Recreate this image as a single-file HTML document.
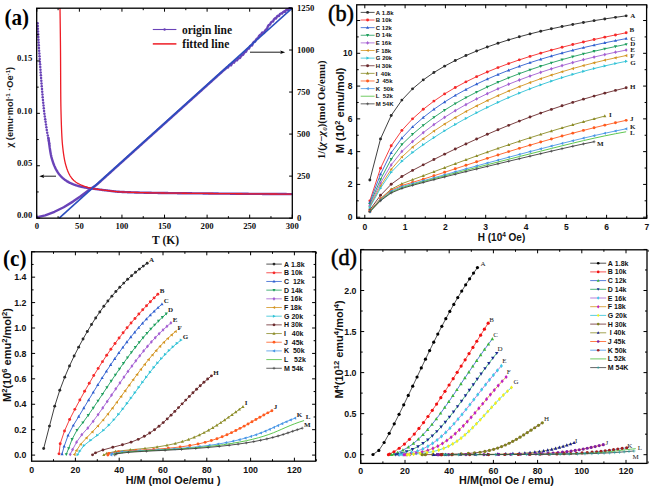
<!DOCTYPE html>
<html><head><meta charset="utf-8"><style>html,body{margin:0;padding:0;background:#fff;overflow:hidden;}svg{display:block;}</style></head>
<body>
<svg width="650" height="486" viewBox="0 0 650 486">
<rect width="650" height="486" fill="#fff"/>
<polyline points="37.6,217.1 45.2,215.3 54.5,211.8 63.7,207.2 72.9,201.6 80.3,196.5 87.7,191 91.5,188.2 96,185.36 97,184.46 98,183.56 99,182.66 100,181.75 101,180.85 102,179.95 103,179.05 104,178.15 105,177.25 106,176.34 107,175.44 108,174.54 109,173.64 110,172.74 111,171.84 112,170.93 113,170.03 114,169.13 115,168.23 116,167.33 117,166.43 118,165.52 119,164.62 120,163.72 121,162.82 122,161.92 123,161.02 124,160.11 125,159.21 126,158.31 127,157.41 128,156.51 129,155.61 130,154.7 131,153.8 132,152.9 133,152 134,151.1 135,150.19 136,149.29 137,148.39 138,147.49 139,146.59 140,145.69 141,144.78 142,143.88 143,142.98 144,142.08 145,141.18 146,140.28 147,139.37 148,138.47 149,137.57 150,136.67 151,135.77 152,134.87 153,133.97 154,133.07 155,132.17 156,131.27 157,130.37 158,129.47 159,128.57 160,127.67 161,126.77 162,125.87 163,124.97 164,124.07 165,123.17 166,122.27 167,121.37 168,120.47 169,119.57 170,118.67 171,117.78 172,116.88 173,115.98 174,115.08 175,114.18 176,113.28 177,112.38 178,111.48 179,110.58 180,109.68 181,108.78 182,107.88 183,106.98 184,106.08 185,105.18 186,104.28 187,103.38 188,102.48 189,101.58 190,100.68 191,99.78 192,98.88 193,97.98 194,97.08 195,96.18 196,95.28 197,94.38 198,93.48 199,92.58 200,91.68 201,90.78 202,89.88 203,88.98 204,88.08 205,87.17 206,86.27 207,85.37 208,84.47 209,83.57 210,82.67 211,81.76 212,80.86 213,79.96 214,79.06 215,78.16 216,77.26 217,76.35 218,75.45 219,74.55 220,73.65 221,72.75 222,71.85 223,70.94 224,70.04 225,69.22 226,68.39 227,67.24 228,67.56 229,65.48 230,64.84 231,65.34 232,63.52 233,62.33 234,62.7 235,60.83 236,60.34 237,60.31 238,58.69 239,57.98 240,57.98 241,56.19 242,55.17 243,54.9 244,53.19 245,51.86 246,51.85 247,49.57 248,48.67 249,48.49 250,46.19 251,45.35 252,45.46 253,42.96 254,41.74 255,41.72 256,39.77 257,38.55 258,38.19 259,36.11 260,34.9 261,34.51 262,32.72 263,32.48 264,32.91 265,30.69 266,29.56 267,28.96 268,26.2 269,24.81 270,24.6 271,22.39 272,21.63 273,21.51 274,19.28 275,18.27 276,18.58 277,16.52 278,15.67 279,16.06 280,13.98 281,13.45 282,13.66 283,12.12 284,11.44 285,11.75 286,10.13 287,9.37 288,10.03 289,8.38 290,8.12 291,8.62" fill="none" stroke="#6a43b8" stroke-width="2.4" stroke-linejoin="round" stroke-linecap="round"/>
<polyline points="48.36,138.11 48.45,138.6 48.54,139.09 48.63,139.58 48.71,140.08 48.79,140.57 48.86,141.06 48.93,141.56 49,142.05 49.06,142.55 49.13,143.05 49.19,143.54 49.25,144.04 49.31,144.53 49.37,145.03 49.43,145.53 49.5,146.02 49.56,146.52 49.63,147.02 49.7,147.51 49.77,148.01 49.85,148.5 49.92,148.99 50,149.49 50.08,149.98 50.16,150.48 50.24,150.97 50.32,151.47 50.4,151.96 50.49,152.45 50.58,152.95 50.67,153.44 50.76,153.93 50.86,154.42 50.95,154.91 51.06,155.4 51.16,155.89 51.27,156.37 51.38,156.86 51.5,157.34 51.63,157.82 51.76,158.31 51.89,158.79 52.03,159.27 52.17,159.75 52.32,160.23 52.47,160.71 52.63,161.19 52.79,161.67 52.95,162.14 53.12,162.61 53.29,163.09 53.46,163.55 53.64,164.02 53.82,164.48 54,164.95 54.18,165.41 54.38,165.87 54.57,166.33 54.78,166.79 54.99,167.25 55.2,167.7 55.42,168.16 55.64,168.61 55.87,169.06 56.11,169.5 56.35,169.94 56.59,170.38 56.84,170.81 57.09,171.24 57.35,171.66 57.61,172.08 57.89,172.49 58.17,172.91 58.46,173.32 58.75,173.73 59.06,174.13 59.37,174.53 59.69,174.92 60.02,175.31 60.35,175.69 60.69,176.06 61.03,176.42 61.37,176.77 61.72,177.12 62.08,177.46 62.44,177.79 62.82,178.13 63.2,178.45 63.58,178.78 63.98,179.1 64.38,179.41 64.78,179.72 65.19,180.02 65.6,180.31 66.02,180.59 66.44,180.87 66.86,181.14 67.28,181.4 67.71,181.65 68.14,181.89 68.57,182.13 69.01,182.36 69.45,182.59 69.89,182.82 70.35,183.04 70.8,183.25 71.26,183.47 71.72,183.67 72.18,183.87 72.65,184.07 73.12,184.26 73.58,184.45 74.06,184.63 74.53,184.8 75,184.97 75.47,185.13 75.94,185.28 76.41,185.43 76.89,185.58 77.36,185.72 77.84,185.86 78.32,186 78.8,186.13 79.29,186.26 79.77,186.39 80.26,186.51 80.74,186.64 81.23,186.76 81.72,186.87 82.21,186.98 82.7,187.09 83.19,187.2 83.68,187.3 84.18,187.4 84.67,187.5 85.16,187.6 85.65,187.69 86.14,187.77 86.63,187.86 87.12,187.94 87.62,188.01 88.11,188.09 88.6,188.16 89.1,188.23 89.59,188.3 90.09,188.36 90.59,188.43 91.08,188.49 91.58,188.55 92.08,188.61 92.57,188.67 93.07,188.73 93.57,188.79 94.06,188.85 94.56,188.91 95.06,188.97 95.56,189.03 96.05,189.09 96.55,189.15 97.04,189.22 97.54,189.28 98.04,189.35 98.53,189.41 99.03,189.48 99.52,189.55 100.02,189.61 100.51,189.68 101.01,189.74 101.51,189.81 102,189.87 102.5,189.94 102.99,190 103.49,190.07 103.99,190.13 104.48,190.19 104.98,190.25 105.47,190.31 105.97,190.37 106.47,190.43 106.96,190.49 107.46,190.55 107.96,190.61 108.45,190.68 108.95,190.74 109.45,190.8 109.94,190.87 110.44,190.93 110.94,190.99 111.43,191.06 111.93,191.12 112.43,191.18 112.92,191.24 113.42,191.29 113.92,191.35 114.41,191.41 114.91,191.46 115.41,191.51 115.91,191.56 116.4,191.6 116.9,191.65 117.4,191.69 117.9,191.72 118.4,191.76 118.89,191.79 119.39,191.82 119.89,191.84 120.39,191.87 120.89,191.89 121.39,191.92 121.88,191.94 122.38,191.97 122.88,191.99 123.38,192.01 123.88,192.04 124.38,192.06 124.88,192.08 125.38,192.1 125.88,192.12 126.38,192.15 126.88,192.17 127.38,192.19 127.87,192.21 128.37,192.23 128.87,192.24 129.37,192.26 129.87,192.28 130.37,192.3 130.87,192.32 131.37,192.33 131.87,192.35 132.37,192.37 132.87,192.38 133.37,192.4 133.87,192.42 134.37,192.43 134.87,192.45 135.37,192.46 135.87,192.48 136.37,192.49 136.87,192.51 137.37,192.52 137.87,192.53 138.37,192.55 138.87,192.56 139.37,192.57 139.87,192.59 140.37,192.6 140.88,192.61 141.38,192.62 141.88,192.63 142.38,192.65 142.88,192.66 143.38,192.67 143.88,192.68 144.38,192.69 144.88,192.7 145.38,192.71 145.88,192.72 146.38,192.73 146.88,192.74 147.38,192.75 147.88,192.76 148.38,192.77 148.88,192.78 149.38,192.79 149.88,192.8 150.38,192.81 150.88,192.82 151.38,192.82 151.88,192.83 152.38,192.84 152.88,192.85 153.38,192.86 153.88,192.87 154.38,192.88 154.88,192.88 155.38,192.89 155.88,192.9 156.38,192.91 156.88,192.92 157.38,192.92 157.88,192.93 158.37,192.94 158.87,192.95 159.37,192.95 159.87,192.96 160.37,192.97 160.87,192.98 161.37,192.98 161.87,192.99 162.37,193 162.87,193 163.37,193.01 163.87,193.02 164.37,193.02 164.87,193.03 165.37,193.04 165.87,193.04 166.37,193.05 166.87,193.06 167.37,193.06 167.87,193.07 168.37,193.08 168.87,193.08 169.37,193.09 169.87,193.09 170.37,193.1 170.87,193.11 171.37,193.11 171.87,193.12 172.37,193.12 172.87,193.13 173.37,193.14 173.87,193.14 174.37,193.15 174.87,193.15 175.37,193.16 175.87,193.16 176.37,193.17 176.87,193.17 177.37,193.18 177.87,193.18 178.37,193.19 178.87,193.2 179.37,193.2 179.87,193.21 180.37,193.21 180.87,193.22 181.37,193.22 181.87,193.23 182.37,193.23 182.87,193.24 183.37,193.24 183.87,193.25 184.37,193.25 184.87,193.26 185.37,193.26 185.87,193.27 186.37,193.27 186.87,193.28 187.37,193.28 187.87,193.29 188.37,193.29 188.87,193.29 189.37,193.3 189.87,193.3 190.37,193.31 190.87,193.31 191.37,193.32 191.87,193.32 192.37,193.33 192.87,193.33 193.37,193.34 193.87,193.34 194.37,193.35 194.87,193.35 195.37,193.36 195.87,193.36 196.37,193.37 196.87,193.37 197.37,193.38 197.87,193.38 198.37,193.38 198.87,193.39 199.37,193.39 199.87,193.4 200.37,193.4 200.87,193.41 201.37,193.41 201.87,193.42 202.37,193.42 202.87,193.43 203.37,193.43 203.87,193.44 204.37,193.44 204.87,193.45 205.37,193.45 205.87,193.46 206.37,193.46 206.87,193.47 207.37,193.47 207.87,193.47 208.37,193.48 208.87,193.48 209.37,193.49 209.87,193.49 210.37,193.5 210.87,193.5 211.37,193.51 211.87,193.51 212.37,193.52 212.87,193.52 213.37,193.53 213.87,193.53 214.37,193.53 214.87,193.54 215.37,193.54 215.87,193.55 216.37,193.55 216.87,193.56 217.37,193.56 217.87,193.57 218.37,193.57 218.87,193.58 219.37,193.58 219.87,193.58 220.37,193.59 220.87,193.59 221.37,193.6 221.87,193.6 222.37,193.61 222.87,193.61 223.37,193.62 223.87,193.62 224.37,193.62 224.87,193.63 225.37,193.63 225.87,193.64 226.37,193.64 226.87,193.65 227.37,193.65 227.87,193.66 228.37,193.66 228.87,193.66 229.37,193.67 229.87,193.67 230.37,193.68 230.87,193.68 231.37,193.69 231.87,193.69 232.37,193.69 232.87,193.7 233.37,193.7 233.87,193.71 234.37,193.71 234.87,193.72 235.37,193.72 235.87,193.72 236.37,193.73 236.87,193.73 237.37,193.74 237.87,193.74 238.37,193.74 238.87,193.75 239.37,193.75 239.87,193.76 240.37,193.76 240.87,193.76 241.37,193.77 241.87,193.77 242.37,193.78 242.87,193.78 243.37,193.79 243.87,193.79 244.37,193.79 244.87,193.8 245.37,193.8 245.87,193.8 246.37,193.81 246.87,193.81 247.37,193.82 247.87,193.82 248.37,193.82 248.87,193.83 249.37,193.83 249.87,193.84 250.37,193.84 250.87,193.84 251.37,193.85 251.87,193.85 252.37,193.85 252.87,193.86 253.37,193.86 253.87,193.87 254.37,193.87 254.87,193.87 255.37,193.88 255.87,193.88 256.37,193.88 256.87,193.89 257.37,193.89 257.87,193.9 258.37,193.9 258.87,193.9 259.37,193.91 259.87,193.91 260.37,193.91 260.87,193.92 261.37,193.92 261.87,193.92 262.37,193.93 262.87,193.93 263.37,193.93 263.87,193.94 264.37,193.94 264.87,193.94 265.37,193.95 265.87,193.95 266.37,193.95 266.87,193.96 267.37,193.96 267.87,193.96 268.37,193.97 268.87,193.97 269.37,193.97 269.87,193.98 270.37,193.98 270.87,193.98 271.37,193.99 271.87,193.99 272.37,193.99 272.87,194 273.37,194 273.87,194 274.37,194.01 274.87,194.01 275.37,194.01 275.87,194.01 276.37,194.02 276.87,194.02 277.37,194.02 277.87,194.03 278.37,194.03 278.87,194.03 279.37,194.04 279.87,194.04 280.37,194.04 280.87,194.04 281.37,194.05 281.87,194.05 282.37,194.05 282.87,194.06 283.37,194.06 283.87,194.06 284.37,194.06 284.87,194.07 285.37,194.07 285.87,194.07 286.37,194.07 286.87,194.08 287.37,194.08 287.87,194.08 288.37,194.08 288.87,194.09 289.37,194.09 289.87,194.09 290.37,194.09 290.87,194.1 291.37,194.1" fill="none" stroke="#6a43b8" stroke-width="2.4" stroke-linejoin="round" stroke-linecap="round"/>
<polyline points="37.6,23.2 37.73,25.95 37.87,28.69 38.01,31.44 38.16,34.19 38.31,36.93 38.46,39.68 38.62,42.42 38.79,45.17 38.96,47.91 39.14,50.66 39.33,53.4 39.51,56.14 39.7,58.89 39.89,61.63 40.08,64.37 40.28,67.12 40.47,69.86 40.67,72.6 40.88,75.35 41.08,78.09 41.3,80.83 41.52,83.57 41.74,86.31 41.97,89.05 42.21,91.79 42.45,94.53 42.7,97.27 42.95,100.01 43.22,102.75 43.5,105.48 43.79,108.22 44.09,110.95 44.42,113.68 44.79,116.4 45.18,119.13 45.58,121.85 45.96,124.57 46.35,127.3 46.76,130.02 47.22,132.72 47.79,135.42 48.36,138.11 48.83,140.82 49.19,143.54" fill="none" stroke="#6a43b8" stroke-width="0.4" stroke-linejoin="round" stroke-opacity="0.6"/>
<circle cx="37.6" cy="23.2" r="1.25" fill="#6a43b8"/>
<circle cx="37.73" cy="25.95" r="1.25" fill="#6a43b8"/>
<circle cx="37.87" cy="28.69" r="1.25" fill="#6a43b8"/>
<circle cx="38.01" cy="31.44" r="1.25" fill="#6a43b8"/>
<circle cx="38.16" cy="34.19" r="1.25" fill="#6a43b8"/>
<circle cx="38.31" cy="36.93" r="1.25" fill="#6a43b8"/>
<circle cx="38.46" cy="39.68" r="1.25" fill="#6a43b8"/>
<circle cx="38.62" cy="42.42" r="1.25" fill="#6a43b8"/>
<circle cx="38.79" cy="45.17" r="1.25" fill="#6a43b8"/>
<circle cx="38.96" cy="47.91" r="1.25" fill="#6a43b8"/>
<circle cx="39.14" cy="50.66" r="1.25" fill="#6a43b8"/>
<circle cx="39.33" cy="53.4" r="1.25" fill="#6a43b8"/>
<circle cx="39.51" cy="56.14" r="1.25" fill="#6a43b8"/>
<circle cx="39.7" cy="58.89" r="1.25" fill="#6a43b8"/>
<circle cx="39.89" cy="61.63" r="1.25" fill="#6a43b8"/>
<circle cx="40.08" cy="64.37" r="1.25" fill="#6a43b8"/>
<circle cx="40.28" cy="67.12" r="1.25" fill="#6a43b8"/>
<circle cx="40.47" cy="69.86" r="1.25" fill="#6a43b8"/>
<circle cx="40.67" cy="72.6" r="1.25" fill="#6a43b8"/>
<circle cx="40.88" cy="75.35" r="1.25" fill="#6a43b8"/>
<circle cx="41.08" cy="78.09" r="1.25" fill="#6a43b8"/>
<circle cx="41.3" cy="80.83" r="1.25" fill="#6a43b8"/>
<circle cx="41.52" cy="83.57" r="1.25" fill="#6a43b8"/>
<circle cx="41.74" cy="86.31" r="1.25" fill="#6a43b8"/>
<circle cx="41.97" cy="89.05" r="1.25" fill="#6a43b8"/>
<circle cx="42.21" cy="91.79" r="1.25" fill="#6a43b8"/>
<circle cx="42.45" cy="94.53" r="1.25" fill="#6a43b8"/>
<circle cx="42.7" cy="97.27" r="1.25" fill="#6a43b8"/>
<circle cx="42.95" cy="100.01" r="1.25" fill="#6a43b8"/>
<circle cx="43.22" cy="102.75" r="1.25" fill="#6a43b8"/>
<circle cx="43.5" cy="105.48" r="1.25" fill="#6a43b8"/>
<circle cx="43.79" cy="108.22" r="1.25" fill="#6a43b8"/>
<circle cx="44.09" cy="110.95" r="1.25" fill="#6a43b8"/>
<circle cx="44.42" cy="113.68" r="1.25" fill="#6a43b8"/>
<circle cx="44.79" cy="116.4" r="1.25" fill="#6a43b8"/>
<circle cx="45.18" cy="119.13" r="1.25" fill="#6a43b8"/>
<circle cx="45.58" cy="121.85" r="1.25" fill="#6a43b8"/>
<circle cx="45.96" cy="124.57" r="1.25" fill="#6a43b8"/>
<circle cx="46.35" cy="127.3" r="1.25" fill="#6a43b8"/>
<circle cx="46.76" cy="130.02" r="1.25" fill="#6a43b8"/>
<circle cx="47.22" cy="132.72" r="1.25" fill="#6a43b8"/>
<circle cx="47.79" cy="135.42" r="1.25" fill="#6a43b8"/>
<circle cx="48.36" cy="138.11" r="1.25" fill="#6a43b8"/>
<circle cx="48.83" cy="140.82" r="1.25" fill="#6a43b8"/>
<circle cx="49.19" cy="143.54" r="1.25" fill="#6a43b8"/>
<polyline points="60,8 60.01,8.66 60.02,9.32 60.03,9.98 60.04,10.64 60.05,11.29 60.06,11.95 60.07,12.61 60.08,13.27 60.09,13.93 60.09,14.59 60.1,15.25 60.11,15.91 60.12,16.56 60.13,17.22 60.14,17.88 60.15,18.54 60.16,19.2 60.17,19.86 60.18,20.52 60.18,21.18 60.19,21.84 60.2,22.49 60.21,23.15 60.22,23.81 60.23,24.47 60.24,25.13 60.24,25.79 60.25,26.45 60.26,27.11 60.27,27.76 60.28,28.42 60.29,29.08 60.29,29.74 60.3,30.4 60.31,31.06 60.32,31.72 60.32,32.38 60.33,33.03 60.34,33.69 60.35,34.35 60.35,35.01 60.36,35.67 60.37,36.33 60.38,36.99 60.38,37.65 60.39,38.31 60.4,38.96 60.4,39.62 60.41,40.28 60.42,40.94 60.42,41.6 60.43,42.26 60.44,42.92 60.44,43.58 60.45,44.24 60.46,44.89 60.46,45.55 60.47,46.21 60.47,46.87 60.48,47.53 60.49,48.19 60.49,48.85 60.5,49.51 60.5,50.16 60.51,50.82 60.51,51.48 60.52,52.14 60.52,52.8 60.53,53.46 60.53,54.12 60.53,54.78 60.54,55.44 60.54,56.09 60.55,56.75 60.55,57.41 60.56,58.07 60.56,58.73 60.56,59.39 60.57,60.05 60.57,60.71 60.57,61.37 60.58,62.02 60.58,62.68 60.58,63.34 60.59,64 60.59,64.66 60.59,65.32 60.6,65.98 60.6,66.64 60.6,67.3 60.61,67.95 60.61,68.61 60.61,69.27 60.61,69.93 60.62,70.59 60.62,71.25 60.62,71.91 60.63,72.57 60.63,73.23 60.63,73.88 60.63,74.54 60.64,75.2 60.64,75.86 60.64,76.52 60.65,77.18 60.65,77.84 60.65,78.5 60.66,79.16 60.66,79.81 60.66,80.47 60.66,81.13 60.67,81.79 60.67,82.45 60.67,83.11 60.68,83.77 60.68,84.43 60.69,85.08 60.69,85.74 60.69,86.4 60.7,87.06 60.7,87.72 60.71,88.38 60.71,89.04 60.71,89.7 60.72,90.36 60.72,91.01 60.73,91.67 60.73,92.33 60.74,92.99 60.74,93.65 60.75,94.31 60.75,94.97 60.76,95.63 60.76,96.29 60.77,96.94 60.78,97.6 60.78,98.26 60.79,98.92 60.8,99.58 60.8,100.24 60.81,100.9 60.82,101.56 60.83,102.21 60.84,102.87 60.85,103.53 60.86,104.19 60.87,104.85 60.88,105.51 60.89,106.17 60.9,106.83 60.92,107.48 60.93,108.14 60.94,108.8 60.96,109.46 60.97,110.12 60.99,110.78 61.01,111.44 61.02,112.1 61.04,112.75 61.05,113.41 61.07,114.07 61.09,114.73 61.11,115.39 61.13,116.05 61.14,116.71 61.16,117.36 61.18,118.02 61.2,118.68 61.22,119.34 61.24,120 61.26,120.66 61.28,121.32 61.3,121.97 61.32,122.63 61.34,123.29 61.36,123.95 61.38,124.61 61.41,125.27 61.43,125.93 61.45,126.58 61.48,127.24 61.5,127.9 61.53,128.56 61.55,129.22 61.58,129.88 61.61,130.54 61.63,131.2 61.66,131.85 61.69,132.51 61.72,133.17 61.76,133.83 61.79,134.49 61.82,135.14 61.86,135.8 61.89,136.46 61.93,137.12 61.97,137.78 62,138.43 62.04,139.09 62.08,139.75 62.13,140.4 62.17,141.06 62.22,141.72 62.27,142.37 62.33,143.03 62.39,143.69 62.45,144.34 62.51,145 62.58,145.66 62.65,146.31 62.72,146.97 62.79,147.62 62.86,148.28 62.94,148.93 63.02,149.59 63.09,150.24 63.17,150.89 63.25,151.55 63.34,152.2 63.42,152.86 63.51,153.51 63.6,154.16 63.7,154.82 63.8,155.47 63.9,156.12 64,156.77 64.11,157.43 64.22,158.07 64.34,158.72 64.46,159.37 64.58,160.01 64.71,160.66 64.85,161.3 64.99,161.94 65.14,162.59 65.29,163.23 65.45,163.87 65.62,164.51 65.8,165.15 65.98,165.79 66.17,166.42 66.36,167.06 66.57,167.68 66.77,168.31 66.99,168.93 67.21,169.54 67.43,170.15 67.67,170.77 67.92,171.38 68.18,172 68.45,172.61 68.74,173.21 69.03,173.82 69.34,174.41 69.66,174.99 69.98,175.56 70.32,176.12 70.67,176.66 71.03,177.19 71.41,177.71 71.82,178.23 72.25,178.74 72.69,179.25 73.16,179.74 73.63,180.22 74.12,180.68 74.62,181.12 75.13,181.54 75.64,181.94 76.16,182.31 76.69,182.66 77.24,183 77.81,183.33 78.39,183.65 78.98,183.95 79.58,184.25 80.19,184.53 80.8,184.81 81.41,185.07 82.03,185.33 82.64,185.58 83.25,185.82 83.87,186.06 84.48,186.29 85.1,186.51 85.73,186.73 86.36,186.94 86.99,187.14 87.62,187.33 88.25,187.51 88.89,187.67 89.53,187.83 90.17,187.98 90.81,188.12 91.45,188.25 92.1,188.38 92.75,188.51 93.4,188.62 94.05,188.74 94.7,188.85 95.35,188.96 96,189.06 96.65,189.16 97.3,189.26 97.96,189.36 98.61,189.45 99.26,189.54 99.91,189.63 100.57,189.72 101.22,189.8 101.87,189.88 102.53,189.96 103.18,190.04 103.84,190.12 104.49,190.2 105.15,190.28 105.8,190.35 106.45,190.43 107.11,190.51 107.76,190.59 108.42,190.67 109.07,190.76 109.73,190.84 110.38,190.92 111.03,191.01 111.69,191.09 112.34,191.17 113,191.25 113.65,191.32 114.31,191.39 114.96,191.46 115.62,191.53 116.28,191.59 116.93,191.65 117.59,191.7 118.24,191.75 118.9,191.79 119.56,191.82 120.21,191.86 120.87,191.89 121.53,191.93 122.18,191.96 122.84,191.99 123.5,192.02 124.16,192.05 124.81,192.08 125.47,192.11 126.13,192.14 126.79,192.16 127.45,192.19 128.1,192.21 128.76,192.24 129.42,192.26 130.08,192.29 130.74,192.31 131.4,192.34 132.06,192.36 132.71,192.38 133.37,192.4 134.03,192.42 134.69,192.44 135.35,192.46 136.01,192.48 136.67,192.5 137.33,192.52 137.99,192.54 138.65,192.55 139.3,192.57 139.96,192.59 140.62,192.6 141.28,192.62 141.94,192.64 142.6,192.65 143.26,192.67 143.92,192.68 144.58,192.69 145.24,192.71 145.9,192.72 146.56,192.73 147.21,192.75 147.87,192.76 148.53,192.77 149.19,192.79 149.85,192.8 150.51,192.81 151.17,192.82 151.83,192.83 152.48,192.84 153.14,192.86 153.8,192.87 154.46,192.88 155.12,192.89 155.78,192.9 156.44,192.91 157.1,192.92 157.75,192.93 158.41,192.94 159.07,192.95 159.73,192.96 160.39,192.97 161.05,192.98 161.71,192.99 162.37,193 163.02,193.01 163.68,193.02 164.34,193.02 165,193.03 165.66,193.04 166.32,193.05 166.98,193.06 167.64,193.07 168.29,193.08 168.95,193.08 169.61,193.09 170.27,193.1 170.93,193.11 171.59,193.12 172.25,193.12 172.91,193.13 173.57,193.14 174.22,193.15 174.88,193.15 175.54,193.16 176.2,193.17 176.86,193.17 177.52,193.18 178.18,193.19 178.84,193.2 179.5,193.2 180.15,193.21 180.81,193.22 181.47,193.22 182.13,193.23 182.79,193.24 183.45,193.24 184.11,193.25 184.77,193.26 185.43,193.26 186.08,193.27 186.74,193.27 187.4,193.28 188.06,193.29 188.72,193.29 189.38,193.3 190.04,193.31 190.7,193.31 191.35,193.32 192.01,193.32 192.67,193.33 193.33,193.34 193.99,193.34 194.65,193.35 195.31,193.36 195.97,193.36 196.63,193.37 197.28,193.37 197.94,193.38 198.6,193.39 199.26,193.39 199.92,193.4 200.58,193.41 201.24,193.41 201.9,193.42 202.56,193.42 203.21,193.43 203.87,193.44 204.53,193.44 205.19,193.45 205.85,193.46 206.51,193.46 207.17,193.47 207.83,193.47 208.48,193.48 209.14,193.49 209.8,193.49 210.46,193.5 211.12,193.5 211.78,193.51 212.44,193.52 213.1,193.52 213.76,193.53 214.41,193.54 215.07,193.54 215.73,193.55 216.39,193.55 217.05,193.56 217.71,193.57 218.37,193.57 219.03,193.58 219.69,193.58 220.34,193.59 221,193.59 221.66,193.6 222.32,193.61 222.98,193.61 223.64,193.62 224.3,193.62 224.96,193.63 225.61,193.64 226.27,193.64 226.93,193.65 227.59,193.65 228.25,193.66 228.91,193.66 229.57,193.67 230.23,193.68 230.89,193.68 231.54,193.69 232.2,193.69 232.86,193.7 233.52,193.7 234.18,193.71 234.84,193.72 235.5,193.72 236.16,193.73 236.81,193.73 237.47,193.74 238.13,193.74 238.79,193.75 239.45,193.75 240.11,193.76 240.77,193.76 241.43,193.77 242.09,193.77 242.74,193.78 243.4,193.79 244.06,193.79 244.72,193.8 245.38,193.8 246.04,193.81 246.7,193.81 247.36,193.82 248.02,193.82 248.67,193.83 249.33,193.83 249.99,193.84 250.65,193.84 251.31,193.85 251.97,193.85 252.63,193.86 253.29,193.86 253.95,193.87 254.6,193.87 255.26,193.88 255.92,193.88 256.58,193.89 257.24,193.89 257.9,193.9 258.56,193.9 259.22,193.91 259.87,193.91 260.53,193.91 261.19,193.92 261.85,193.92 262.51,193.93 263.17,193.93 263.83,193.94 264.49,193.94 265.15,193.95 265.8,193.95 266.46,193.96 267.12,193.96 267.78,193.96 268.44,193.97 269.1,193.97 269.76,193.98 270.42,193.98 271.08,193.99 271.73,193.99 272.39,193.99 273.05,194 273.71,194 274.37,194.01 275.03,194.01 275.69,194.01 276.35,194.02 277,194.02 277.66,194.03 278.32,194.03 278.98,194.03 279.64,194.04 280.3,194.04 280.96,194.04 281.62,194.05 282.28,194.05 282.93,194.06 283.59,194.06 284.25,194.06 284.91,194.07 285.57,194.07 286.23,194.07 286.89,194.08 287.55,194.08 288.21,194.08 288.86,194.09 289.52,194.09 290.18,194.09 290.84,194.1 291.5,194.1" fill="none" stroke="#ee1c25" stroke-width="1.3" stroke-linejoin="round" />
<line x1="59.19" y1="218.15" x2="292.2" y2="8.05" stroke="#2b4fbf" stroke-width="1.6" />
<rect x="36.7" y="8.2" width="255.6" height="209.95" fill="none" stroke="#000" stroke-width="1.3"/>
<line x1="36.8" y1="218.15" x2="36.8" y2="214.65" stroke="#000" stroke-width="1" />
<line x1="36.8" y1="8.2" x2="36.8" y2="11.7" stroke="#000" stroke-width="1" />
<line x1="58.09" y1="218.15" x2="58.09" y2="216.15" stroke="#000" stroke-width="1" />
<line x1="58.09" y1="8.2" x2="58.09" y2="10.2" stroke="#000" stroke-width="1" />
<line x1="79.38" y1="218.15" x2="79.38" y2="214.65" stroke="#000" stroke-width="1" />
<line x1="79.38" y1="8.2" x2="79.38" y2="11.7" stroke="#000" stroke-width="1" />
<line x1="100.66" y1="218.15" x2="100.66" y2="216.15" stroke="#000" stroke-width="1" />
<line x1="100.66" y1="8.2" x2="100.66" y2="10.2" stroke="#000" stroke-width="1" />
<line x1="121.95" y1="218.15" x2="121.95" y2="214.65" stroke="#000" stroke-width="1" />
<line x1="121.95" y1="8.2" x2="121.95" y2="11.7" stroke="#000" stroke-width="1" />
<line x1="143.24" y1="218.15" x2="143.24" y2="216.15" stroke="#000" stroke-width="1" />
<line x1="143.24" y1="8.2" x2="143.24" y2="10.2" stroke="#000" stroke-width="1" />
<line x1="164.53" y1="218.15" x2="164.53" y2="214.65" stroke="#000" stroke-width="1" />
<line x1="164.53" y1="8.2" x2="164.53" y2="11.7" stroke="#000" stroke-width="1" />
<line x1="185.81" y1="218.15" x2="185.81" y2="216.15" stroke="#000" stroke-width="1" />
<line x1="185.81" y1="8.2" x2="185.81" y2="10.2" stroke="#000" stroke-width="1" />
<line x1="207.1" y1="218.15" x2="207.1" y2="214.65" stroke="#000" stroke-width="1" />
<line x1="207.1" y1="8.2" x2="207.1" y2="11.7" stroke="#000" stroke-width="1" />
<line x1="228.39" y1="218.15" x2="228.39" y2="216.15" stroke="#000" stroke-width="1" />
<line x1="228.39" y1="8.2" x2="228.39" y2="10.2" stroke="#000" stroke-width="1" />
<line x1="249.68" y1="218.15" x2="249.68" y2="214.65" stroke="#000" stroke-width="1" />
<line x1="249.68" y1="8.2" x2="249.68" y2="11.7" stroke="#000" stroke-width="1" />
<line x1="270.96" y1="218.15" x2="270.96" y2="216.15" stroke="#000" stroke-width="1" />
<line x1="270.96" y1="8.2" x2="270.96" y2="10.2" stroke="#000" stroke-width="1" />
<line x1="292.25" y1="218.15" x2="292.25" y2="214.65" stroke="#000" stroke-width="1" />
<line x1="292.25" y1="8.2" x2="292.25" y2="11.7" stroke="#000" stroke-width="1" />
<line x1="36.7" y1="218.15" x2="39.9" y2="218.15" stroke="#000" stroke-width="1" />
<line x1="36.7" y1="191.95" x2="38.7" y2="191.95" stroke="#000" stroke-width="1" />
<line x1="36.7" y1="165.75" x2="39.9" y2="165.75" stroke="#000" stroke-width="1" />
<line x1="36.7" y1="139.55" x2="38.7" y2="139.55" stroke="#000" stroke-width="1" />
<line x1="36.7" y1="113.35" x2="39.9" y2="113.35" stroke="#000" stroke-width="1" />
<line x1="36.7" y1="87.15" x2="38.7" y2="87.15" stroke="#000" stroke-width="1" />
<line x1="36.7" y1="60.95" x2="39.9" y2="60.95" stroke="#000" stroke-width="1" />
<line x1="36.7" y1="34.75" x2="38.7" y2="34.75" stroke="#000" stroke-width="1" />
<line x1="36.7" y1="8.55" x2="39.9" y2="8.55" stroke="#000" stroke-width="1" />
<line x1="292.3" y1="218.15" x2="289.1" y2="218.15" stroke="#000" stroke-width="1" />
<line x1="292.3" y1="176.12" x2="289.1" y2="176.12" stroke="#000" stroke-width="1" />
<line x1="292.3" y1="134.09" x2="289.1" y2="134.09" stroke="#000" stroke-width="1" />
<line x1="292.3" y1="92.06" x2="289.1" y2="92.06" stroke="#000" stroke-width="1" />
<line x1="292.3" y1="50.03" x2="289.1" y2="50.03" stroke="#000" stroke-width="1" />
<line x1="292.3" y1="8" x2="289.1" y2="8" stroke="#000" stroke-width="1" />
<text x="36.8" y="229.2" font-family="'Liberation Serif',serif" font-size="8.7" font-weight="bold" text-anchor="middle" fill="#111" >0</text>
<text x="79.38" y="229.2" font-family="'Liberation Serif',serif" font-size="8.7" font-weight="bold" text-anchor="middle" fill="#111" >50</text>
<text x="121.95" y="229.2" font-family="'Liberation Serif',serif" font-size="8.7" font-weight="bold" text-anchor="middle" fill="#111" >100</text>
<text x="164.53" y="229.2" font-family="'Liberation Serif',serif" font-size="8.7" font-weight="bold" text-anchor="middle" fill="#111" >150</text>
<text x="207.1" y="229.2" font-family="'Liberation Serif',serif" font-size="8.7" font-weight="bold" text-anchor="middle" fill="#111" >200</text>
<text x="249.68" y="229.2" font-family="'Liberation Serif',serif" font-size="8.7" font-weight="bold" text-anchor="middle" fill="#111" >250</text>
<text x="292.25" y="229.2" font-family="'Liberation Serif',serif" font-size="8.7" font-weight="bold" text-anchor="middle" fill="#111" >300</text>
<text x="32.3" y="218.35" font-family="'Liberation Serif',serif" font-size="8.7" font-weight="bold" text-anchor="end" fill="#111" >0.00</text>
<text x="32.3" y="165.95" font-family="'Liberation Serif',serif" font-size="8.7" font-weight="bold" text-anchor="end" fill="#111" >0.05</text>
<text x="32.3" y="113.55" font-family="'Liberation Serif',serif" font-size="8.7" font-weight="bold" text-anchor="end" fill="#111" >0.10</text>
<text x="32.3" y="61.15" font-family="'Liberation Serif',serif" font-size="8.7" font-weight="bold" text-anchor="end" fill="#111" >0.15</text>
<text x="297" y="221.15" font-family="'Liberation Serif',serif" font-size="8.7" font-weight="bold" text-anchor="start" fill="#111" >0</text>
<text x="297" y="179.12" font-family="'Liberation Serif',serif" font-size="8.7" font-weight="bold" text-anchor="start" fill="#111" >250</text>
<text x="297" y="137.09" font-family="'Liberation Serif',serif" font-size="8.7" font-weight="bold" text-anchor="start" fill="#111" >500</text>
<text x="297" y="95.06" font-family="'Liberation Serif',serif" font-size="8.7" font-weight="bold" text-anchor="start" fill="#111" >750</text>
<text x="297" y="53.03" font-family="'Liberation Serif',serif" font-size="8.7" font-weight="bold" text-anchor="start" fill="#111" >1000</text>
<text x="297" y="11" font-family="'Liberation Serif',serif" font-size="8.7" font-weight="bold" text-anchor="start" fill="#111" >1250</text>
<text x="165.6" y="243.5" font-family="'Liberation Serif',serif" font-size="11.5" font-weight="bold" text-anchor="middle" fill="#111" >T (K)</text>
<line x1="43" y1="176.2" x2="56" y2="176.2" stroke="#000" stroke-width="0.9" />
<path d="M39.2,176.2 L44.2,174.5 L43.2,176.2 L44.2,177.9 Z" fill="#000"/>
<line x1="250" y1="52.2" x2="281" y2="52.2" stroke="#000" stroke-width="0.9" />
<path d="M285.2,52.2 L280.2,50.5 L281.2,52.2 L280.2,53.9 Z" fill="#000"/>
<line x1="152.8" y1="29.5" x2="176.4" y2="29.5" stroke="#6a43b8" stroke-width="1.1" />
<circle cx="164.6" cy="29.5" r="1.2" fill="#6a43b8"/>
<line x1="152.8" y1="43.9" x2="176.4" y2="43.9" stroke="#ee1c25" stroke-width="1.5" />
<text x="181.9" y="33.6" font-family="'Liberation Serif',serif" font-size="11.5" font-weight="bold" text-anchor="start" fill="#111" >origin line</text>
<text x="182.3" y="47.9" font-family="'Liberation Serif',serif" font-size="11.5" font-weight="bold" text-anchor="start" fill="#111" >fitted line</text>
<text transform="translate(13.2,107.3) rotate(-90)" font-family="'Liberation Sans',sans-serif" font-size="9.2" font-weight="bold" text-anchor="middle" fill="#1a1a1a"><tspan font-family="'Liberation Serif',serif" font-size="11" font-weight="bold">&#967;</tspan> (emu&#183;mol<tspan dy="-3.6" font-size="6.2">-1</tspan><tspan dy="3.6"> &#183;Oe</tspan><tspan dy="-3.6" font-size="6.2">-1</tspan><tspan dy="3.6">)</tspan></text>
<text transform="translate(325.4,109.8) rotate(-90)" font-family="'Liberation Serif',serif" font-size="10.8" font-weight="bold" text-anchor="middle" fill="#111">1/(<tspan font-style="italic">&#967;</tspan>&#8722;<tspan font-style="italic">&#967;</tspan><tspan dy="2" font-size="7" font-style="italic">0</tspan><tspan dy="-2">)(mol Oe/emu)</tspan></text>
<text transform="translate(4.5,24.5) scale(0.92,1)" font-family="'Liberation Serif',serif" font-size="23" font-weight="bold" fill="#000">(a)</text>
<polyline points="369.84,180.02 380.52,138.88 391.2,115.48 401.88,100.08 412.56,88.83 423.24,79.92 433.91,72.51 444.59,66.14 455.27,60.53 465.95,55.53 476.63,51.04 487.31,46.96 497.99,43.26 508.67,39.87 519.35,36.77 530.03,33.9 540.71,31.26 551.39,28.82 562.07,26.55 572.75,24.44 583.43,22.47 594.11,20.64 604.79,18.93 615.47,17.33 626.15,15.83" fill="none" stroke="#2a2a2a" stroke-width="0.9" stroke-linejoin="round" />
<circle cx="369.84" cy="180.02" r="1.45" fill="#2a2a2a"/>
<circle cx="380.52" cy="138.88" r="1.45" fill="#2a2a2a"/>
<circle cx="391.2" cy="115.48" r="1.45" fill="#2a2a2a"/>
<circle cx="401.88" cy="100.08" r="1.45" fill="#2a2a2a"/>
<circle cx="412.56" cy="88.83" r="1.45" fill="#2a2a2a"/>
<circle cx="423.24" cy="79.92" r="1.45" fill="#2a2a2a"/>
<circle cx="433.91" cy="72.51" r="1.45" fill="#2a2a2a"/>
<circle cx="444.59" cy="66.14" r="1.45" fill="#2a2a2a"/>
<circle cx="455.27" cy="60.53" r="1.45" fill="#2a2a2a"/>
<circle cx="465.95" cy="55.53" r="1.45" fill="#2a2a2a"/>
<circle cx="476.63" cy="51.04" r="1.45" fill="#2a2a2a"/>
<circle cx="487.31" cy="46.96" r="1.45" fill="#2a2a2a"/>
<circle cx="497.99" cy="43.26" r="1.45" fill="#2a2a2a"/>
<circle cx="508.67" cy="39.87" r="1.45" fill="#2a2a2a"/>
<circle cx="519.35" cy="36.77" r="1.45" fill="#2a2a2a"/>
<circle cx="530.03" cy="33.9" r="1.45" fill="#2a2a2a"/>
<circle cx="540.71" cy="31.26" r="1.45" fill="#2a2a2a"/>
<circle cx="551.39" cy="28.82" r="1.45" fill="#2a2a2a"/>
<circle cx="562.07" cy="26.55" r="1.45" fill="#2a2a2a"/>
<circle cx="572.75" cy="24.44" r="1.45" fill="#2a2a2a"/>
<circle cx="583.43" cy="22.47" r="1.45" fill="#2a2a2a"/>
<circle cx="594.11" cy="20.64" r="1.45" fill="#2a2a2a"/>
<circle cx="604.79" cy="18.93" r="1.45" fill="#2a2a2a"/>
<circle cx="615.47" cy="17.33" r="1.45" fill="#2a2a2a"/>
<circle cx="626.15" cy="15.83" r="1.45" fill="#2a2a2a"/>
<polyline points="369.84,200.83 380.52,168.25 391.2,145.76 401.88,130.4 412.56,118.85 423.24,109.3 433.91,101.1 444.59,93.92 455.27,87.55 465.95,81.83 476.63,76.65 487.31,71.93 497.99,67.59 508.67,63.59 519.35,59.87 530.03,56.4 540.71,53.16 551.39,50.12 562.07,47.24 572.75,44.53 583.43,41.95 594.11,39.5 604.79,37.17 615.47,34.93 626.15,32.79" fill="none" stroke="#f52a2a" stroke-width="0.9" stroke-linejoin="round" />
<circle cx="369.84" cy="200.83" r="1.45" fill="#f52a2a"/>
<circle cx="380.52" cy="168.25" r="1.45" fill="#f52a2a"/>
<circle cx="391.2" cy="145.76" r="1.45" fill="#f52a2a"/>
<circle cx="401.88" cy="130.4" r="1.45" fill="#f52a2a"/>
<circle cx="412.56" cy="118.85" r="1.45" fill="#f52a2a"/>
<circle cx="423.24" cy="109.3" r="1.45" fill="#f52a2a"/>
<circle cx="433.91" cy="101.1" r="1.45" fill="#f52a2a"/>
<circle cx="444.59" cy="93.92" r="1.45" fill="#f52a2a"/>
<circle cx="455.27" cy="87.55" r="1.45" fill="#f52a2a"/>
<circle cx="465.95" cy="81.83" r="1.45" fill="#f52a2a"/>
<circle cx="476.63" cy="76.65" r="1.45" fill="#f52a2a"/>
<circle cx="487.31" cy="71.93" r="1.45" fill="#f52a2a"/>
<circle cx="497.99" cy="67.59" r="1.45" fill="#f52a2a"/>
<circle cx="508.67" cy="63.59" r="1.45" fill="#f52a2a"/>
<circle cx="519.35" cy="59.87" r="1.45" fill="#f52a2a"/>
<circle cx="530.03" cy="56.4" r="1.45" fill="#f52a2a"/>
<circle cx="540.71" cy="53.16" r="1.45" fill="#f52a2a"/>
<circle cx="551.39" cy="50.12" r="1.45" fill="#f52a2a"/>
<circle cx="562.07" cy="47.24" r="1.45" fill="#f52a2a"/>
<circle cx="572.75" cy="44.53" r="1.45" fill="#f52a2a"/>
<circle cx="583.43" cy="41.95" r="1.45" fill="#f52a2a"/>
<circle cx="594.11" cy="39.5" r="1.45" fill="#f52a2a"/>
<circle cx="604.79" cy="37.17" r="1.45" fill="#f52a2a"/>
<circle cx="615.47" cy="34.93" r="1.45" fill="#f52a2a"/>
<circle cx="626.15" cy="32.79" r="1.45" fill="#f52a2a"/>
<polyline points="369.84,202.46 380.52,174.21 391.2,152.74 401.88,138.04 412.56,126.87 423.24,117.47 433.91,109.26 444.59,101.97 455.27,95.42 465.95,89.49 476.63,84.07 487.31,79.1 497.99,74.52 508.67,70.27 519.35,66.33 530.03,62.67 540.71,59.25 551.39,56.05 562.07,53.06 572.75,50.25 583.43,47.62 594.11,45.15 604.79,42.83 615.47,40.65 626.15,38.61" fill="none" stroke="#2f5fcf" stroke-width="0.9" stroke-linejoin="round" />
<path d="M369.84,200.72L371.43,203.62L368.24,203.62Z" fill="#2f5fcf"/>
<path d="M380.52,172.47L382.11,175.37L378.92,175.37Z" fill="#2f5fcf"/>
<path d="M391.2,151L392.79,153.9L389.6,153.9Z" fill="#2f5fcf"/>
<path d="M401.88,136.3L403.47,139.2L400.28,139.2Z" fill="#2f5fcf"/>
<path d="M412.56,125.13L414.15,128.03L410.96,128.03Z" fill="#2f5fcf"/>
<path d="M423.24,115.73L424.83,118.63L421.64,118.63Z" fill="#2f5fcf"/>
<path d="M433.91,107.52L435.51,110.42L432.32,110.42Z" fill="#2f5fcf"/>
<path d="M444.59,100.23L446.19,103.13L443,103.13Z" fill="#2f5fcf"/>
<path d="M455.27,93.68L456.87,96.58L453.68,96.58Z" fill="#2f5fcf"/>
<path d="M465.95,87.75L467.55,90.65L464.36,90.65Z" fill="#2f5fcf"/>
<path d="M476.63,82.33L478.23,85.23L475.04,85.23Z" fill="#2f5fcf"/>
<path d="M487.31,77.36L488.91,80.26L485.72,80.26Z" fill="#2f5fcf"/>
<path d="M497.99,72.78L499.59,75.68L496.4,75.68Z" fill="#2f5fcf"/>
<path d="M508.67,68.53L510.27,71.43L507.08,71.43Z" fill="#2f5fcf"/>
<path d="M519.35,64.59L520.95,67.49L517.76,67.49Z" fill="#2f5fcf"/>
<path d="M530.03,60.93L531.62,63.83L528.43,63.83Z" fill="#2f5fcf"/>
<path d="M540.71,57.51L542.3,60.41L539.11,60.41Z" fill="#2f5fcf"/>
<path d="M551.39,54.31L552.98,57.21L549.79,57.21Z" fill="#2f5fcf"/>
<path d="M562.07,51.32L563.66,54.22L560.47,54.22Z" fill="#2f5fcf"/>
<path d="M572.75,48.51L574.34,51.41L571.15,51.41Z" fill="#2f5fcf"/>
<path d="M583.43,45.88L585.02,48.78L581.83,48.78Z" fill="#2f5fcf"/>
<path d="M594.11,43.41L595.7,46.31L592.51,46.31Z" fill="#2f5fcf"/>
<path d="M604.79,41.09L606.38,43.99L603.19,43.99Z" fill="#2f5fcf"/>
<path d="M615.47,38.91L617.06,41.81L613.87,41.81Z" fill="#2f5fcf"/>
<path d="M626.15,36.87L627.74,39.77L624.55,39.77Z" fill="#2f5fcf"/>
<polyline points="369.84,204.26 380.52,179.43 391.2,159.17 401.88,144.49 412.56,134.26 423.24,125.35 433.91,117.35 444.59,110.15 455.27,103.6 465.95,97.61 476.63,92.08 487.31,86.97 497.99,82.22 508.67,77.8 519.35,73.67 530.03,69.81 540.71,66.2 551.39,62.82 562.07,59.65 572.75,56.67 583.43,53.88 594.11,51.27 604.79,48.82 615.47,46.52 626.15,44.37" fill="none" stroke="#1d9e5c" stroke-width="0.9" stroke-linejoin="round" />
<path d="M369.84,206L371.43,203.1L368.24,203.1Z" fill="#1d9e5c"/>
<path d="M380.52,181.17L382.11,178.27L378.92,178.27Z" fill="#1d9e5c"/>
<path d="M391.2,160.91L392.79,158.01L389.6,158.01Z" fill="#1d9e5c"/>
<path d="M401.88,146.23L403.47,143.33L400.28,143.33Z" fill="#1d9e5c"/>
<path d="M412.56,136L414.15,133.1L410.96,133.1Z" fill="#1d9e5c"/>
<path d="M423.24,127.09L424.83,124.19L421.64,124.19Z" fill="#1d9e5c"/>
<path d="M433.91,119.09L435.51,116.19L432.32,116.19Z" fill="#1d9e5c"/>
<path d="M444.59,111.89L446.19,108.99L443,108.99Z" fill="#1d9e5c"/>
<path d="M455.27,105.34L456.87,102.44L453.68,102.44Z" fill="#1d9e5c"/>
<path d="M465.95,99.35L467.55,96.45L464.36,96.45Z" fill="#1d9e5c"/>
<path d="M476.63,93.82L478.23,90.92L475.04,90.92Z" fill="#1d9e5c"/>
<path d="M487.31,88.71L488.91,85.81L485.72,85.81Z" fill="#1d9e5c"/>
<path d="M497.99,83.96L499.59,81.06L496.4,81.06Z" fill="#1d9e5c"/>
<path d="M508.67,79.54L510.27,76.64L507.08,76.64Z" fill="#1d9e5c"/>
<path d="M519.35,75.41L520.95,72.51L517.76,72.51Z" fill="#1d9e5c"/>
<path d="M530.03,71.55L531.62,68.65L528.43,68.65Z" fill="#1d9e5c"/>
<path d="M540.71,67.94L542.3,65.04L539.11,65.04Z" fill="#1d9e5c"/>
<path d="M551.39,64.56L552.98,61.66L549.79,61.66Z" fill="#1d9e5c"/>
<path d="M562.07,61.39L563.66,58.49L560.47,58.49Z" fill="#1d9e5c"/>
<path d="M572.75,58.41L574.34,55.51L571.15,55.51Z" fill="#1d9e5c"/>
<path d="M583.43,55.62L585.02,52.72L581.83,52.72Z" fill="#1d9e5c"/>
<path d="M594.11,53.01L595.7,50.11L592.51,50.11Z" fill="#1d9e5c"/>
<path d="M604.79,50.56L606.38,47.66L603.19,47.66Z" fill="#1d9e5c"/>
<path d="M615.47,48.26L617.06,45.36L613.87,45.36Z" fill="#1d9e5c"/>
<path d="M626.15,46.11L627.74,43.21L624.55,43.21Z" fill="#1d9e5c"/>
<polyline points="369.84,205.57 380.52,183.03 391.2,164.9 401.88,151.43 412.56,141.54 423.24,132.65 433.91,124.6 444.59,117.31 455.27,110.66 465.95,104.54 476.63,98.89 487.31,93.65 497.99,88.78 508.67,84.23 519.35,79.99 530.03,76.03 540.71,72.32 551.39,68.84 562.07,65.59 572.75,62.55 583.43,59.7 594.11,57.04 604.79,54.55 615.47,52.24 626.15,50.08" fill="none" stroke="#a45fd2" stroke-width="0.9" stroke-linejoin="round" />
<path d="M369.84,203.69L371.29,205.57L369.84,207.46L368.39,205.57Z" fill="#a45fd2"/>
<path d="M380.52,181.15L381.97,183.03L380.52,184.92L379.07,183.03Z" fill="#a45fd2"/>
<path d="M391.2,163.02L392.65,164.9L391.2,166.79L389.75,164.9Z" fill="#a45fd2"/>
<path d="M401.88,149.55L403.33,151.43L401.88,153.32L400.43,151.43Z" fill="#a45fd2"/>
<path d="M412.56,139.66L414.01,141.54L412.56,143.43L411.11,141.54Z" fill="#a45fd2"/>
<path d="M423.24,130.77L424.69,132.65L423.24,134.54L421.79,132.65Z" fill="#a45fd2"/>
<path d="M433.91,122.71L435.36,124.6L433.91,126.48L432.46,124.6Z" fill="#a45fd2"/>
<path d="M444.59,115.42L446.04,117.31L444.59,119.19L443.14,117.31Z" fill="#a45fd2"/>
<path d="M455.27,108.77L456.72,110.66L455.27,112.54L453.82,110.66Z" fill="#a45fd2"/>
<path d="M465.95,102.65L467.4,104.54L465.95,106.42L464.5,104.54Z" fill="#a45fd2"/>
<path d="M476.63,97L478.08,98.89L476.63,100.77L475.18,98.89Z" fill="#a45fd2"/>
<path d="M487.31,91.77L488.76,93.65L487.31,95.54L485.86,93.65Z" fill="#a45fd2"/>
<path d="M497.99,86.89L499.44,88.78L497.99,90.66L496.54,88.78Z" fill="#a45fd2"/>
<path d="M508.67,82.35L510.12,84.23L508.67,86.12L507.22,84.23Z" fill="#a45fd2"/>
<path d="M519.35,78.11L520.8,79.99L519.35,81.88L517.9,79.99Z" fill="#a45fd2"/>
<path d="M530.03,74.14L531.48,76.03L530.03,77.91L528.58,76.03Z" fill="#a45fd2"/>
<path d="M540.71,70.43L542.16,72.32L540.71,74.2L539.26,72.32Z" fill="#a45fd2"/>
<path d="M551.39,66.96L552.84,68.84L551.39,70.73L549.94,68.84Z" fill="#a45fd2"/>
<path d="M562.07,63.71L563.52,65.59L562.07,67.48L560.62,65.59Z" fill="#a45fd2"/>
<path d="M572.75,60.66L574.2,62.55L572.75,64.43L571.3,62.55Z" fill="#a45fd2"/>
<path d="M583.43,57.82L584.88,59.7L583.43,61.59L581.98,59.7Z" fill="#a45fd2"/>
<path d="M594.11,55.16L595.56,57.04L594.11,58.93L592.66,57.04Z" fill="#a45fd2"/>
<path d="M604.79,52.67L606.24,54.55L604.79,56.44L603.34,54.55Z" fill="#a45fd2"/>
<path d="M615.47,50.35L616.92,52.24L615.47,54.12L614.02,52.24Z" fill="#a45fd2"/>
<path d="M626.15,48.19L627.6,50.08L626.15,51.96L624.7,50.08Z" fill="#a45fd2"/>
<polyline points="369.84,206.72 380.52,185.98 391.2,169.33 401.88,157 412.56,147.18 423.24,138.74 433.91,131.1 444.59,124.07 455.27,117.57 465.95,111.53 476.63,105.88 487.31,100.61 497.99,95.66 508.67,91.02 519.35,86.67 530.03,82.58 540.71,78.73 551.39,75.12 562.07,71.74 572.75,68.56 583.43,65.59 594.11,62.81 604.79,60.21 615.47,57.8 626.15,55.56" fill="none" stroke="#d39420" stroke-width="0.9" stroke-linejoin="round" />
<path d="M368.1,206.72L371,205.13L371,208.32Z" fill="#d39420"/>
<path d="M378.78,185.98L381.68,184.39L381.68,187.58Z" fill="#d39420"/>
<path d="M389.46,169.33L392.36,167.73L392.36,170.92Z" fill="#d39420"/>
<path d="M400.14,157L403.04,155.4L403.04,158.59Z" fill="#d39420"/>
<path d="M410.82,147.18L413.72,145.59L413.72,148.78Z" fill="#d39420"/>
<path d="M421.5,138.74L424.4,137.14L424.4,140.33Z" fill="#d39420"/>
<path d="M432.17,131.1L435.07,129.5L435.07,132.69Z" fill="#d39420"/>
<path d="M442.85,124.07L445.75,122.48L445.75,125.67Z" fill="#d39420"/>
<path d="M453.53,117.57L456.43,115.98L456.43,119.17Z" fill="#d39420"/>
<path d="M464.21,111.53L467.11,109.93L467.11,113.12Z" fill="#d39420"/>
<path d="M474.89,105.88L477.79,104.29L477.79,107.48Z" fill="#d39420"/>
<path d="M485.57,100.61L488.47,99.01L488.47,102.2Z" fill="#d39420"/>
<path d="M496.25,95.66L499.15,94.07L499.15,97.26Z" fill="#d39420"/>
<path d="M506.93,91.02L509.83,89.43L509.83,92.62Z" fill="#d39420"/>
<path d="M517.61,86.67L520.51,85.07L520.51,88.26Z" fill="#d39420"/>
<path d="M528.29,82.58L531.19,80.98L531.19,84.17Z" fill="#d39420"/>
<path d="M538.97,78.73L541.87,77.14L541.87,80.33Z" fill="#d39420"/>
<path d="M549.65,75.12L552.55,73.53L552.55,76.72Z" fill="#d39420"/>
<path d="M560.33,71.74L563.23,70.14L563.23,73.33Z" fill="#d39420"/>
<path d="M571.01,68.56L573.91,66.97L573.91,70.16Z" fill="#d39420"/>
<path d="M581.69,65.59L584.59,63.99L584.59,67.18Z" fill="#d39420"/>
<path d="M592.37,62.81L595.27,61.21L595.27,64.4Z" fill="#d39420"/>
<path d="M603.05,60.21L605.95,58.62L605.95,61.81Z" fill="#d39420"/>
<path d="M613.73,57.8L616.63,56.2L616.63,59.39Z" fill="#d39420"/>
<path d="M624.41,55.56L627.31,53.96L627.31,57.15Z" fill="#d39420"/>
<polyline points="369.84,207.46 380.52,188.13 391.2,172.25 401.88,161.19 412.56,152.43 423.24,144.71 433.91,137.53 444.59,130.77 455.27,124.4 465.95,118.39 476.63,112.72 487.31,107.36 497.99,102.3 508.67,97.53 519.35,93.04 530.03,88.81 540.71,84.84 551.39,81.11 562.07,77.62 572.75,74.36 583.43,71.32 594.11,68.5 604.79,65.9 615.47,63.5 626.15,61.31" fill="none" stroke="#30c2d6" stroke-width="0.9" stroke-linejoin="round" />
<path d="M371.58,207.46L368.68,205.86L368.68,209.05Z" fill="#30c2d6"/>
<path d="M382.26,188.13L379.36,186.53L379.36,189.72Z" fill="#30c2d6"/>
<path d="M392.94,172.25L390.04,170.66L390.04,173.85Z" fill="#30c2d6"/>
<path d="M403.62,161.19L400.72,159.6L400.72,162.79Z" fill="#30c2d6"/>
<path d="M414.3,152.43L411.4,150.83L411.4,154.02Z" fill="#30c2d6"/>
<path d="M424.98,144.71L422.07,143.12L422.07,146.31Z" fill="#30c2d6"/>
<path d="M435.65,137.53L432.75,135.94L432.75,139.13Z" fill="#30c2d6"/>
<path d="M446.33,130.77L443.43,129.18L443.43,132.37Z" fill="#30c2d6"/>
<path d="M457.01,124.4L454.11,122.81L454.11,126Z" fill="#30c2d6"/>
<path d="M467.69,118.39L464.79,116.8L464.79,119.99Z" fill="#30c2d6"/>
<path d="M478.37,112.72L475.47,111.12L475.47,114.31Z" fill="#30c2d6"/>
<path d="M489.05,107.36L486.15,105.76L486.15,108.95Z" fill="#30c2d6"/>
<path d="M499.73,102.3L496.83,100.71L496.83,103.9Z" fill="#30c2d6"/>
<path d="M510.41,97.53L507.51,95.94L507.51,99.13Z" fill="#30c2d6"/>
<path d="M521.09,93.04L518.19,91.45L518.19,94.64Z" fill="#30c2d6"/>
<path d="M531.77,88.81L528.87,87.22L528.87,90.41Z" fill="#30c2d6"/>
<path d="M542.45,84.84L539.55,83.24L539.55,86.43Z" fill="#30c2d6"/>
<path d="M553.13,81.11L550.23,79.51L550.23,82.7Z" fill="#30c2d6"/>
<path d="M563.81,77.62L560.91,76.02L560.91,79.21Z" fill="#30c2d6"/>
<path d="M574.49,74.36L571.59,72.76L571.59,75.95Z" fill="#30c2d6"/>
<path d="M585.17,71.32L582.27,69.73L582.27,72.92Z" fill="#30c2d6"/>
<path d="M595.85,68.5L592.95,66.91L592.95,70.1Z" fill="#30c2d6"/>
<path d="M606.53,65.9L603.63,64.3L603.63,67.49Z" fill="#30c2d6"/>
<path d="M617.21,63.5L614.31,61.91L614.31,65.1Z" fill="#30c2d6"/>
<path d="M627.89,61.31L624.99,59.71L624.99,62.9Z" fill="#30c2d6"/>
<polyline points="369.84,209.84 380.52,195.32 391.2,184.25 401.88,176.51 412.56,170.39 423.24,164.86 433.91,159.46 444.59,154.16 455.27,148.97 465.95,143.93 476.63,139.04 487.31,134.3 497.99,129.73 508.67,125.33 519.35,121.1 530.03,117.03 540.71,113.12 551.39,109.39 562.07,105.82 572.75,102.41 583.43,99.17 594.11,96.09 604.79,93.17 615.47,90.4 626.15,87.8" fill="none" stroke="#6b2b2e" stroke-width="0.9" stroke-linejoin="round" />
<circle cx="369.84" cy="209.84" r="1.45" fill="#6b2b2e"/>
<circle cx="380.52" cy="195.32" r="1.45" fill="#6b2b2e"/>
<circle cx="391.2" cy="184.25" r="1.45" fill="#6b2b2e"/>
<circle cx="401.88" cy="176.51" r="1.45" fill="#6b2b2e"/>
<circle cx="412.56" cy="170.39" r="1.45" fill="#6b2b2e"/>
<circle cx="423.24" cy="164.86" r="1.45" fill="#6b2b2e"/>
<circle cx="433.91" cy="159.46" r="1.45" fill="#6b2b2e"/>
<circle cx="444.59" cy="154.16" r="1.45" fill="#6b2b2e"/>
<circle cx="455.27" cy="148.97" r="1.45" fill="#6b2b2e"/>
<circle cx="465.95" cy="143.93" r="1.45" fill="#6b2b2e"/>
<circle cx="476.63" cy="139.04" r="1.45" fill="#6b2b2e"/>
<circle cx="487.31" cy="134.3" r="1.45" fill="#6b2b2e"/>
<circle cx="497.99" cy="129.73" r="1.45" fill="#6b2b2e"/>
<circle cx="508.67" cy="125.33" r="1.45" fill="#6b2b2e"/>
<circle cx="519.35" cy="121.1" r="1.45" fill="#6b2b2e"/>
<circle cx="530.03" cy="117.03" r="1.45" fill="#6b2b2e"/>
<circle cx="540.71" cy="113.12" r="1.45" fill="#6b2b2e"/>
<circle cx="551.39" cy="109.39" r="1.45" fill="#6b2b2e"/>
<circle cx="562.07" cy="105.82" r="1.45" fill="#6b2b2e"/>
<circle cx="572.75" cy="102.41" r="1.45" fill="#6b2b2e"/>
<circle cx="583.43" cy="99.17" r="1.45" fill="#6b2b2e"/>
<circle cx="594.11" cy="96.09" r="1.45" fill="#6b2b2e"/>
<circle cx="604.79" cy="93.17" r="1.45" fill="#6b2b2e"/>
<circle cx="615.47" cy="90.4" r="1.45" fill="#6b2b2e"/>
<circle cx="626.15" cy="87.8" r="1.45" fill="#6b2b2e"/>
<polyline points="369.84,210.99 380.52,198.58 391.2,189.18 401.88,183.73 412.56,179.69 423.24,175.74 433.91,171.73 444.59,167.72 455.27,163.74 465.95,159.81 476.63,155.94 487.31,152.14 497.99,148.41 508.67,144.78 519.35,141.22 530.03,137.76 540.71,134.39 551.39,131.1 562.07,127.91 572.75,124.82 583.43,121.81 594.11,118.9 604.79,116.08" fill="none" stroke="#8c8c28" stroke-width="0.9" stroke-linejoin="round" />
<path d="M369.84,209.25L371.43,212.15L368.24,212.15Z" fill="#8c8c28"/>
<path d="M380.52,196.84L382.11,199.74L378.92,199.74Z" fill="#8c8c28"/>
<path d="M391.2,187.44L392.79,190.34L389.6,190.34Z" fill="#8c8c28"/>
<path d="M401.88,181.99L403.47,184.89L400.28,184.89Z" fill="#8c8c28"/>
<path d="M412.56,177.95L414.15,180.85L410.96,180.85Z" fill="#8c8c28"/>
<path d="M423.24,174L424.83,176.9L421.64,176.9Z" fill="#8c8c28"/>
<path d="M433.91,169.99L435.51,172.89L432.32,172.89Z" fill="#8c8c28"/>
<path d="M444.59,165.98L446.19,168.88L443,168.88Z" fill="#8c8c28"/>
<path d="M455.27,162L456.87,164.9L453.68,164.9Z" fill="#8c8c28"/>
<path d="M465.95,158.07L467.55,160.97L464.36,160.97Z" fill="#8c8c28"/>
<path d="M476.63,154.2L478.23,157.1L475.04,157.1Z" fill="#8c8c28"/>
<path d="M487.31,150.4L488.91,153.3L485.72,153.3Z" fill="#8c8c28"/>
<path d="M497.99,146.67L499.59,149.57L496.4,149.57Z" fill="#8c8c28"/>
<path d="M508.67,143.04L510.27,145.94L507.08,145.94Z" fill="#8c8c28"/>
<path d="M519.35,139.48L520.95,142.38L517.76,142.38Z" fill="#8c8c28"/>
<path d="M530.03,136.02L531.62,138.92L528.43,138.92Z" fill="#8c8c28"/>
<path d="M540.71,132.65L542.3,135.55L539.11,135.55Z" fill="#8c8c28"/>
<path d="M551.39,129.36L552.98,132.26L549.79,132.26Z" fill="#8c8c28"/>
<path d="M562.07,126.17L563.66,129.07L560.47,129.07Z" fill="#8c8c28"/>
<path d="M572.75,123.08L574.34,125.98L571.15,125.98Z" fill="#8c8c28"/>
<path d="M583.43,120.07L585.02,122.97L581.83,122.97Z" fill="#8c8c28"/>
<path d="M594.11,117.16L595.7,120.06L592.51,120.06Z" fill="#8c8c28"/>
<path d="M604.79,114.34L606.38,117.24L603.19,117.24Z" fill="#8c8c28"/>
<polyline points="369.84,211.32 380.52,199.07 391.2,190.16 401.88,185.51 412.56,182.35 423.24,179.13 433.91,175.75 444.59,172.29 455.27,168.78 465.95,165.28 476.63,161.79 487.31,158.34 497.99,154.95 508.67,151.61 519.35,148.34 530.03,145.15 540.71,142.03 551.39,138.99 562.07,136.03 572.75,133.17 583.43,130.4 594.11,127.72 604.79,125.15 615.47,122.69 626.15,120.33" fill="none" stroke="#ff5b1f" stroke-width="0.9" stroke-linejoin="round" />
<circle cx="369.84" cy="211.32" r="1.45" fill="#ff5b1f"/>
<circle cx="380.52" cy="199.07" r="1.45" fill="#ff5b1f"/>
<circle cx="391.2" cy="190.16" r="1.45" fill="#ff5b1f"/>
<circle cx="401.88" cy="185.51" r="1.45" fill="#ff5b1f"/>
<circle cx="412.56" cy="182.35" r="1.45" fill="#ff5b1f"/>
<circle cx="423.24" cy="179.13" r="1.45" fill="#ff5b1f"/>
<circle cx="433.91" cy="175.75" r="1.45" fill="#ff5b1f"/>
<circle cx="444.59" cy="172.29" r="1.45" fill="#ff5b1f"/>
<circle cx="455.27" cy="168.78" r="1.45" fill="#ff5b1f"/>
<circle cx="465.95" cy="165.28" r="1.45" fill="#ff5b1f"/>
<circle cx="476.63" cy="161.79" r="1.45" fill="#ff5b1f"/>
<circle cx="487.31" cy="158.34" r="1.45" fill="#ff5b1f"/>
<circle cx="497.99" cy="154.95" r="1.45" fill="#ff5b1f"/>
<circle cx="508.67" cy="151.61" r="1.45" fill="#ff5b1f"/>
<circle cx="519.35" cy="148.34" r="1.45" fill="#ff5b1f"/>
<circle cx="530.03" cy="145.15" r="1.45" fill="#ff5b1f"/>
<circle cx="540.71" cy="142.03" r="1.45" fill="#ff5b1f"/>
<circle cx="551.39" cy="138.99" r="1.45" fill="#ff5b1f"/>
<circle cx="562.07" cy="136.03" r="1.45" fill="#ff5b1f"/>
<circle cx="572.75" cy="133.17" r="1.45" fill="#ff5b1f"/>
<circle cx="583.43" cy="130.4" r="1.45" fill="#ff5b1f"/>
<circle cx="594.11" cy="127.72" r="1.45" fill="#ff5b1f"/>
<circle cx="604.79" cy="125.15" r="1.45" fill="#ff5b1f"/>
<circle cx="615.47" cy="122.69" r="1.45" fill="#ff5b1f"/>
<circle cx="626.15" cy="120.33" r="1.45" fill="#ff5b1f"/>
<polyline points="369.84,211.56 380.52,199.73 391.2,191.15 401.88,186.61 412.56,183.6 423.24,180.71 433.91,177.77 444.59,174.81 455.27,171.85 465.95,168.89 476.63,165.95 487.31,163.03 497.99,160.13 508.67,157.26 519.35,154.42 530.03,151.61 540.71,148.83 551.39,146.09 562.07,143.38 572.75,140.73 583.43,138.15 594.11,135.66 604.79,133.27 615.47,130.99 626.15,128.84" fill="none" stroke="#4a97e6" stroke-width="0.9" stroke-linejoin="round" />
<path d="M368.1,211.56L371,209.97L371,213.16Z" fill="#4a97e6"/>
<path d="M378.78,199.73L381.68,198.13L381.68,201.32Z" fill="#4a97e6"/>
<path d="M389.46,191.15L392.36,189.55L392.36,192.74Z" fill="#4a97e6"/>
<path d="M400.14,186.61L403.04,185.01L403.04,188.2Z" fill="#4a97e6"/>
<path d="M410.82,183.6L413.72,182L413.72,185.19Z" fill="#4a97e6"/>
<path d="M421.5,180.71L424.4,179.11L424.4,182.3Z" fill="#4a97e6"/>
<path d="M432.17,177.77L435.07,176.17L435.07,179.36Z" fill="#4a97e6"/>
<path d="M442.85,174.81L445.75,173.22L445.75,176.41Z" fill="#4a97e6"/>
<path d="M453.53,171.85L456.43,170.25L456.43,173.44Z" fill="#4a97e6"/>
<path d="M464.21,168.89L467.11,167.3L467.11,170.49Z" fill="#4a97e6"/>
<path d="M474.89,165.95L477.79,164.36L477.79,167.55Z" fill="#4a97e6"/>
<path d="M485.57,163.03L488.47,161.43L488.47,164.62Z" fill="#4a97e6"/>
<path d="M496.25,160.13L499.15,158.54L499.15,161.73Z" fill="#4a97e6"/>
<path d="M506.93,157.26L509.83,155.67L509.83,158.86Z" fill="#4a97e6"/>
<path d="M517.61,154.42L520.51,152.83L520.51,156.02Z" fill="#4a97e6"/>
<path d="M528.29,151.61L531.19,150.02L531.19,153.21Z" fill="#4a97e6"/>
<path d="M538.97,148.83L541.87,147.24L541.87,150.43Z" fill="#4a97e6"/>
<path d="M549.65,146.09L552.55,144.49L552.55,147.68Z" fill="#4a97e6"/>
<path d="M560.33,143.38L563.23,141.78L563.23,144.97Z" fill="#4a97e6"/>
<path d="M571.01,140.73L573.91,139.13L573.91,142.32Z" fill="#4a97e6"/>
<path d="M581.69,138.15L584.59,136.55L584.59,139.74Z" fill="#4a97e6"/>
<path d="M592.37,135.66L595.27,134.06L595.27,137.25Z" fill="#4a97e6"/>
<path d="M603.05,133.27L605.95,131.67L605.95,134.86Z" fill="#4a97e6"/>
<path d="M613.73,130.99L616.63,129.4L616.63,132.59Z" fill="#4a97e6"/>
<path d="M624.41,128.84L627.31,127.25L627.31,130.44Z" fill="#4a97e6"/>
<polyline points="369.84,211.73 380.52,200.21 391.2,192.13 401.88,187.59 412.56,184.46 423.24,181.55 433.91,178.68 444.59,175.85 455.27,173.04 465.95,170.25 476.63,167.48 487.31,164.73 497.99,161.99 508.67,159.27 519.35,156.55 530.03,153.85 540.71,151.16 551.39,148.47 562.07,145.8 572.75,143.18 583.43,140.63 594.11,138.2 604.79,135.89 615.47,133.74 626.15,131.77" fill="none" stroke="#4cbf3c" stroke-width="0.9" stroke-linejoin="round" />
<polyline points="369.84,211.8 380.52,200.73 391.2,192.91 401.88,188.45 412.56,185.34 423.24,182.48 433.91,179.69 444.59,176.95 455.27,174.26 465.95,171.6 476.63,168.98 487.31,166.38 497.99,163.8 508.67,161.24 519.35,158.69 530.03,156.16 540.71,153.65 551.39,151.15 562.07,148.67 572.75,146.24 583.43,143.92 594.11,141.74" fill="none" stroke="#3c3c3c" stroke-width="0.9" stroke-linejoin="round" />
<path d="M368.39,211.8H371.29M369.84,210.35V213.25" stroke="#3c3c3c" stroke-width="0.6"/>
<path d="M379.07,200.73H381.97M380.52,199.28V202.18" stroke="#3c3c3c" stroke-width="0.6"/>
<path d="M389.75,192.91H392.65M391.2,191.46V194.36" stroke="#3c3c3c" stroke-width="0.6"/>
<path d="M400.43,188.45H403.33M401.88,187V189.9" stroke="#3c3c3c" stroke-width="0.6"/>
<path d="M411.11,185.34H414.01M412.56,183.89V186.79" stroke="#3c3c3c" stroke-width="0.6"/>
<path d="M421.79,182.48H424.69M423.24,181.03V183.93" stroke="#3c3c3c" stroke-width="0.6"/>
<path d="M432.46,179.69H435.36M433.91,178.24V181.14" stroke="#3c3c3c" stroke-width="0.6"/>
<path d="M443.14,176.95H446.04M444.59,175.5V178.4" stroke="#3c3c3c" stroke-width="0.6"/>
<path d="M453.82,174.26H456.72M455.27,172.81V175.71" stroke="#3c3c3c" stroke-width="0.6"/>
<path d="M464.5,171.6H467.4M465.95,170.15V173.05" stroke="#3c3c3c" stroke-width="0.6"/>
<path d="M475.18,168.98H478.08M476.63,167.53V170.43" stroke="#3c3c3c" stroke-width="0.6"/>
<path d="M485.86,166.38H488.76M487.31,164.93V167.83" stroke="#3c3c3c" stroke-width="0.6"/>
<path d="M496.54,163.8H499.44M497.99,162.35V165.25" stroke="#3c3c3c" stroke-width="0.6"/>
<path d="M507.22,161.24H510.12M508.67,159.79V162.69" stroke="#3c3c3c" stroke-width="0.6"/>
<path d="M517.9,158.69H520.8M519.35,157.24V160.14" stroke="#3c3c3c" stroke-width="0.6"/>
<path d="M528.58,156.16H531.48M530.03,154.71V157.61" stroke="#3c3c3c" stroke-width="0.6"/>
<path d="M539.26,153.65H542.16M540.71,152.2V155.1" stroke="#3c3c3c" stroke-width="0.6"/>
<path d="M549.94,151.15H552.84M551.39,149.7V152.6" stroke="#3c3c3c" stroke-width="0.6"/>
<path d="M560.62,148.67H563.52M562.07,147.22V150.12" stroke="#3c3c3c" stroke-width="0.6"/>
<path d="M571.3,146.24H574.2M572.75,144.79V147.69" stroke="#3c3c3c" stroke-width="0.6"/>
<path d="M581.98,143.92H584.88M583.43,142.47V145.37" stroke="#3c3c3c" stroke-width="0.6"/>
<path d="M592.66,141.74H595.56M594.11,140.29V143.19" stroke="#3c3c3c" stroke-width="0.6"/>
<rect x="356.7" y="4.8" width="289.9" height="213.5" fill="none" stroke="#000" stroke-width="1.3"/>
<line x1="364.8" y1="218.3" x2="364.8" y2="214.8" stroke="#000" stroke-width="1" />
<line x1="364.8" y1="4.8" x2="364.8" y2="8.3" stroke="#000" stroke-width="1" />
<line x1="405.1" y1="218.3" x2="405.1" y2="214.8" stroke="#000" stroke-width="1" />
<line x1="405.1" y1="4.8" x2="405.1" y2="8.3" stroke="#000" stroke-width="1" />
<line x1="445.4" y1="218.3" x2="445.4" y2="214.8" stroke="#000" stroke-width="1" />
<line x1="445.4" y1="4.8" x2="445.4" y2="8.3" stroke="#000" stroke-width="1" />
<line x1="485.7" y1="218.3" x2="485.7" y2="214.8" stroke="#000" stroke-width="1" />
<line x1="485.7" y1="4.8" x2="485.7" y2="8.3" stroke="#000" stroke-width="1" />
<line x1="526" y1="218.3" x2="526" y2="214.8" stroke="#000" stroke-width="1" />
<line x1="526" y1="4.8" x2="526" y2="8.3" stroke="#000" stroke-width="1" />
<line x1="566.3" y1="218.3" x2="566.3" y2="214.8" stroke="#000" stroke-width="1" />
<line x1="566.3" y1="4.8" x2="566.3" y2="8.3" stroke="#000" stroke-width="1" />
<line x1="606.6" y1="218.3" x2="606.6" y2="214.8" stroke="#000" stroke-width="1" />
<line x1="606.6" y1="4.8" x2="606.6" y2="8.3" stroke="#000" stroke-width="1" />
<line x1="646.9" y1="218.3" x2="646.9" y2="214.8" stroke="#000" stroke-width="1" />
<line x1="646.9" y1="4.8" x2="646.9" y2="8.3" stroke="#000" stroke-width="1" />
<line x1="384.95" y1="218.3" x2="384.95" y2="216.3" stroke="#000" stroke-width="1" />
<line x1="384.95" y1="4.8" x2="384.95" y2="6.8" stroke="#000" stroke-width="1" />
<line x1="425.25" y1="218.3" x2="425.25" y2="216.3" stroke="#000" stroke-width="1" />
<line x1="425.25" y1="4.8" x2="425.25" y2="6.8" stroke="#000" stroke-width="1" />
<line x1="465.55" y1="218.3" x2="465.55" y2="216.3" stroke="#000" stroke-width="1" />
<line x1="465.55" y1="4.8" x2="465.55" y2="6.8" stroke="#000" stroke-width="1" />
<line x1="505.85" y1="218.3" x2="505.85" y2="216.3" stroke="#000" stroke-width="1" />
<line x1="505.85" y1="4.8" x2="505.85" y2="6.8" stroke="#000" stroke-width="1" />
<line x1="546.15" y1="218.3" x2="546.15" y2="216.3" stroke="#000" stroke-width="1" />
<line x1="546.15" y1="4.8" x2="546.15" y2="6.8" stroke="#000" stroke-width="1" />
<line x1="586.45" y1="218.3" x2="586.45" y2="216.3" stroke="#000" stroke-width="1" />
<line x1="586.45" y1="4.8" x2="586.45" y2="6.8" stroke="#000" stroke-width="1" />
<line x1="626.75" y1="218.3" x2="626.75" y2="216.3" stroke="#000" stroke-width="1" />
<line x1="626.75" y1="4.8" x2="626.75" y2="6.8" stroke="#000" stroke-width="1" />
<line x1="-100" y1="218.3" x2="-100" y2="216.3" stroke="#000" stroke-width="1" />
<line x1="-100" y1="4.8" x2="-100" y2="6.8" stroke="#000" stroke-width="1" />
<line x1="356.7" y1="217.2" x2="360.2" y2="217.2" stroke="#000" stroke-width="1" />
<line x1="356.7" y1="184.42" x2="360.2" y2="184.42" stroke="#000" stroke-width="1" />
<line x1="356.7" y1="151.64" x2="360.2" y2="151.64" stroke="#000" stroke-width="1" />
<line x1="356.7" y1="118.86" x2="360.2" y2="118.86" stroke="#000" stroke-width="1" />
<line x1="356.7" y1="86.08" x2="360.2" y2="86.08" stroke="#000" stroke-width="1" />
<line x1="356.7" y1="53.3" x2="360.2" y2="53.3" stroke="#000" stroke-width="1" />
<line x1="356.7" y1="20.52" x2="360.2" y2="20.52" stroke="#000" stroke-width="1" />
<line x1="646.6" y1="217.2" x2="643.1" y2="217.2" stroke="#000" stroke-width="1" />
<line x1="646.6" y1="184.42" x2="643.1" y2="184.42" stroke="#000" stroke-width="1" />
<line x1="646.6" y1="151.64" x2="643.1" y2="151.64" stroke="#000" stroke-width="1" />
<line x1="646.6" y1="118.86" x2="643.1" y2="118.86" stroke="#000" stroke-width="1" />
<line x1="646.6" y1="86.08" x2="643.1" y2="86.08" stroke="#000" stroke-width="1" />
<line x1="646.6" y1="53.3" x2="643.1" y2="53.3" stroke="#000" stroke-width="1" />
<line x1="646.6" y1="20.52" x2="643.1" y2="20.52" stroke="#000" stroke-width="1" />
<line x1="356.7" y1="200.81" x2="358.7" y2="200.81" stroke="#000" stroke-width="1" />
<line x1="356.7" y1="168.03" x2="358.7" y2="168.03" stroke="#000" stroke-width="1" />
<line x1="356.7" y1="135.25" x2="358.7" y2="135.25" stroke="#000" stroke-width="1" />
<line x1="356.7" y1="102.47" x2="358.7" y2="102.47" stroke="#000" stroke-width="1" />
<line x1="356.7" y1="69.69" x2="358.7" y2="69.69" stroke="#000" stroke-width="1" />
<line x1="356.7" y1="36.91" x2="358.7" y2="36.91" stroke="#000" stroke-width="1" />
<line x1="646.6" y1="200.81" x2="644.6" y2="200.81" stroke="#000" stroke-width="1" />
<line x1="646.6" y1="168.03" x2="644.6" y2="168.03" stroke="#000" stroke-width="1" />
<line x1="646.6" y1="135.25" x2="644.6" y2="135.25" stroke="#000" stroke-width="1" />
<line x1="646.6" y1="102.47" x2="644.6" y2="102.47" stroke="#000" stroke-width="1" />
<line x1="646.6" y1="69.69" x2="644.6" y2="69.69" stroke="#000" stroke-width="1" />
<line x1="646.6" y1="36.91" x2="644.6" y2="36.91" stroke="#000" stroke-width="1" />
<text x="364.8" y="230" font-family="'Liberation Sans',sans-serif" font-size="8.5" font-weight="bold" text-anchor="middle" fill="#111" >0</text>
<text x="405.1" y="230" font-family="'Liberation Sans',sans-serif" font-size="8.5" font-weight="bold" text-anchor="middle" fill="#111" >1</text>
<text x="445.4" y="230" font-family="'Liberation Sans',sans-serif" font-size="8.5" font-weight="bold" text-anchor="middle" fill="#111" >2</text>
<text x="485.7" y="230" font-family="'Liberation Sans',sans-serif" font-size="8.5" font-weight="bold" text-anchor="middle" fill="#111" >3</text>
<text x="526" y="230" font-family="'Liberation Sans',sans-serif" font-size="8.5" font-weight="bold" text-anchor="middle" fill="#111" >4</text>
<text x="566.3" y="230" font-family="'Liberation Sans',sans-serif" font-size="8.5" font-weight="bold" text-anchor="middle" fill="#111" >5</text>
<text x="606.6" y="230" font-family="'Liberation Sans',sans-serif" font-size="8.5" font-weight="bold" text-anchor="middle" fill="#111" >6</text>
<text x="646.9" y="230" font-family="'Liberation Sans',sans-serif" font-size="8.5" font-weight="bold" text-anchor="middle" fill="#111" >7</text>
<text x="352.5" y="220.2" font-family="'Liberation Sans',sans-serif" font-size="8.5" font-weight="bold" text-anchor="end" fill="#111" >0</text>
<text x="352.5" y="187.42" font-family="'Liberation Sans',sans-serif" font-size="8.5" font-weight="bold" text-anchor="end" fill="#111" >2</text>
<text x="352.5" y="154.64" font-family="'Liberation Sans',sans-serif" font-size="8.5" font-weight="bold" text-anchor="end" fill="#111" >4</text>
<text x="352.5" y="121.86" font-family="'Liberation Sans',sans-serif" font-size="8.5" font-weight="bold" text-anchor="end" fill="#111" >6</text>
<text x="352.5" y="89.08" font-family="'Liberation Sans',sans-serif" font-size="8.5" font-weight="bold" text-anchor="end" fill="#111" >8</text>
<text x="352.5" y="56.3" font-family="'Liberation Sans',sans-serif" font-size="8.5" font-weight="bold" text-anchor="end" fill="#111" >10</text>
<text x="501.5" y="240.5" font-family="'Liberation Sans',sans-serif" font-size="10" font-weight="bold" text-anchor="middle" fill="#111" >H (10<tspan dy="-3.5" font-size="6.5">4</tspan><tspan dy="3.5"> Oe)</tspan></text>
<text transform="translate(343.6,110.5) rotate(-90)" font-family="'Liberation Sans',sans-serif" font-size="11.2" font-weight="bold" text-anchor="middle" fill="#111">M (10<tspan dy="-3.8" font-size="7.5">2</tspan><tspan dy="3.8"> emu/mol)</tspan></text>
<line x1="360.7" y1="12.4" x2="374.6" y2="12.4" stroke="#2a2a2a" stroke-width="0.8" />
<circle cx="367.6" cy="12.4" r="1.45" fill="#2a2a2a"/>
<text x="375.8" y="14.6" font-family="'Liberation Sans',sans-serif" font-size="6" font-weight="bold" text-anchor="start" fill="#111" >A&#160;1.8k</text>
<line x1="360.7" y1="20.02" x2="374.6" y2="20.02" stroke="#f52a2a" stroke-width="0.8" />
<circle cx="367.6" cy="20.02" r="1.45" fill="#f52a2a"/>
<text x="375.8" y="22.22" font-family="'Liberation Sans',sans-serif" font-size="6" font-weight="bold" text-anchor="start" fill="#111" >B&#160;10k</text>
<line x1="360.7" y1="27.64" x2="374.6" y2="27.64" stroke="#2f5fcf" stroke-width="0.8" />
<path d="M367.6,25.9L369.2,28.8L366,28.8Z" fill="#2f5fcf"/>
<text x="375.8" y="29.84" font-family="'Liberation Sans',sans-serif" font-size="6" font-weight="bold" text-anchor="start" fill="#111" >C&#160;12k</text>
<line x1="360.7" y1="35.26" x2="374.6" y2="35.26" stroke="#1d9e5c" stroke-width="0.8" />
<path d="M367.6,37L369.2,34.1L366,34.1Z" fill="#1d9e5c"/>
<text x="375.8" y="37.46" font-family="'Liberation Sans',sans-serif" font-size="6" font-weight="bold" text-anchor="start" fill="#111" >D&#160;14k</text>
<line x1="360.7" y1="42.88" x2="374.6" y2="42.88" stroke="#a45fd2" stroke-width="0.8" />
<path d="M367.6,41L369.05,42.88L367.6,44.77L366.15,42.88Z" fill="#a45fd2"/>
<text x="375.8" y="45.08" font-family="'Liberation Sans',sans-serif" font-size="6" font-weight="bold" text-anchor="start" fill="#111" >E&#160;16k</text>
<line x1="360.7" y1="50.5" x2="374.6" y2="50.5" stroke="#d39420" stroke-width="0.8" />
<path d="M365.86,50.5L368.76,48.91L368.76,52.09Z" fill="#d39420"/>
<text x="375.8" y="52.7" font-family="'Liberation Sans',sans-serif" font-size="6" font-weight="bold" text-anchor="start" fill="#111" >F&#160;18k</text>
<line x1="360.7" y1="58.12" x2="374.6" y2="58.12" stroke="#30c2d6" stroke-width="0.8" />
<path d="M369.34,58.12L366.44,56.52L366.44,59.71Z" fill="#30c2d6"/>
<text x="375.8" y="60.32" font-family="'Liberation Sans',sans-serif" font-size="6" font-weight="bold" text-anchor="start" fill="#111" >G&#160;20k</text>
<line x1="360.7" y1="65.74" x2="374.6" y2="65.74" stroke="#6b2b2e" stroke-width="0.8" />
<circle cx="367.6" cy="65.74" r="1.45" fill="#6b2b2e"/>
<text x="375.8" y="67.94" font-family="'Liberation Sans',sans-serif" font-size="6" font-weight="bold" text-anchor="start" fill="#111" >H&#160;30k</text>
<line x1="360.7" y1="73.36" x2="374.6" y2="73.36" stroke="#8c8c28" stroke-width="0.8" />
<path d="M367.6,71.62L369.2,74.52L366,74.52Z" fill="#8c8c28"/>
<text x="375.8" y="75.56" font-family="'Liberation Sans',sans-serif" font-size="6" font-weight="bold" text-anchor="start" fill="#111" >I&#160;&#160;40k</text>
<line x1="360.7" y1="80.98" x2="374.6" y2="80.98" stroke="#ff5b1f" stroke-width="0.8" />
<circle cx="367.6" cy="80.98" r="1.45" fill="#ff5b1f"/>
<text x="375.8" y="83.18" font-family="'Liberation Sans',sans-serif" font-size="6" font-weight="bold" text-anchor="start" fill="#111" >J&#160;&#160;45k</text>
<line x1="360.7" y1="88.6" x2="374.6" y2="88.6" stroke="#4a97e6" stroke-width="0.8" />
<path d="M365.86,88.6L368.76,87.01L368.76,90.2Z" fill="#4a97e6"/>
<text x="375.8" y="90.8" font-family="'Liberation Sans',sans-serif" font-size="6" font-weight="bold" text-anchor="start" fill="#111" >K&#160;&#160;50k</text>
<line x1="360.7" y1="96.22" x2="374.6" y2="96.22" stroke="#4cbf3c" stroke-width="0.8" />
<text x="375.8" y="98.42" font-family="'Liberation Sans',sans-serif" font-size="6" font-weight="bold" text-anchor="start" fill="#111" >L&#160;&#160;52k</text>
<line x1="360.7" y1="103.84" x2="374.6" y2="103.84" stroke="#3c3c3c" stroke-width="0.8" />
<path d="M366.15,103.84H369.05M367.6,102.39V105.29" stroke="#3c3c3c" stroke-width="0.6"/>
<text x="375.8" y="106.04" font-family="'Liberation Sans',sans-serif" font-size="6" font-weight="bold" text-anchor="start" fill="#111" >M&#160;54K</text>
<text x="630.2" y="17.5" font-family="'Liberation Serif',serif" font-size="7" font-weight="bold" text-anchor="start" fill="#222" >A</text>
<text x="629.4" y="31.9" font-family="'Liberation Serif',serif" font-size="7" font-weight="bold" text-anchor="start" fill="#222" >B</text>
<text x="630.2" y="40.6" font-family="'Liberation Serif',serif" font-size="7" font-weight="bold" text-anchor="start" fill="#222" >C</text>
<text x="630.2" y="46" font-family="'Liberation Serif',serif" font-size="7" font-weight="bold" text-anchor="start" fill="#222" >D</text>
<text x="630.2" y="51.8" font-family="'Liberation Serif',serif" font-size="7" font-weight="bold" text-anchor="start" fill="#222" >E</text>
<text x="630.2" y="57.9" font-family="'Liberation Serif',serif" font-size="7" font-weight="bold" text-anchor="start" fill="#222" >F</text>
<text x="630.2" y="64.6" font-family="'Liberation Serif',serif" font-size="7" font-weight="bold" text-anchor="start" fill="#222" >G</text>
<text x="630" y="88.7" font-family="'Liberation Serif',serif" font-size="7" font-weight="bold" text-anchor="start" fill="#222" >H</text>
<text x="609" y="116.9" font-family="'Liberation Serif',serif" font-size="7" font-weight="bold" text-anchor="start" fill="#222" >I</text>
<text x="630" y="121" font-family="'Liberation Serif',serif" font-size="7" font-weight="bold" text-anchor="start" fill="#222" >J</text>
<text x="630" y="128.7" font-family="'Liberation Serif',serif" font-size="7" font-weight="bold" text-anchor="start" fill="#222" >K</text>
<text x="630" y="135.4" font-family="'Liberation Serif',serif" font-size="7" font-weight="bold" text-anchor="start" fill="#222" >L</text>
<text x="597" y="145.7" font-family="'Liberation Serif',serif" font-size="7" font-weight="bold" text-anchor="start" fill="#222" >M</text>
<text transform="translate(328,20.6) scale(0.965,1)" font-family="'Liberation Serif',serif" font-size="23" font-weight="normal" fill="#000" stroke="#000" stroke-width="0.55">(b)</text>
<polyline points="43.67,448.56 49.47,426.08 54.71,406.15 59.79,390.19 64.74,377.14 69.51,365.93 74.14,356.04 78.65,347.14 83.04,338.97 87.33,331.44 91.54,324.46 95.7,317.98 99.8,311.95 103.86,306.32 107.89,301.06 111.89,296.14 115.86,291.52 119.82,287.19 123.76,283.12 127.68,279.29 131.6,275.69 135.51,272.3 139.41,269.1 143.3,266.08 147.19,263.23" fill="none" stroke="#2a2a2a" stroke-width="0.9" stroke-linejoin="round" />
<circle cx="43.67" cy="448.56" r="1.45" fill="#2a2a2a"/>
<circle cx="49.47" cy="426.08" r="1.45" fill="#2a2a2a"/>
<circle cx="54.71" cy="406.15" r="1.45" fill="#2a2a2a"/>
<circle cx="59.79" cy="390.19" r="1.45" fill="#2a2a2a"/>
<circle cx="64.74" cy="377.14" r="1.45" fill="#2a2a2a"/>
<circle cx="69.51" cy="365.93" r="1.45" fill="#2a2a2a"/>
<circle cx="74.14" cy="356.04" r="1.45" fill="#2a2a2a"/>
<circle cx="78.65" cy="347.14" r="1.45" fill="#2a2a2a"/>
<circle cx="83.04" cy="338.97" r="1.45" fill="#2a2a2a"/>
<circle cx="87.33" cy="331.44" r="1.45" fill="#2a2a2a"/>
<circle cx="91.54" cy="324.46" r="1.45" fill="#2a2a2a"/>
<circle cx="95.7" cy="317.98" r="1.45" fill="#2a2a2a"/>
<circle cx="99.8" cy="311.95" r="1.45" fill="#2a2a2a"/>
<circle cx="103.86" cy="306.32" r="1.45" fill="#2a2a2a"/>
<circle cx="107.89" cy="301.06" r="1.45" fill="#2a2a2a"/>
<circle cx="111.89" cy="296.14" r="1.45" fill="#2a2a2a"/>
<circle cx="115.86" cy="291.52" r="1.45" fill="#2a2a2a"/>
<circle cx="119.82" cy="287.19" r="1.45" fill="#2a2a2a"/>
<circle cx="123.76" cy="283.12" r="1.45" fill="#2a2a2a"/>
<circle cx="127.68" cy="279.29" r="1.45" fill="#2a2a2a"/>
<circle cx="131.6" cy="275.69" r="1.45" fill="#2a2a2a"/>
<circle cx="135.51" cy="272.3" r="1.45" fill="#2a2a2a"/>
<circle cx="139.41" cy="269.1" r="1.45" fill="#2a2a2a"/>
<circle cx="143.3" cy="266.08" r="1.45" fill="#2a2a2a"/>
<circle cx="147.19" cy="263.23" r="1.45" fill="#2a2a2a"/>
<polyline points="59,453.83 60.2,443.76 64.51,430.95 69.64,419.45 74.85,409.34 79.84,400.02 84.62,391.32 89.25,383.19 93.75,375.56 98.15,368.4 102.47,361.64 106.71,355.25 110.89,349.2 115.02,343.45 119.09,337.99 123.12,332.77 127.11,327.79 131.06,323.01 134.98,318.43 138.86,314.03 142.71,309.79 146.54,305.7 150.33,301.75 154.09,297.92 157.83,294.21" fill="none" stroke="#f52a2a" stroke-width="0.9" stroke-linejoin="round" />
<circle cx="59" cy="453.83" r="1.45" fill="#f52a2a"/>
<circle cx="60.2" cy="443.76" r="1.45" fill="#f52a2a"/>
<circle cx="64.51" cy="430.95" r="1.45" fill="#f52a2a"/>
<circle cx="69.64" cy="419.45" r="1.45" fill="#f52a2a"/>
<circle cx="74.85" cy="409.34" r="1.45" fill="#f52a2a"/>
<circle cx="79.84" cy="400.02" r="1.45" fill="#f52a2a"/>
<circle cx="84.62" cy="391.32" r="1.45" fill="#f52a2a"/>
<circle cx="89.25" cy="383.19" r="1.45" fill="#f52a2a"/>
<circle cx="93.75" cy="375.56" r="1.45" fill="#f52a2a"/>
<circle cx="98.15" cy="368.4" r="1.45" fill="#f52a2a"/>
<circle cx="102.47" cy="361.64" r="1.45" fill="#f52a2a"/>
<circle cx="106.71" cy="355.25" r="1.45" fill="#f52a2a"/>
<circle cx="110.89" cy="349.2" r="1.45" fill="#f52a2a"/>
<circle cx="115.02" cy="343.45" r="1.45" fill="#f52a2a"/>
<circle cx="119.09" cy="337.99" r="1.45" fill="#f52a2a"/>
<circle cx="123.12" cy="332.77" r="1.45" fill="#f52a2a"/>
<circle cx="127.11" cy="327.79" r="1.45" fill="#f52a2a"/>
<circle cx="131.06" cy="323.01" r="1.45" fill="#f52a2a"/>
<circle cx="134.98" cy="318.43" r="1.45" fill="#f52a2a"/>
<circle cx="138.86" cy="314.03" r="1.45" fill="#f52a2a"/>
<circle cx="142.71" cy="309.79" r="1.45" fill="#f52a2a"/>
<circle cx="146.54" cy="305.7" r="1.45" fill="#f52a2a"/>
<circle cx="150.33" cy="301.75" r="1.45" fill="#f52a2a"/>
<circle cx="154.09" cy="297.92" r="1.45" fill="#f52a2a"/>
<circle cx="157.83" cy="294.21" r="1.45" fill="#f52a2a"/>
<polyline points="62.03,454.07 64.16,446.35 68.07,435.44 73.31,425.45 78.69,416.5 83.79,408.04 88.63,399.97 93.28,392.28 97.77,384.93 102.14,377.93 106.42,371.24 110.61,364.86 114.74,358.77 118.81,352.96 122.84,347.41 126.83,342.11 130.79,337.06 134.73,332.23 138.64,327.62 142.54,323.23 146.43,319.04 150.31,315.05 154.19,311.25 158.06,307.63 161.94,304.19" fill="none" stroke="#2f5fcf" stroke-width="0.9" stroke-linejoin="round" />
<path d="M62.03,452.33L63.63,455.23L60.44,455.23Z" fill="#2f5fcf"/>
<path d="M64.16,444.61L65.75,447.51L62.56,447.51Z" fill="#2f5fcf"/>
<path d="M68.07,433.7L69.67,436.6L66.48,436.6Z" fill="#2f5fcf"/>
<path d="M73.31,423.71L74.91,426.61L71.72,426.61Z" fill="#2f5fcf"/>
<path d="M78.69,414.76L80.29,417.66L77.1,417.66Z" fill="#2f5fcf"/>
<path d="M83.79,406.3L85.38,409.2L82.19,409.2Z" fill="#2f5fcf"/>
<path d="M88.63,398.23L90.22,401.13L87.03,401.13Z" fill="#2f5fcf"/>
<path d="M93.28,390.54L94.87,393.44L91.68,393.44Z" fill="#2f5fcf"/>
<path d="M97.77,383.19L99.37,386.09L96.18,386.09Z" fill="#2f5fcf"/>
<path d="M102.14,376.19L103.74,379.09L100.55,379.09Z" fill="#2f5fcf"/>
<path d="M106.42,369.5L108.01,372.4L104.82,372.4Z" fill="#2f5fcf"/>
<path d="M110.61,363.12L112.21,366.02L109.02,366.02Z" fill="#2f5fcf"/>
<path d="M114.74,357.03L116.34,359.93L113.15,359.93Z" fill="#2f5fcf"/>
<path d="M118.81,351.22L120.41,354.12L117.22,354.12Z" fill="#2f5fcf"/>
<path d="M122.84,345.67L124.44,348.57L121.25,348.57Z" fill="#2f5fcf"/>
<path d="M126.83,340.37L128.43,343.27L125.24,343.27Z" fill="#2f5fcf"/>
<path d="M130.79,335.32L132.39,338.22L129.2,338.22Z" fill="#2f5fcf"/>
<path d="M134.73,330.49L136.32,333.39L133.13,333.39Z" fill="#2f5fcf"/>
<path d="M138.64,325.88L140.24,328.78L137.05,328.78Z" fill="#2f5fcf"/>
<path d="M142.54,321.49L144.14,324.39L140.95,324.39Z" fill="#2f5fcf"/>
<path d="M146.43,317.3L148.03,320.2L144.84,320.2Z" fill="#2f5fcf"/>
<path d="M150.31,313.31L151.91,316.21L148.72,316.21Z" fill="#2f5fcf"/>
<path d="M154.19,309.51L155.78,312.41L152.59,312.41Z" fill="#2f5fcf"/>
<path d="M158.06,305.89L159.66,308.79L156.47,308.79Z" fill="#2f5fcf"/>
<path d="M161.94,302.45L163.53,305.35L160.34,305.35Z" fill="#2f5fcf"/>
<polyline points="66.28,454.31 68.66,448.35 72.11,439.16 77.02,430.09 82.88,422.55 88.26,415.18 93.25,407.93 97.99,400.88 102.54,394.05 106.93,387.43 111.21,381.03 115.39,374.86 119.49,368.9 123.52,363.16 127.51,357.63 131.45,352.32 135.36,347.22 139.25,342.34 143.12,337.66 146.98,333.18 150.83,328.91 154.69,324.83 158.54,320.95 162.41,317.27 166.28,313.77" fill="none" stroke="#1d9e5c" stroke-width="0.9" stroke-linejoin="round" />
<path d="M66.28,456.05L67.88,453.15L64.69,453.15Z" fill="#1d9e5c"/>
<path d="M68.66,450.09L70.25,447.19L67.06,447.19Z" fill="#1d9e5c"/>
<path d="M72.11,440.9L73.71,438L70.52,438Z" fill="#1d9e5c"/>
<path d="M77.02,431.83L78.61,428.93L75.42,428.93Z" fill="#1d9e5c"/>
<path d="M82.88,424.29L84.48,421.39L81.29,421.39Z" fill="#1d9e5c"/>
<path d="M88.26,416.92L89.86,414.02L86.67,414.02Z" fill="#1d9e5c"/>
<path d="M93.25,409.67L94.85,406.77L91.66,406.77Z" fill="#1d9e5c"/>
<path d="M97.99,402.62L99.59,399.72L96.4,399.72Z" fill="#1d9e5c"/>
<path d="M102.54,395.79L104.13,392.89L100.94,392.89Z" fill="#1d9e5c"/>
<path d="M106.93,389.17L108.53,386.27L105.34,386.27Z" fill="#1d9e5c"/>
<path d="M111.21,382.77L112.8,379.87L109.61,379.87Z" fill="#1d9e5c"/>
<path d="M115.39,376.6L116.98,373.7L113.79,373.7Z" fill="#1d9e5c"/>
<path d="M119.49,370.64L121.08,367.74L117.89,367.74Z" fill="#1d9e5c"/>
<path d="M123.52,364.9L125.12,362L121.93,362Z" fill="#1d9e5c"/>
<path d="M127.51,359.37L129.1,356.47L125.91,356.47Z" fill="#1d9e5c"/>
<path d="M131.45,354.06L133.05,351.16L129.86,351.16Z" fill="#1d9e5c"/>
<path d="M135.36,348.96L136.96,346.06L133.77,346.06Z" fill="#1d9e5c"/>
<path d="M139.25,344.08L140.84,341.18L137.65,341.18Z" fill="#1d9e5c"/>
<path d="M143.12,339.4L144.72,336.5L141.53,336.5Z" fill="#1d9e5c"/>
<path d="M146.98,334.92L148.57,332.02L145.38,332.02Z" fill="#1d9e5c"/>
<path d="M150.83,330.65L152.43,327.75L149.24,327.75Z" fill="#1d9e5c"/>
<path d="M154.69,326.57L156.28,323.67L153.09,323.67Z" fill="#1d9e5c"/>
<path d="M158.54,322.69L160.14,319.79L156.95,319.79Z" fill="#1d9e5c"/>
<path d="M162.41,319.01L164,316.11L160.81,316.11Z" fill="#1d9e5c"/>
<path d="M166.28,315.51L167.88,312.61L164.69,312.61Z" fill="#1d9e5c"/>
<polyline points="70.19,454.46 72.57,449.58 76.56,442.16 81.81,434.64 87.82,428.02 93.16,421.28 98.08,414.53 102.75,407.89 107.23,401.39 111.57,395.05 115.79,388.87 119.92,382.88 123.97,377.07 127.97,371.45 131.93,366.03 135.85,360.81 139.74,355.78 143.62,350.97 147.49,346.35 151.36,341.94 155.24,337.74 159.12,333.73 163.02,329.94 166.94,326.34 170.88,322.95" fill="none" stroke="#a45fd2" stroke-width="0.9" stroke-linejoin="round" />
<path d="M70.19,452.58L71.64,454.46L70.19,456.35L68.74,454.46Z" fill="#a45fd2"/>
<path d="M72.57,447.69L74.02,449.58L72.57,451.46L71.12,449.58Z" fill="#a45fd2"/>
<path d="M76.56,440.28L78.01,442.16L76.56,444.05L75.11,442.16Z" fill="#a45fd2"/>
<path d="M81.81,432.75L83.26,434.64L81.81,436.52L80.36,434.64Z" fill="#a45fd2"/>
<path d="M87.82,426.13L89.27,428.02L87.82,429.9L86.37,428.02Z" fill="#a45fd2"/>
<path d="M93.16,419.39L94.61,421.28L93.16,423.16L91.71,421.28Z" fill="#a45fd2"/>
<path d="M98.08,412.64L99.53,414.53L98.08,416.41L96.63,414.53Z" fill="#a45fd2"/>
<path d="M102.75,406L104.2,407.89L102.75,409.77L101.3,407.89Z" fill="#a45fd2"/>
<path d="M107.23,399.51L108.68,401.39L107.23,403.28L105.78,401.39Z" fill="#a45fd2"/>
<path d="M111.57,393.16L113.02,395.05L111.57,396.93L110.12,395.05Z" fill="#a45fd2"/>
<path d="M115.79,386.99L117.24,388.87L115.79,390.76L114.34,388.87Z" fill="#a45fd2"/>
<path d="M119.92,380.99L121.37,382.88L119.92,384.76L118.47,382.88Z" fill="#a45fd2"/>
<path d="M123.97,375.18L125.42,377.07L123.97,378.95L122.52,377.07Z" fill="#a45fd2"/>
<path d="M127.97,369.57L129.42,371.45L127.97,373.34L126.52,371.45Z" fill="#a45fd2"/>
<path d="M131.93,364.14L133.38,366.03L131.93,367.91L130.48,366.03Z" fill="#a45fd2"/>
<path d="M135.85,358.92L137.3,360.81L135.85,362.69L134.4,360.81Z" fill="#a45fd2"/>
<path d="M139.74,353.9L141.19,355.78L139.74,357.67L138.29,355.78Z" fill="#a45fd2"/>
<path d="M143.62,349.08L145.07,350.97L143.62,352.85L142.17,350.97Z" fill="#a45fd2"/>
<path d="M147.49,344.47L148.94,346.35L147.49,348.24L146.04,346.35Z" fill="#a45fd2"/>
<path d="M151.36,340.06L152.81,341.94L151.36,343.83L149.91,341.94Z" fill="#a45fd2"/>
<path d="M155.24,335.85L156.69,337.74L155.24,339.62L153.79,337.74Z" fill="#a45fd2"/>
<path d="M159.12,331.85L160.57,333.73L159.12,335.62L157.67,333.73Z" fill="#a45fd2"/>
<path d="M163.02,328.05L164.47,329.94L163.02,331.82L161.57,329.94Z" fill="#a45fd2"/>
<path d="M166.94,324.46L168.39,326.34L166.94,328.23L165.49,326.34Z" fill="#a45fd2"/>
<path d="M170.88,321.07L172.33,322.95L170.88,324.84L169.43,322.95Z" fill="#a45fd2"/>
<polyline points="74.42,454.58 76.44,450.49 80.71,444.26 86.45,437.95 92.35,431.91 97.93,425.97 103.09,420.02 107.92,414.07 112.48,408.14 116.86,402.26 121.08,396.47 125.19,390.78 129.21,385.21 133.16,379.77 137.06,374.48 140.92,369.35 144.75,364.38 148.57,359.59 152.39,354.99 156.21,350.57 160.04,346.34 163.89,342.32 167.76,338.5 171.66,334.88 175.6,331.47" fill="none" stroke="#d39420" stroke-width="0.9" stroke-linejoin="round" />
<path d="M72.68,454.58L75.58,452.99L75.58,456.18Z" fill="#d39420"/>
<path d="M74.7,450.49L77.6,448.89L77.6,452.08Z" fill="#d39420"/>
<path d="M78.97,444.26L81.87,442.66L81.87,445.85Z" fill="#d39420"/>
<path d="M84.71,437.95L87.61,436.36L87.61,439.55Z" fill="#d39420"/>
<path d="M90.61,431.91L93.51,430.31L93.51,433.5Z" fill="#d39420"/>
<path d="M96.19,425.97L99.09,424.38L99.09,427.57Z" fill="#d39420"/>
<path d="M101.35,420.02L104.25,418.43L104.25,421.62Z" fill="#d39420"/>
<path d="M106.18,414.07L109.08,412.47L109.08,415.66Z" fill="#d39420"/>
<path d="M110.74,408.14L113.64,406.54L113.64,409.73Z" fill="#d39420"/>
<path d="M115.12,402.26L118.02,400.67L118.02,403.86Z" fill="#d39420"/>
<path d="M119.34,396.47L122.24,394.88L122.24,398.07Z" fill="#d39420"/>
<path d="M123.45,390.78L126.35,389.19L126.35,392.38Z" fill="#d39420"/>
<path d="M127.47,385.21L130.37,383.62L130.37,386.81Z" fill="#d39420"/>
<path d="M131.42,379.77L134.32,378.18L134.32,381.37Z" fill="#d39420"/>
<path d="M135.32,374.48L138.22,372.89L138.22,376.08Z" fill="#d39420"/>
<path d="M139.18,369.35L142.08,367.75L142.08,370.94Z" fill="#d39420"/>
<path d="M143.01,364.38L145.91,362.79L145.91,365.98Z" fill="#d39420"/>
<path d="M146.83,359.59L149.73,358L149.73,361.19Z" fill="#d39420"/>
<path d="M150.65,354.99L153.55,353.39L153.55,356.58Z" fill="#d39420"/>
<path d="M154.47,350.57L157.37,348.97L157.37,352.16Z" fill="#d39420"/>
<path d="M158.3,346.34L161.2,344.75L161.2,347.94Z" fill="#d39420"/>
<path d="M162.15,342.32L165.05,340.73L165.05,343.92Z" fill="#d39420"/>
<path d="M166.02,338.5L168.92,336.9L168.92,340.09Z" fill="#d39420"/>
<path d="M169.92,334.88L172.82,333.29L172.82,336.48Z" fill="#d39420"/>
<path d="M173.86,331.47L176.76,329.88L176.76,333.07Z" fill="#d39420"/>
<polyline points="77.65,454.65 79.75,451.1 83.91,445.54 90.56,440.26 97.27,435.25 103.4,430.24 108.87,425.07 113.83,419.76 118.44,414.36 122.78,408.91 126.93,403.45 130.94,398.02 134.85,392.64 138.68,387.35 142.47,382.16 146.23,377.11 149.97,372.21 153.71,367.47 157.47,362.91 161.26,358.56 165.08,354.41 168.95,350.49 172.87,346.79 176.86,343.33 180.92,340.12" fill="none" stroke="#30c2d6" stroke-width="0.9" stroke-linejoin="round" />
<path d="M79.39,454.65L76.49,453.06L76.49,456.25Z" fill="#30c2d6"/>
<path d="M81.49,451.1L78.59,449.51L78.59,452.7Z" fill="#30c2d6"/>
<path d="M85.65,445.54L82.75,443.95L82.75,447.14Z" fill="#30c2d6"/>
<path d="M92.3,440.26L89.4,438.66L89.4,441.85Z" fill="#30c2d6"/>
<path d="M99.01,435.25L96.11,433.66L96.11,436.85Z" fill="#30c2d6"/>
<path d="M105.14,430.24L102.24,428.64L102.24,431.83Z" fill="#30c2d6"/>
<path d="M110.61,425.07L107.71,423.47L107.71,426.66Z" fill="#30c2d6"/>
<path d="M115.57,419.76L112.67,418.16L112.67,421.35Z" fill="#30c2d6"/>
<path d="M120.18,414.36L117.28,412.76L117.28,415.95Z" fill="#30c2d6"/>
<path d="M124.52,408.91L121.62,407.31L121.62,410.5Z" fill="#30c2d6"/>
<path d="M128.67,403.45L125.77,401.85L125.77,405.04Z" fill="#30c2d6"/>
<path d="M132.68,398.02L129.78,396.42L129.78,399.61Z" fill="#30c2d6"/>
<path d="M136.59,392.64L133.69,391.05L133.69,394.24Z" fill="#30c2d6"/>
<path d="M140.42,387.35L137.52,385.75L137.52,388.94Z" fill="#30c2d6"/>
<path d="M144.21,382.16L141.31,380.57L141.31,383.76Z" fill="#30c2d6"/>
<path d="M147.97,377.11L145.07,375.51L145.07,378.7Z" fill="#30c2d6"/>
<path d="M151.71,372.21L148.81,370.61L148.81,373.8Z" fill="#30c2d6"/>
<path d="M155.45,367.47L152.55,365.87L152.55,369.06Z" fill="#30c2d6"/>
<path d="M159.21,362.91L156.31,361.32L156.31,364.51Z" fill="#30c2d6"/>
<path d="M163,358.56L160.1,356.96L160.1,360.15Z" fill="#30c2d6"/>
<path d="M166.82,354.41L163.92,352.82L163.92,356.01Z" fill="#30c2d6"/>
<path d="M170.69,350.49L167.79,348.89L167.79,352.08Z" fill="#30c2d6"/>
<path d="M174.61,346.79L171.71,345.19L171.71,348.38Z" fill="#30c2d6"/>
<path d="M178.6,343.33L175.7,341.74L175.7,344.93Z" fill="#30c2d6"/>
<path d="M182.66,340.12L179.76,338.52L179.76,341.71Z" fill="#30c2d6"/>
<polyline points="92.53,454.84 95.58,452.83 102.95,449.96 112.76,447.27 122.48,444.73 131.05,442.14 138.22,439.33 144.33,436.29 149.71,433.07 154.56,429.7 159.03,426.19 163.23,422.59 167.23,418.9 171.08,415.17 174.83,411.4 178.51,407.62 182.14,403.85 185.75,400.11 189.35,396.4 192.95,392.76 196.58,389.19 200.24,385.7 203.93,382.31 207.68,379.03 211.48,375.87" fill="none" stroke="#6b2b2e" stroke-width="0.9" stroke-linejoin="round" />
<circle cx="92.53" cy="454.84" r="1.45" fill="#6b2b2e"/>
<circle cx="95.58" cy="452.83" r="1.45" fill="#6b2b2e"/>
<circle cx="102.95" cy="449.96" r="1.45" fill="#6b2b2e"/>
<circle cx="112.76" cy="447.27" r="1.45" fill="#6b2b2e"/>
<circle cx="122.48" cy="444.73" r="1.45" fill="#6b2b2e"/>
<circle cx="131.05" cy="442.14" r="1.45" fill="#6b2b2e"/>
<circle cx="138.22" cy="439.33" r="1.45" fill="#6b2b2e"/>
<circle cx="144.33" cy="436.29" r="1.45" fill="#6b2b2e"/>
<circle cx="149.71" cy="433.07" r="1.45" fill="#6b2b2e"/>
<circle cx="154.56" cy="429.7" r="1.45" fill="#6b2b2e"/>
<circle cx="159.03" cy="426.19" r="1.45" fill="#6b2b2e"/>
<circle cx="163.23" cy="422.59" r="1.45" fill="#6b2b2e"/>
<circle cx="167.23" cy="418.9" r="1.45" fill="#6b2b2e"/>
<circle cx="171.08" cy="415.17" r="1.45" fill="#6b2b2e"/>
<circle cx="174.83" cy="411.4" r="1.45" fill="#6b2b2e"/>
<circle cx="178.51" cy="407.62" r="1.45" fill="#6b2b2e"/>
<circle cx="182.14" cy="403.85" r="1.45" fill="#6b2b2e"/>
<circle cx="185.75" cy="400.11" r="1.45" fill="#6b2b2e"/>
<circle cx="189.35" cy="396.4" r="1.45" fill="#6b2b2e"/>
<circle cx="192.95" cy="392.76" r="1.45" fill="#6b2b2e"/>
<circle cx="196.58" cy="389.19" r="1.45" fill="#6b2b2e"/>
<circle cx="200.24" cy="385.7" r="1.45" fill="#6b2b2e"/>
<circle cx="203.93" cy="382.31" r="1.45" fill="#6b2b2e"/>
<circle cx="207.68" cy="379.03" r="1.45" fill="#6b2b2e"/>
<circle cx="211.48" cy="375.87" r="1.45" fill="#6b2b2e"/>
<polyline points="103.82,454.92 106.77,453.46 115.51,451.39 130.25,449.8 145.01,448.44 157.13,446.97 166.99,445.32 175.24,443.52 182.34,441.58 188.58,439.52 194.19,437.34 199.31,435.07 204.06,432.71 208.53,430.28 212.78,427.79 216.85,425.24 220.79,422.65 224.63,420.03 228.38,417.38 232.08,414.72 235.74,412.05 239.36,409.38 242.97,406.72" fill="none" stroke="#8c8c28" stroke-width="0.9" stroke-linejoin="round" />
<path d="M103.82,453.18L105.41,456.08L102.22,456.08Z" fill="#8c8c28"/>
<path d="M106.77,451.72L108.37,454.62L105.18,454.62Z" fill="#8c8c28"/>
<path d="M115.51,449.65L117.1,452.55L113.91,452.55Z" fill="#8c8c28"/>
<path d="M130.25,448.06L131.85,450.96L128.66,450.96Z" fill="#8c8c28"/>
<path d="M145.01,446.7L146.6,449.6L143.41,449.6Z" fill="#8c8c28"/>
<path d="M157.13,445.23L158.73,448.13L155.54,448.13Z" fill="#8c8c28"/>
<path d="M166.99,443.58L168.58,446.48L165.39,446.48Z" fill="#8c8c28"/>
<path d="M175.24,441.78L176.84,444.68L173.65,444.68Z" fill="#8c8c28"/>
<path d="M182.34,439.84L183.93,442.74L180.74,442.74Z" fill="#8c8c28"/>
<path d="M188.58,437.78L190.17,440.68L186.98,440.68Z" fill="#8c8c28"/>
<path d="M194.19,435.6L195.78,438.5L192.59,438.5Z" fill="#8c8c28"/>
<path d="M199.31,433.33L200.9,436.23L197.71,436.23Z" fill="#8c8c28"/>
<path d="M204.06,430.97L205.66,433.87L202.47,433.87Z" fill="#8c8c28"/>
<path d="M208.53,428.54L210.13,431.44L206.94,431.44Z" fill="#8c8c28"/>
<path d="M212.78,426.05L214.37,428.95L211.18,428.95Z" fill="#8c8c28"/>
<path d="M216.85,423.5L218.45,426.4L215.26,426.4Z" fill="#8c8c28"/>
<path d="M220.79,420.91L222.39,423.81L219.2,423.81Z" fill="#8c8c28"/>
<path d="M224.63,418.29L226.22,421.19L223.03,421.19Z" fill="#8c8c28"/>
<path d="M228.38,415.64L229.98,418.54L226.79,418.54Z" fill="#8c8c28"/>
<path d="M232.08,412.98L233.68,415.88L230.49,415.88Z" fill="#8c8c28"/>
<path d="M235.74,410.31L237.33,413.21L234.14,413.21Z" fill="#8c8c28"/>
<path d="M239.36,407.64L240.96,410.54L237.77,410.54Z" fill="#8c8c28"/>
<path d="M242.97,404.98L244.57,407.88L241.38,407.88Z" fill="#8c8c28"/>
<polyline points="107.84,454.94 108.81,453.54 118.56,451.64 135.81,450.35 153.64,449.35 168.32,448.24 180.13,446.97 189.84,445.56 198.03,444.01 205.11,442.34 211.36,440.57 216.99,438.71 222.16,436.76 226.97,434.75 231.51,432.67 235.84,430.54 240.02,428.36 244.09,426.16 248.07,423.93 252.01,421.69 255.93,419.45 259.86,417.22 263.82,415.01 267.83,412.84 271.9,410.7" fill="none" stroke="#ff5b1f" stroke-width="0.9" stroke-linejoin="round" />
<circle cx="107.84" cy="454.94" r="1.45" fill="#ff5b1f"/>
<circle cx="108.81" cy="453.54" r="1.45" fill="#ff5b1f"/>
<circle cx="118.56" cy="451.64" r="1.45" fill="#ff5b1f"/>
<circle cx="135.81" cy="450.35" r="1.45" fill="#ff5b1f"/>
<circle cx="153.64" cy="449.35" r="1.45" fill="#ff5b1f"/>
<circle cx="168.32" cy="448.24" r="1.45" fill="#ff5b1f"/>
<circle cx="180.13" cy="446.97" r="1.45" fill="#ff5b1f"/>
<circle cx="189.84" cy="445.56" r="1.45" fill="#ff5b1f"/>
<circle cx="198.03" cy="444.01" r="1.45" fill="#ff5b1f"/>
<circle cx="205.11" cy="442.34" r="1.45" fill="#ff5b1f"/>
<circle cx="211.36" cy="440.57" r="1.45" fill="#ff5b1f"/>
<circle cx="216.99" cy="438.71" r="1.45" fill="#ff5b1f"/>
<circle cx="222.16" cy="436.76" r="1.45" fill="#ff5b1f"/>
<circle cx="226.97" cy="434.75" r="1.45" fill="#ff5b1f"/>
<circle cx="231.51" cy="432.67" r="1.45" fill="#ff5b1f"/>
<circle cx="235.84" cy="430.54" r="1.45" fill="#ff5b1f"/>
<circle cx="240.02" cy="428.36" r="1.45" fill="#ff5b1f"/>
<circle cx="244.09" cy="426.16" r="1.45" fill="#ff5b1f"/>
<circle cx="248.07" cy="423.93" r="1.45" fill="#ff5b1f"/>
<circle cx="252.01" cy="421.69" r="1.45" fill="#ff5b1f"/>
<circle cx="255.93" cy="419.45" r="1.45" fill="#ff5b1f"/>
<circle cx="259.86" cy="417.22" r="1.45" fill="#ff5b1f"/>
<circle cx="263.82" cy="415.01" r="1.45" fill="#ff5b1f"/>
<circle cx="267.83" cy="412.84" r="1.45" fill="#ff5b1f"/>
<circle cx="271.9" cy="410.7" r="1.45" fill="#ff5b1f"/>
<polyline points="111.17,454.95 111.71,453.66 121.83,451.89 139.54,450.67 158.18,449.76 174.22,448.8 187.71,447.74 199.26,446.6 209.28,445.37 218.1,444.06 225.95,442.67 233.03,441.22 239.47,439.69 245.39,438.1 250.86,436.45 255.97,434.75 260.77,432.98 265.3,431.17 269.61,429.32 273.79,427.43 277.92,425.53 282.07,423.64 286.27,421.77 290.58,419.94 295.04,418.16" fill="none" stroke="#4a97e6" stroke-width="0.9" stroke-linejoin="round" />
<path d="M109.43,454.95L112.33,453.35L112.33,456.54Z" fill="#4a97e6"/>
<path d="M109.97,453.66L112.87,452.06L112.87,455.25Z" fill="#4a97e6"/>
<path d="M120.09,451.89L122.99,450.29L122.99,453.48Z" fill="#4a97e6"/>
<path d="M137.8,450.67L140.7,449.08L140.7,452.27Z" fill="#4a97e6"/>
<path d="M156.44,449.76L159.34,448.16L159.34,451.35Z" fill="#4a97e6"/>
<path d="M172.48,448.8L175.38,447.2L175.38,450.39Z" fill="#4a97e6"/>
<path d="M185.97,447.74L188.87,446.15L188.87,449.34Z" fill="#4a97e6"/>
<path d="M197.52,446.6L200.42,445L200.42,448.19Z" fill="#4a97e6"/>
<path d="M207.54,445.37L210.44,443.77L210.44,446.96Z" fill="#4a97e6"/>
<path d="M216.36,444.06L219.26,442.46L219.26,445.65Z" fill="#4a97e6"/>
<path d="M224.21,442.67L227.11,441.08L227.11,444.27Z" fill="#4a97e6"/>
<path d="M231.29,441.22L234.19,439.62L234.19,442.81Z" fill="#4a97e6"/>
<path d="M237.73,439.69L240.63,438.1L240.63,441.29Z" fill="#4a97e6"/>
<path d="M243.65,438.1L246.55,436.51L246.55,439.7Z" fill="#4a97e6"/>
<path d="M249.12,436.45L252.02,434.86L252.02,438.05Z" fill="#4a97e6"/>
<path d="M254.23,434.75L257.13,433.15L257.13,436.34Z" fill="#4a97e6"/>
<path d="M259.03,432.98L261.93,431.39L261.93,434.58Z" fill="#4a97e6"/>
<path d="M263.56,431.17L266.46,429.58L266.46,432.77Z" fill="#4a97e6"/>
<path d="M267.87,429.32L270.77,427.72L270.77,430.91Z" fill="#4a97e6"/>
<path d="M272.05,427.43L274.95,425.84L274.95,429.03Z" fill="#4a97e6"/>
<path d="M276.18,425.53L279.08,423.94L279.08,427.13Z" fill="#4a97e6"/>
<path d="M280.33,423.64L283.23,422.04L283.23,425.23Z" fill="#4a97e6"/>
<path d="M284.53,421.77L287.43,420.17L287.43,423.36Z" fill="#4a97e6"/>
<path d="M288.84,419.94L291.74,418.34L291.74,421.53Z" fill="#4a97e6"/>
<path d="M293.3,418.16L296.2,416.57L296.2,419.76Z" fill="#4a97e6"/>
<polyline points="113.56,454.96 114.01,453.73 125.38,452.13 143.13,450.95 161.52,450.03 177.59,449.09 191.42,448.08 203.46,447.01 214.06,445.87 223.49,444.67 231.94,443.4 239.56,442.07 246.48,440.68 252.79,439.22 258.58,437.7 263.91,436.11 268.84,434.46 273.41,432.75 277.69,430.98 281.81,429.18 285.92,427.36 290.12,425.57 294.5,423.82 299.12,422.15 304.06,420.57" fill="none" stroke="#4cbf3c" stroke-width="0.9" stroke-linejoin="round" />
<polyline points="114.76,454.96 116.58,453.82 128.41,452.31 146.46,451.19 165.11,450.3 181.5,449.4 195.71,448.44 208.19,447.44 219.27,446.38 229.19,445.26 238.15,444.1 246.3,442.88 253.74,441.61 260.57,440.28 266.88,438.9 272.72,437.47 278.15,435.99 283.21,434.46 287.97,432.88 292.63,431.28 297.34,429.7 302.26,428.16" fill="none" stroke="#3c3c3c" stroke-width="0.9" stroke-linejoin="round" />
<path d="M113.31,454.96H116.21M114.76,453.51V456.41" stroke="#3c3c3c" stroke-width="0.6"/>
<path d="M115.13,453.82H118.03M116.58,452.37V455.27" stroke="#3c3c3c" stroke-width="0.6"/>
<path d="M126.96,452.31H129.86M128.41,450.86V453.76" stroke="#3c3c3c" stroke-width="0.6"/>
<path d="M145.01,451.19H147.91M146.46,449.74V452.64" stroke="#3c3c3c" stroke-width="0.6"/>
<path d="M163.66,450.3H166.56M165.11,448.85V451.75" stroke="#3c3c3c" stroke-width="0.6"/>
<path d="M180.05,449.4H182.95M181.5,447.95V450.85" stroke="#3c3c3c" stroke-width="0.6"/>
<path d="M194.26,448.44H197.16M195.71,446.99V449.89" stroke="#3c3c3c" stroke-width="0.6"/>
<path d="M206.74,447.44H209.64M208.19,445.99V448.89" stroke="#3c3c3c" stroke-width="0.6"/>
<path d="M217.82,446.38H220.72M219.27,444.93V447.83" stroke="#3c3c3c" stroke-width="0.6"/>
<path d="M227.74,445.26H230.64M229.19,443.81V446.71" stroke="#3c3c3c" stroke-width="0.6"/>
<path d="M236.7,444.1H239.6M238.15,442.65V445.55" stroke="#3c3c3c" stroke-width="0.6"/>
<path d="M244.85,442.88H247.75M246.3,441.43V444.33" stroke="#3c3c3c" stroke-width="0.6"/>
<path d="M252.29,441.61H255.19M253.74,440.16V443.06" stroke="#3c3c3c" stroke-width="0.6"/>
<path d="M259.12,440.28H262.02M260.57,438.83V441.73" stroke="#3c3c3c" stroke-width="0.6"/>
<path d="M265.43,438.9H268.33M266.88,437.45V440.35" stroke="#3c3c3c" stroke-width="0.6"/>
<path d="M271.27,437.47H274.17M272.72,436.02V438.92" stroke="#3c3c3c" stroke-width="0.6"/>
<path d="M276.7,435.99H279.6M278.15,434.54V437.44" stroke="#3c3c3c" stroke-width="0.6"/>
<path d="M281.76,434.46H284.66M283.21,433.01V435.91" stroke="#3c3c3c" stroke-width="0.6"/>
<path d="M286.52,432.88H289.42M287.97,431.43V434.33" stroke="#3c3c3c" stroke-width="0.6"/>
<path d="M291.18,431.28H294.08M292.63,429.83V432.73" stroke="#3c3c3c" stroke-width="0.6"/>
<path d="M295.89,429.7H298.79M297.34,428.25V431.15" stroke="#3c3c3c" stroke-width="0.6"/>
<path d="M300.81,428.16H303.71M302.26,426.71V429.61" stroke="#3c3c3c" stroke-width="0.6"/>
<rect x="31.6" y="251.8" width="284" height="209.4" fill="none" stroke="#000" stroke-width="1.3"/>
<line x1="31.6" y1="461.2" x2="31.6" y2="457.7" stroke="#000" stroke-width="1" />
<line x1="31.6" y1="251.8" x2="31.6" y2="255.3" stroke="#000" stroke-width="1" />
<line x1="53.5" y1="461.2" x2="53.5" y2="459.2" stroke="#000" stroke-width="1" />
<line x1="53.5" y1="251.8" x2="53.5" y2="253.8" stroke="#000" stroke-width="1" />
<line x1="75.4" y1="461.2" x2="75.4" y2="457.7" stroke="#000" stroke-width="1" />
<line x1="75.4" y1="251.8" x2="75.4" y2="255.3" stroke="#000" stroke-width="1" />
<line x1="97.3" y1="461.2" x2="97.3" y2="459.2" stroke="#000" stroke-width="1" />
<line x1="97.3" y1="251.8" x2="97.3" y2="253.8" stroke="#000" stroke-width="1" />
<line x1="119.2" y1="461.2" x2="119.2" y2="457.7" stroke="#000" stroke-width="1" />
<line x1="119.2" y1="251.8" x2="119.2" y2="255.3" stroke="#000" stroke-width="1" />
<line x1="141.1" y1="461.2" x2="141.1" y2="459.2" stroke="#000" stroke-width="1" />
<line x1="141.1" y1="251.8" x2="141.1" y2="253.8" stroke="#000" stroke-width="1" />
<line x1="163" y1="461.2" x2="163" y2="457.7" stroke="#000" stroke-width="1" />
<line x1="163" y1="251.8" x2="163" y2="255.3" stroke="#000" stroke-width="1" />
<line x1="184.9" y1="461.2" x2="184.9" y2="459.2" stroke="#000" stroke-width="1" />
<line x1="184.9" y1="251.8" x2="184.9" y2="253.8" stroke="#000" stroke-width="1" />
<line x1="206.8" y1="461.2" x2="206.8" y2="457.7" stroke="#000" stroke-width="1" />
<line x1="206.8" y1="251.8" x2="206.8" y2="255.3" stroke="#000" stroke-width="1" />
<line x1="228.7" y1="461.2" x2="228.7" y2="459.2" stroke="#000" stroke-width="1" />
<line x1="228.7" y1="251.8" x2="228.7" y2="253.8" stroke="#000" stroke-width="1" />
<line x1="250.6" y1="461.2" x2="250.6" y2="457.7" stroke="#000" stroke-width="1" />
<line x1="250.6" y1="251.8" x2="250.6" y2="255.3" stroke="#000" stroke-width="1" />
<line x1="272.5" y1="461.2" x2="272.5" y2="459.2" stroke="#000" stroke-width="1" />
<line x1="272.5" y1="251.8" x2="272.5" y2="253.8" stroke="#000" stroke-width="1" />
<line x1="294.4" y1="461.2" x2="294.4" y2="457.7" stroke="#000" stroke-width="1" />
<line x1="294.4" y1="251.8" x2="294.4" y2="255.3" stroke="#000" stroke-width="1" />
<line x1="316.3" y1="461.2" x2="316.3" y2="459.2" stroke="#000" stroke-width="1" />
<line x1="316.3" y1="251.8" x2="316.3" y2="253.8" stroke="#000" stroke-width="1" />
<line x1="31.6" y1="455.1" x2="35.1" y2="455.1" stroke="#000" stroke-width="1" />
<line x1="315.6" y1="455.1" x2="312.1" y2="455.1" stroke="#000" stroke-width="1" />
<line x1="31.6" y1="442.39" x2="33.6" y2="442.39" stroke="#000" stroke-width="1" />
<line x1="315.6" y1="442.39" x2="313.6" y2="442.39" stroke="#000" stroke-width="1" />
<line x1="31.6" y1="429.68" x2="35.1" y2="429.68" stroke="#000" stroke-width="1" />
<line x1="315.6" y1="429.68" x2="312.1" y2="429.68" stroke="#000" stroke-width="1" />
<line x1="31.6" y1="416.97" x2="33.6" y2="416.97" stroke="#000" stroke-width="1" />
<line x1="315.6" y1="416.97" x2="313.6" y2="416.97" stroke="#000" stroke-width="1" />
<line x1="31.6" y1="404.26" x2="35.1" y2="404.26" stroke="#000" stroke-width="1" />
<line x1="315.6" y1="404.26" x2="312.1" y2="404.26" stroke="#000" stroke-width="1" />
<line x1="31.6" y1="391.55" x2="33.6" y2="391.55" stroke="#000" stroke-width="1" />
<line x1="315.6" y1="391.55" x2="313.6" y2="391.55" stroke="#000" stroke-width="1" />
<line x1="31.6" y1="378.84" x2="35.1" y2="378.84" stroke="#000" stroke-width="1" />
<line x1="315.6" y1="378.84" x2="312.1" y2="378.84" stroke="#000" stroke-width="1" />
<line x1="31.6" y1="366.13" x2="33.6" y2="366.13" stroke="#000" stroke-width="1" />
<line x1="315.6" y1="366.13" x2="313.6" y2="366.13" stroke="#000" stroke-width="1" />
<line x1="31.6" y1="353.42" x2="35.1" y2="353.42" stroke="#000" stroke-width="1" />
<line x1="315.6" y1="353.42" x2="312.1" y2="353.42" stroke="#000" stroke-width="1" />
<line x1="31.6" y1="340.71" x2="33.6" y2="340.71" stroke="#000" stroke-width="1" />
<line x1="315.6" y1="340.71" x2="313.6" y2="340.71" stroke="#000" stroke-width="1" />
<line x1="31.6" y1="328" x2="35.1" y2="328" stroke="#000" stroke-width="1" />
<line x1="315.6" y1="328" x2="312.1" y2="328" stroke="#000" stroke-width="1" />
<line x1="31.6" y1="315.29" x2="33.6" y2="315.29" stroke="#000" stroke-width="1" />
<line x1="315.6" y1="315.29" x2="313.6" y2="315.29" stroke="#000" stroke-width="1" />
<line x1="31.6" y1="302.58" x2="35.1" y2="302.58" stroke="#000" stroke-width="1" />
<line x1="315.6" y1="302.58" x2="312.1" y2="302.58" stroke="#000" stroke-width="1" />
<line x1="31.6" y1="289.87" x2="33.6" y2="289.87" stroke="#000" stroke-width="1" />
<line x1="315.6" y1="289.87" x2="313.6" y2="289.87" stroke="#000" stroke-width="1" />
<line x1="31.6" y1="277.16" x2="35.1" y2="277.16" stroke="#000" stroke-width="1" />
<line x1="315.6" y1="277.16" x2="312.1" y2="277.16" stroke="#000" stroke-width="1" />
<line x1="31.6" y1="264.45" x2="33.6" y2="264.45" stroke="#000" stroke-width="1" />
<line x1="315.6" y1="264.45" x2="313.6" y2="264.45" stroke="#000" stroke-width="1" />
<line x1="31.6" y1="251.74" x2="35.1" y2="251.74" stroke="#000" stroke-width="1" />
<line x1="315.6" y1="251.74" x2="312.1" y2="251.74" stroke="#000" stroke-width="1" />
<text x="31.6" y="472.8" font-family="'Liberation Sans',sans-serif" font-size="8.8" font-weight="bold" text-anchor="middle" fill="#111" >0</text>
<text x="75.4" y="472.8" font-family="'Liberation Sans',sans-serif" font-size="8.8" font-weight="bold" text-anchor="middle" fill="#111" >20</text>
<text x="119.2" y="472.8" font-family="'Liberation Sans',sans-serif" font-size="8.8" font-weight="bold" text-anchor="middle" fill="#111" >40</text>
<text x="163" y="472.8" font-family="'Liberation Sans',sans-serif" font-size="8.8" font-weight="bold" text-anchor="middle" fill="#111" >60</text>
<text x="206.8" y="472.8" font-family="'Liberation Sans',sans-serif" font-size="8.8" font-weight="bold" text-anchor="middle" fill="#111" >80</text>
<text x="250.6" y="472.8" font-family="'Liberation Sans',sans-serif" font-size="8.8" font-weight="bold" text-anchor="middle" fill="#111" >100</text>
<text x="294.4" y="472.8" font-family="'Liberation Sans',sans-serif" font-size="8.8" font-weight="bold" text-anchor="middle" fill="#111" >120</text>
<text x="26.4" y="458.2" font-family="'Liberation Sans',sans-serif" font-size="8.8" font-weight="bold" text-anchor="end" fill="#111" >0.0</text>
<text x="26.4" y="432.78" font-family="'Liberation Sans',sans-serif" font-size="8.8" font-weight="bold" text-anchor="end" fill="#111" >0.2</text>
<text x="26.4" y="407.36" font-family="'Liberation Sans',sans-serif" font-size="8.8" font-weight="bold" text-anchor="end" fill="#111" >0.4</text>
<text x="26.4" y="381.94" font-family="'Liberation Sans',sans-serif" font-size="8.8" font-weight="bold" text-anchor="end" fill="#111" >0.6</text>
<text x="26.4" y="356.52" font-family="'Liberation Sans',sans-serif" font-size="8.8" font-weight="bold" text-anchor="end" fill="#111" >0.8</text>
<text x="26.4" y="331.1" font-family="'Liberation Sans',sans-serif" font-size="8.8" font-weight="bold" text-anchor="end" fill="#111" >1.0</text>
<text x="26.4" y="305.68" font-family="'Liberation Sans',sans-serif" font-size="8.8" font-weight="bold" text-anchor="end" fill="#111" >1.2</text>
<text x="26.4" y="280.26" font-family="'Liberation Sans',sans-serif" font-size="8.8" font-weight="bold" text-anchor="end" fill="#111" >1.4</text>
<text x="173.1" y="483.8" font-family="'Liberation Sans',sans-serif" font-size="10.8" font-weight="bold" text-anchor="middle" fill="#111" >H/M (mol Oe/emu )</text>
<text transform="translate(11.4,355) rotate(-90)" font-family="'Liberation Sans',sans-serif" font-size="11" font-weight="bold" text-anchor="middle" fill="#111">M<tspan dy="-4" font-size="7.6">2</tspan><tspan dy="4">(10</tspan><tspan dy="-4" font-size="7.6">6</tspan><tspan dy="4"> emu</tspan><tspan dy="-4" font-size="7.6">2</tspan><tspan dy="4">/mol</tspan><tspan dy="-4" font-size="7.6">2</tspan><tspan dy="4">)</tspan></text>
<line x1="266.3" y1="264.1" x2="281.8" y2="264.1" stroke="#2a2a2a" stroke-width="0.8" />
<circle cx="274" cy="264.1" r="1.4" fill="#2a2a2a"/>
<text x="284" y="266.6" font-family="'Liberation Sans',sans-serif" font-size="7" font-weight="bold" text-anchor="start" fill="#111" >A&#160;1.8k</text>
<line x1="266.3" y1="272.78" x2="281.8" y2="272.78" stroke="#f52a2a" stroke-width="0.8" />
<circle cx="274" cy="272.78" r="1.4" fill="#f52a2a"/>
<text x="284" y="275.28" font-family="'Liberation Sans',sans-serif" font-size="7" font-weight="bold" text-anchor="start" fill="#111" >B&#160;10k</text>
<line x1="266.3" y1="281.46" x2="281.8" y2="281.46" stroke="#2f5fcf" stroke-width="0.8" />
<path d="M274,279.78L275.54,282.58L272.46,282.58Z" fill="#2f5fcf"/>
<text x="284" y="283.96" font-family="'Liberation Sans',sans-serif" font-size="7" font-weight="bold" text-anchor="start" fill="#111" >C&#160;&#160;12k</text>
<line x1="266.3" y1="290.14" x2="281.8" y2="290.14" stroke="#1d9e5c" stroke-width="0.8" />
<path d="M274,291.82L275.54,289.02L272.46,289.02Z" fill="#1d9e5c"/>
<text x="284" y="292.64" font-family="'Liberation Sans',sans-serif" font-size="7" font-weight="bold" text-anchor="start" fill="#111" >D&#160;14k</text>
<line x1="266.3" y1="298.82" x2="281.8" y2="298.82" stroke="#a45fd2" stroke-width="0.8" />
<path d="M274,297L275.4,298.82L274,300.64L272.6,298.82Z" fill="#a45fd2"/>
<text x="284" y="301.32" font-family="'Liberation Sans',sans-serif" font-size="7" font-weight="bold" text-anchor="start" fill="#111" >E&#160;16k</text>
<line x1="266.3" y1="307.5" x2="281.8" y2="307.5" stroke="#d39420" stroke-width="0.8" />
<path d="M272.32,307.5L275.12,305.96L275.12,309.04Z" fill="#d39420"/>
<text x="284" y="310" font-family="'Liberation Sans',sans-serif" font-size="7" font-weight="bold" text-anchor="start" fill="#111" >F&#160;18k</text>
<line x1="266.3" y1="316.18" x2="281.8" y2="316.18" stroke="#30c2d6" stroke-width="0.8" />
<path d="M275.68,316.18L272.88,314.64L272.88,317.72Z" fill="#30c2d6"/>
<text x="284" y="318.68" font-family="'Liberation Sans',sans-serif" font-size="7" font-weight="bold" text-anchor="start" fill="#111" >G&#160;20k</text>
<line x1="266.3" y1="324.86" x2="281.8" y2="324.86" stroke="#6b2b2e" stroke-width="0.8" />
<circle cx="274" cy="324.86" r="1.4" fill="#6b2b2e"/>
<text x="284" y="327.36" font-family="'Liberation Sans',sans-serif" font-size="7" font-weight="bold" text-anchor="start" fill="#111" >H&#160;30k</text>
<line x1="266.3" y1="333.54" x2="281.8" y2="333.54" stroke="#8c8c28" stroke-width="0.8" />
<path d="M274,331.86L275.54,334.66L272.46,334.66Z" fill="#8c8c28"/>
<text x="284" y="336.04" font-family="'Liberation Sans',sans-serif" font-size="7" font-weight="bold" text-anchor="start" fill="#111" >I&#160;&#160;&#160;40k</text>
<line x1="266.3" y1="342.22" x2="281.8" y2="342.22" stroke="#ff5b1f" stroke-width="0.8" />
<circle cx="274" cy="342.22" r="1.4" fill="#ff5b1f"/>
<text x="284" y="344.72" font-family="'Liberation Sans',sans-serif" font-size="7" font-weight="bold" text-anchor="start" fill="#111" >J&#160;&#160;45k</text>
<line x1="266.3" y1="350.9" x2="281.8" y2="350.9" stroke="#4a97e6" stroke-width="0.8" />
<path d="M272.32,350.9L275.12,349.36L275.12,352.44Z" fill="#4a97e6"/>
<text x="284" y="353.4" font-family="'Liberation Sans',sans-serif" font-size="7" font-weight="bold" text-anchor="start" fill="#111" >K&#160;&#160;50k</text>
<line x1="266.3" y1="359.58" x2="281.8" y2="359.58" stroke="#4cbf3c" stroke-width="0.8" />
<text x="284" y="362.08" font-family="'Liberation Sans',sans-serif" font-size="7" font-weight="bold" text-anchor="start" fill="#111" >L&#160;&#160;&#160;52k</text>
<line x1="266.3" y1="368.26" x2="281.8" y2="368.26" stroke="#3c3c3c" stroke-width="0.8" />
<path d="M272.6,368.26H275.4M274,366.86V369.66" stroke="#3c3c3c" stroke-width="0.6"/>
<text x="284" y="370.76" font-family="'Liberation Sans',sans-serif" font-size="7" font-weight="bold" text-anchor="start" fill="#111" >M&#160;54k</text>
<text x="148.99" y="261.93" font-family="'Liberation Serif',serif" font-size="7" font-weight="bold" text-anchor="start" fill="#222" >A</text>
<text x="159.63" y="292.91" font-family="'Liberation Serif',serif" font-size="7" font-weight="bold" text-anchor="start" fill="#222" >B</text>
<text x="163.74" y="302.89" font-family="'Liberation Serif',serif" font-size="7" font-weight="bold" text-anchor="start" fill="#222" >C</text>
<text x="168.08" y="312.47" font-family="'Liberation Serif',serif" font-size="7" font-weight="bold" text-anchor="start" fill="#222" >D</text>
<text x="172.68" y="321.65" font-family="'Liberation Serif',serif" font-size="7" font-weight="bold" text-anchor="start" fill="#222" >E</text>
<text x="177.4" y="330.17" font-family="'Liberation Serif',serif" font-size="7" font-weight="bold" text-anchor="start" fill="#222" >F</text>
<text x="182.72" y="338.82" font-family="'Liberation Serif',serif" font-size="7" font-weight="bold" text-anchor="start" fill="#222" >G</text>
<text x="213.28" y="374.57" font-family="'Liberation Serif',serif" font-size="7" font-weight="bold" text-anchor="start" fill="#222" >H</text>
<text x="244.77" y="405.42" font-family="'Liberation Serif',serif" font-size="7" font-weight="bold" text-anchor="start" fill="#222" >I</text>
<text x="273.7" y="409.4" font-family="'Liberation Serif',serif" font-size="7" font-weight="bold" text-anchor="start" fill="#222" >J</text>
<text x="296.84" y="416.86" font-family="'Liberation Serif',serif" font-size="7" font-weight="bold" text-anchor="start" fill="#222" >K</text>
<text x="305.86" y="419.27" font-family="'Liberation Serif',serif" font-size="7" font-weight="bold" text-anchor="start" fill="#222" >L</text>
<text x="304.06" y="426.86" font-family="'Liberation Serif',serif" font-size="7" font-weight="bold" text-anchor="start" fill="#222" >M</text>
<text transform="translate(3,266) scale(0.92,1)" font-family="'Liberation Serif',serif" font-size="23" font-weight="bold" fill="#000">(c)</text>
<polyline points="372.98,454.48 378.84,450.42 384.12,442.52 389.25,433.29 394.24,423.81 399.06,414.29 403.73,404.83 408.28,395.46 412.71,386.16 417.04,376.98 421.29,367.97 425.48,359.15 429.62,350.56 433.72,342.21 437.79,334.11 441.82,326.28 445.83,318.71 449.82,311.41 453.8,304.38 457.76,297.62 461.71,291.12 465.65,284.87 469.59,278.87 473.52,273.12 477.45,267.61" fill="none" stroke="#2a2a2a" stroke-width="0.8" stroke-linejoin="round" />
<circle cx="372.98" cy="454.48" r="1.6" fill="#000"/>
<circle cx="378.84" cy="450.42" r="1.6" fill="#000"/>
<circle cx="384.12" cy="442.52" r="1.6" fill="#000"/>
<circle cx="389.25" cy="433.29" r="1.6" fill="#000"/>
<circle cx="394.24" cy="423.81" r="1.6" fill="#000"/>
<circle cx="399.06" cy="414.29" r="1.6" fill="#000"/>
<circle cx="403.73" cy="404.83" r="1.6" fill="#000"/>
<circle cx="408.28" cy="395.46" r="1.6" fill="#000"/>
<circle cx="412.71" cy="386.16" r="1.6" fill="#000"/>
<circle cx="417.04" cy="376.98" r="1.6" fill="#000"/>
<circle cx="421.29" cy="367.97" r="1.6" fill="#000"/>
<circle cx="425.48" cy="359.15" r="1.6" fill="#000"/>
<circle cx="429.62" cy="350.56" r="1.6" fill="#000"/>
<circle cx="433.72" cy="342.21" r="1.6" fill="#000"/>
<circle cx="437.79" cy="334.11" r="1.6" fill="#000"/>
<circle cx="441.82" cy="326.28" r="1.6" fill="#000"/>
<circle cx="445.83" cy="318.71" r="1.6" fill="#000"/>
<circle cx="449.82" cy="311.41" r="1.6" fill="#000"/>
<circle cx="453.8" cy="304.38" r="1.6" fill="#000"/>
<circle cx="457.76" cy="297.62" r="1.6" fill="#000"/>
<circle cx="461.71" cy="291.12" r="1.6" fill="#000"/>
<circle cx="465.65" cy="284.87" r="1.6" fill="#000"/>
<circle cx="469.59" cy="278.87" r="1.6" fill="#000"/>
<circle cx="473.52" cy="273.12" r="1.6" fill="#000"/>
<circle cx="477.45" cy="267.61" r="1.6" fill="#000"/>
<polyline points="388.45,454.69 389.66,454.05 394.01,451.74 399.19,448.24 404.44,444.06 409.48,439.28 414.3,434.03 418.97,428.42 423.52,422.55 427.96,416.49 432.32,410.31 436.6,404.03 440.82,397.7 444.98,391.35 449.09,384.99 453.16,378.65 457.19,372.32 461.17,366.03 465.12,359.78 469.04,353.56 472.93,347.39 476.79,341.27 480.61,335.18 484.41,329.14 488.18,323.14" fill="none" stroke="#f52a2a" stroke-width="0.8" stroke-linejoin="round" />
<circle cx="388.45" cy="454.69" r="1.6" fill="#f01010"/>
<circle cx="389.66" cy="454.05" r="1.6" fill="#f01010"/>
<circle cx="394.01" cy="451.74" r="1.6" fill="#f01010"/>
<circle cx="399.19" cy="448.24" r="1.6" fill="#f01010"/>
<circle cx="404.44" cy="444.06" r="1.6" fill="#f01010"/>
<circle cx="409.48" cy="439.28" r="1.6" fill="#f01010"/>
<circle cx="414.3" cy="434.03" r="1.6" fill="#f01010"/>
<circle cx="418.97" cy="428.42" r="1.6" fill="#f01010"/>
<circle cx="423.52" cy="422.55" r="1.6" fill="#f01010"/>
<circle cx="427.96" cy="416.49" r="1.6" fill="#f01010"/>
<circle cx="432.32" cy="410.31" r="1.6" fill="#f01010"/>
<circle cx="436.6" cy="404.03" r="1.6" fill="#f01010"/>
<circle cx="440.82" cy="397.7" r="1.6" fill="#f01010"/>
<circle cx="444.98" cy="391.35" r="1.6" fill="#f01010"/>
<circle cx="449.09" cy="384.99" r="1.6" fill="#f01010"/>
<circle cx="453.16" cy="378.65" r="1.6" fill="#f01010"/>
<circle cx="457.19" cy="372.32" r="1.6" fill="#f01010"/>
<circle cx="461.17" cy="366.03" r="1.6" fill="#f01010"/>
<circle cx="465.12" cy="359.78" r="1.6" fill="#f01010"/>
<circle cx="469.04" cy="353.56" r="1.6" fill="#f01010"/>
<circle cx="472.93" cy="347.39" r="1.6" fill="#f01010"/>
<circle cx="476.79" cy="341.27" r="1.6" fill="#f01010"/>
<circle cx="480.61" cy="335.18" r="1.6" fill="#f01010"/>
<circle cx="484.41" cy="329.14" r="1.6" fill="#f01010"/>
<circle cx="488.18" cy="323.14" r="1.6" fill="#f01010"/>
<polyline points="391.51,454.69 393.66,454.31 397.61,452.74 402.9,450.23 408.32,447.13 413.46,443.45 418.35,439.25 423.04,434.64 427.58,429.68 431.99,424.43 436.3,418.96 440.54,413.32 444.7,407.54 448.81,401.68 452.88,395.76 456.9,389.82 460.9,383.88 464.87,377.97 468.82,372.11 472.76,366.32 476.68,360.62 480.6,355.02 484.51,349.54 488.42,344.18 492.33,338.95" fill="none" stroke="#2f5fcf" stroke-width="0.8" stroke-linejoin="round" />
<path d="M391.51,452.77L393.27,455.97L389.75,455.97Z" fill="#3cb43c"/>
<path d="M393.66,452.39L395.42,455.59L391.9,455.59Z" fill="#3cb43c"/>
<path d="M397.61,450.82L399.37,454.02L395.85,454.02Z" fill="#3cb43c"/>
<path d="M402.9,448.31L404.66,451.51L401.14,451.51Z" fill="#3cb43c"/>
<path d="M408.32,445.21L410.08,448.41L406.56,448.41Z" fill="#3cb43c"/>
<path d="M413.46,441.53L415.22,444.73L411.7,444.73Z" fill="#3cb43c"/>
<path d="M418.35,437.33L420.11,440.53L416.59,440.53Z" fill="#3cb43c"/>
<path d="M423.04,432.72L424.8,435.92L421.28,435.92Z" fill="#3cb43c"/>
<path d="M427.58,427.76L429.34,430.96L425.82,430.96Z" fill="#3cb43c"/>
<path d="M431.99,422.51L433.75,425.71L430.23,425.71Z" fill="#3cb43c"/>
<path d="M436.3,417.04L438.06,420.24L434.54,420.24Z" fill="#3cb43c"/>
<path d="M440.54,411.4L442.3,414.6L438.78,414.6Z" fill="#3cb43c"/>
<path d="M444.7,405.62L446.46,408.82L442.94,408.82Z" fill="#3cb43c"/>
<path d="M448.81,399.76L450.57,402.96L447.05,402.96Z" fill="#3cb43c"/>
<path d="M452.88,393.84L454.64,397.04L451.12,397.04Z" fill="#3cb43c"/>
<path d="M456.9,387.9L458.66,391.1L455.14,391.1Z" fill="#3cb43c"/>
<path d="M460.9,381.96L462.66,385.16L459.14,385.16Z" fill="#3cb43c"/>
<path d="M464.87,376.05L466.63,379.25L463.11,379.25Z" fill="#3cb43c"/>
<path d="M468.82,370.19L470.58,373.39L467.06,373.39Z" fill="#3cb43c"/>
<path d="M472.76,364.4L474.52,367.6L471,367.6Z" fill="#3cb43c"/>
<path d="M476.68,358.7L478.44,361.9L474.92,361.9Z" fill="#3cb43c"/>
<path d="M480.6,353.1L482.36,356.3L478.84,356.3Z" fill="#3cb43c"/>
<path d="M484.51,347.62L486.27,350.82L482.75,350.82Z" fill="#3cb43c"/>
<path d="M488.42,342.26L490.18,345.46L486.66,345.46Z" fill="#3cb43c"/>
<path d="M492.33,337.03L494.09,340.23L490.57,340.23Z" fill="#3cb43c"/>
<polyline points="395.8,454.7 398.2,454.47 401.68,453.41 406.63,451.52 412.55,449.32 417.98,446.6 423.01,443.39 427.8,439.76 432.39,435.76 436.82,431.43 441.14,426.82 445.35,421.97 449.49,416.93 453.56,411.74 457.58,406.42 461.56,401.02 465.51,395.56 469.43,390.08 473.34,384.6 477.23,379.15 481.12,373.77 485.01,368.45 488.9,363.24 492.8,358.15 496.71,353.19" fill="none" stroke="#1d9e5c" stroke-width="0.8" stroke-linejoin="round" />
<path d="M395.8,456.62L397.56,453.42L394.04,453.42Z" fill="#1a2a90"/>
<path d="M398.2,456.39L399.96,453.19L396.44,453.19Z" fill="#1a2a90"/>
<path d="M401.68,455.33L403.44,452.13L399.92,452.13Z" fill="#1a2a90"/>
<path d="M406.63,453.44L408.39,450.24L404.87,450.24Z" fill="#1a2a90"/>
<path d="M412.55,451.24L414.31,448.04L410.79,448.04Z" fill="#1a2a90"/>
<path d="M417.98,448.52L419.74,445.32L416.22,445.32Z" fill="#1a2a90"/>
<path d="M423.01,445.31L424.77,442.11L421.25,442.11Z" fill="#1a2a90"/>
<path d="M427.8,441.68L429.56,438.48L426.04,438.48Z" fill="#1a2a90"/>
<path d="M432.39,437.68L434.15,434.48L430.63,434.48Z" fill="#1a2a90"/>
<path d="M436.82,433.35L438.58,430.15L435.06,430.15Z" fill="#1a2a90"/>
<path d="M441.14,428.74L442.9,425.54L439.38,425.54Z" fill="#1a2a90"/>
<path d="M445.35,423.89L447.11,420.69L443.59,420.69Z" fill="#1a2a90"/>
<path d="M449.49,418.85L451.25,415.65L447.73,415.65Z" fill="#1a2a90"/>
<path d="M453.56,413.66L455.32,410.46L451.8,410.46Z" fill="#1a2a90"/>
<path d="M457.58,408.34L459.34,405.14L455.82,405.14Z" fill="#1a2a90"/>
<path d="M461.56,402.94L463.32,399.74L459.8,399.74Z" fill="#1a2a90"/>
<path d="M465.51,397.48L467.27,394.28L463.75,394.28Z" fill="#1a2a90"/>
<path d="M469.43,392L471.19,388.8L467.67,388.8Z" fill="#1a2a90"/>
<path d="M473.34,386.52L475.1,383.32L471.58,383.32Z" fill="#1a2a90"/>
<path d="M477.23,381.07L478.99,377.87L475.47,377.87Z" fill="#1a2a90"/>
<path d="M481.12,375.69L482.88,372.49L479.36,372.49Z" fill="#1a2a90"/>
<path d="M485.01,370.37L486.77,367.17L483.25,367.17Z" fill="#1a2a90"/>
<path d="M488.9,365.16L490.66,361.96L487.14,361.96Z" fill="#1a2a90"/>
<path d="M492.8,360.07L494.56,356.87L491.04,356.87Z" fill="#1a2a90"/>
<path d="M496.71,355.11L498.47,351.91L494.95,351.91Z" fill="#1a2a90"/>
<polyline points="399.75,454.7 402.14,454.54 406.17,453.85 411.47,452.57 417.53,450.97 422.92,448.89 427.88,446.33 432.6,443.37 437.12,440.04 441.5,436.37 445.76,432.41 449.93,428.19 454.02,423.75 458.05,419.14 462.04,414.38 466,409.51 469.93,404.57 473.84,399.59 477.75,394.6 481.66,389.62 485.57,384.7 489.49,379.84 493.42,375.08 497.37,370.45 501.35,365.95" fill="none" stroke="#a45fd2" stroke-width="0.8" stroke-linejoin="round" />
<path d="M399.75,452.62L401.35,454.7L399.75,456.78L398.15,454.7Z" fill="#40c8e8"/>
<path d="M402.14,452.46L403.74,454.54L402.14,456.62L400.54,454.54Z" fill="#40c8e8"/>
<path d="M406.17,451.77L407.77,453.85L406.17,455.93L404.57,453.85Z" fill="#40c8e8"/>
<path d="M411.47,450.49L413.07,452.57L411.47,454.65L409.87,452.57Z" fill="#40c8e8"/>
<path d="M417.53,448.89L419.13,450.97L417.53,453.05L415.93,450.97Z" fill="#40c8e8"/>
<path d="M422.92,446.81L424.52,448.89L422.92,450.97L421.32,448.89Z" fill="#40c8e8"/>
<path d="M427.88,444.25L429.48,446.33L427.88,448.41L426.28,446.33Z" fill="#40c8e8"/>
<path d="M432.6,441.29L434.2,443.37L432.6,445.45L431,443.37Z" fill="#40c8e8"/>
<path d="M437.12,437.96L438.72,440.04L437.12,442.12L435.52,440.04Z" fill="#40c8e8"/>
<path d="M441.5,434.29L443.1,436.37L441.5,438.45L439.9,436.37Z" fill="#40c8e8"/>
<path d="M445.76,430.33L447.36,432.41L445.76,434.49L444.16,432.41Z" fill="#40c8e8"/>
<path d="M449.93,426.11L451.53,428.19L449.93,430.27L448.33,428.19Z" fill="#40c8e8"/>
<path d="M454.02,421.67L455.62,423.75L454.02,425.83L452.42,423.75Z" fill="#40c8e8"/>
<path d="M458.05,417.06L459.65,419.14L458.05,421.22L456.45,419.14Z" fill="#40c8e8"/>
<path d="M462.04,412.3L463.64,414.38L462.04,416.46L460.44,414.38Z" fill="#40c8e8"/>
<path d="M466,407.43L467.6,409.51L466,411.59L464.4,409.51Z" fill="#40c8e8"/>
<path d="M469.93,402.49L471.53,404.57L469.93,406.65L468.33,404.57Z" fill="#40c8e8"/>
<path d="M473.84,397.51L475.44,399.59L473.84,401.67L472.24,399.59Z" fill="#40c8e8"/>
<path d="M477.75,392.52L479.35,394.6L477.75,396.68L476.15,394.6Z" fill="#40c8e8"/>
<path d="M481.66,387.54L483.26,389.62L481.66,391.7L480.06,389.62Z" fill="#40c8e8"/>
<path d="M485.57,382.62L487.17,384.7L485.57,386.78L483.97,384.7Z" fill="#40c8e8"/>
<path d="M489.49,377.76L491.09,379.84L489.49,381.92L487.89,379.84Z" fill="#40c8e8"/>
<path d="M493.42,373L495.02,375.08L493.42,377.16L491.82,375.08Z" fill="#40c8e8"/>
<path d="M497.37,368.37L498.97,370.45L497.37,372.53L495.77,370.45Z" fill="#40c8e8"/>
<path d="M501.35,363.87L502.95,365.95L501.35,368.03L499.75,365.95Z" fill="#40c8e8"/>
<polyline points="404.01,454.7 406.05,454.59 410.36,454.1 416.15,453.21 422.1,451.97 427.74,450.39 432.95,448.45 437.81,446.14 442.42,443.49 446.84,440.51 451.1,437.23 455.24,433.68 459.3,429.88 463.29,425.86 467.22,421.67 471.11,417.33 474.98,412.88 478.84,408.34 482.69,403.76 486.55,399.17 490.41,394.59 494.29,390.06 498.2,385.6 502.14,381.25 506.12,377.03" fill="none" stroke="#d39420" stroke-width="0.8" stroke-linejoin="round" />
<path d="M404.01,452.62L405.61,454.7L404.01,456.78L402.41,454.7Z" fill="#c020c0"/>
<path d="M406.05,452.51L407.65,454.59L406.05,456.67L404.45,454.59Z" fill="#c020c0"/>
<path d="M410.36,452.02L411.96,454.1L410.36,456.18L408.76,454.1Z" fill="#c020c0"/>
<path d="M416.15,451.13L417.75,453.21L416.15,455.29L414.55,453.21Z" fill="#c020c0"/>
<path d="M422.1,449.89L423.7,451.97L422.1,454.05L420.5,451.97Z" fill="#c020c0"/>
<path d="M427.74,448.31L429.34,450.39L427.74,452.47L426.14,450.39Z" fill="#c020c0"/>
<path d="M432.95,446.37L434.55,448.45L432.95,450.53L431.35,448.45Z" fill="#c020c0"/>
<path d="M437.81,444.06L439.41,446.14L437.81,448.22L436.21,446.14Z" fill="#c020c0"/>
<path d="M442.42,441.41L444.02,443.49L442.42,445.57L440.82,443.49Z" fill="#c020c0"/>
<path d="M446.84,438.43L448.44,440.51L446.84,442.59L445.24,440.51Z" fill="#c020c0"/>
<path d="M451.1,435.15L452.7,437.23L451.1,439.31L449.5,437.23Z" fill="#c020c0"/>
<path d="M455.24,431.6L456.84,433.68L455.24,435.76L453.64,433.68Z" fill="#c020c0"/>
<path d="M459.3,427.8L460.9,429.88L459.3,431.96L457.7,429.88Z" fill="#c020c0"/>
<path d="M463.29,423.78L464.89,425.86L463.29,427.94L461.69,425.86Z" fill="#c020c0"/>
<path d="M467.22,419.59L468.82,421.67L467.22,423.75L465.62,421.67Z" fill="#c020c0"/>
<path d="M471.11,415.25L472.71,417.33L471.11,419.41L469.51,417.33Z" fill="#c020c0"/>
<path d="M474.98,410.8L476.58,412.88L474.98,414.96L473.38,412.88Z" fill="#c020c0"/>
<path d="M478.84,406.26L480.44,408.34L478.84,410.42L477.24,408.34Z" fill="#c020c0"/>
<path d="M482.69,401.68L484.29,403.76L482.69,405.84L481.09,403.76Z" fill="#c020c0"/>
<path d="M486.55,397.09L488.15,399.17L486.55,401.25L484.95,399.17Z" fill="#c020c0"/>
<path d="M490.41,392.51L492.01,394.59L490.41,396.67L488.81,394.59Z" fill="#c020c0"/>
<path d="M494.29,387.98L495.89,390.06L494.29,392.14L492.69,390.06Z" fill="#c020c0"/>
<path d="M498.2,383.52L499.8,385.6L498.2,387.68L496.6,385.6Z" fill="#c020c0"/>
<path d="M502.14,379.17L503.74,381.25L502.14,383.33L500.54,381.25Z" fill="#c020c0"/>
<path d="M506.12,374.95L507.72,377.03L506.12,379.11L504.52,377.03Z" fill="#c020c0"/>
<polyline points="407.27,454.7 409.39,454.62 413.59,454.24 420.3,453.58 427.07,452.7 433.25,451.56 438.77,450.12 443.78,448.35 448.43,446.26 452.81,443.86 457,441.14 461.05,438.14 464.99,434.87 468.86,431.37 472.68,427.66 476.47,423.79 480.25,419.78 484.03,415.67 487.82,411.51 491.65,407.33 495.5,403.18 499.41,399.08 503.36,395.08 507.39,391.21 511.48,387.51" fill="none" stroke="#30c2d6" stroke-width="0.8" stroke-linejoin="round" />
<path d="M407.27,452.62L408.87,454.7L407.27,456.78L405.67,454.7Z" fill="#f0f020"/>
<path d="M409.39,452.54L410.99,454.62L409.39,456.7L407.79,454.62Z" fill="#f0f020"/>
<path d="M413.59,452.16L415.19,454.24L413.59,456.32L411.99,454.24Z" fill="#f0f020"/>
<path d="M420.3,451.5L421.9,453.58L420.3,455.66L418.7,453.58Z" fill="#f0f020"/>
<path d="M427.07,450.62L428.67,452.7L427.07,454.78L425.47,452.7Z" fill="#f0f020"/>
<path d="M433.25,449.48L434.85,451.56L433.25,453.64L431.65,451.56Z" fill="#f0f020"/>
<path d="M438.77,448.04L440.37,450.12L438.77,452.2L437.17,450.12Z" fill="#f0f020"/>
<path d="M443.78,446.27L445.38,448.35L443.78,450.43L442.18,448.35Z" fill="#f0f020"/>
<path d="M448.43,444.18L450.03,446.26L448.43,448.34L446.83,446.26Z" fill="#f0f020"/>
<path d="M452.81,441.78L454.41,443.86L452.81,445.94L451.21,443.86Z" fill="#f0f020"/>
<path d="M457,439.06L458.6,441.14L457,443.22L455.4,441.14Z" fill="#f0f020"/>
<path d="M461.05,436.06L462.65,438.14L461.05,440.22L459.45,438.14Z" fill="#f0f020"/>
<path d="M464.99,432.79L466.59,434.87L464.99,436.95L463.39,434.87Z" fill="#f0f020"/>
<path d="M468.86,429.29L470.46,431.37L468.86,433.45L467.26,431.37Z" fill="#f0f020"/>
<path d="M472.68,425.58L474.28,427.66L472.68,429.74L471.08,427.66Z" fill="#f0f020"/>
<path d="M476.47,421.71L478.07,423.79L476.47,425.87L474.87,423.79Z" fill="#f0f020"/>
<path d="M480.25,417.7L481.85,419.78L480.25,421.86L478.65,419.78Z" fill="#f0f020"/>
<path d="M484.03,413.59L485.63,415.67L484.03,417.75L482.43,415.67Z" fill="#f0f020"/>
<path d="M487.82,409.43L489.42,411.51L487.82,413.59L486.22,411.51Z" fill="#f0f020"/>
<path d="M491.65,405.25L493.25,407.33L491.65,409.41L490.05,407.33Z" fill="#f0f020"/>
<path d="M495.5,401.1L497.1,403.18L495.5,405.26L493.9,403.18Z" fill="#f0f020"/>
<path d="M499.41,397L501.01,399.08L499.41,401.16L497.81,399.08Z" fill="#f0f020"/>
<path d="M503.36,393L504.96,395.08L503.36,397.16L501.76,395.08Z" fill="#f0f020"/>
<path d="M507.39,389.13L508.99,391.21L507.39,393.29L505.79,391.21Z" fill="#f0f020"/>
<path d="M511.48,385.43L513.08,387.51L511.48,389.59L509.88,387.51Z" fill="#f0f020"/>
<polyline points="422.28,454.7 425.36,454.67 432.8,454.57 442.7,454.39 452.51,454.15 461.16,453.85 468.39,453.44 474.56,452.9 479.98,452.23 484.88,451.42 489.4,450.45 493.63,449.33 497.67,448.04 501.56,446.6 505.34,444.99 509.05,443.24 512.72,441.35 516.36,439.33 519.99,437.19 523.63,434.95 527.29,432.62 530.98,430.22 534.71,427.77 538.49,425.29 542.32,422.8" fill="none" stroke="#6b2b2e" stroke-width="0.8" stroke-linejoin="round" />
<circle cx="422.28" cy="454.7" r="1.6" fill="#808020"/>
<circle cx="425.36" cy="454.67" r="1.6" fill="#808020"/>
<circle cx="432.8" cy="454.57" r="1.6" fill="#808020"/>
<circle cx="442.7" cy="454.39" r="1.6" fill="#808020"/>
<circle cx="452.51" cy="454.15" r="1.6" fill="#808020"/>
<circle cx="461.16" cy="453.85" r="1.6" fill="#808020"/>
<circle cx="468.39" cy="453.44" r="1.6" fill="#808020"/>
<circle cx="474.56" cy="452.9" r="1.6" fill="#808020"/>
<circle cx="479.98" cy="452.23" r="1.6" fill="#808020"/>
<circle cx="484.88" cy="451.42" r="1.6" fill="#808020"/>
<circle cx="489.4" cy="450.45" r="1.6" fill="#808020"/>
<circle cx="493.63" cy="449.33" r="1.6" fill="#808020"/>
<circle cx="497.67" cy="448.04" r="1.6" fill="#808020"/>
<circle cx="501.56" cy="446.6" r="1.6" fill="#808020"/>
<circle cx="505.34" cy="444.99" r="1.6" fill="#808020"/>
<circle cx="509.05" cy="443.24" r="1.6" fill="#808020"/>
<circle cx="512.72" cy="441.35" r="1.6" fill="#808020"/>
<circle cx="516.36" cy="439.33" r="1.6" fill="#808020"/>
<circle cx="519.99" cy="437.19" r="1.6" fill="#808020"/>
<circle cx="523.63" cy="434.95" r="1.6" fill="#808020"/>
<circle cx="527.29" cy="432.62" r="1.6" fill="#808020"/>
<circle cx="530.98" cy="430.22" r="1.6" fill="#808020"/>
<circle cx="534.71" cy="427.77" r="1.6" fill="#808020"/>
<circle cx="538.49" cy="425.29" r="1.6" fill="#808020"/>
<circle cx="542.32" cy="422.8" r="1.6" fill="#808020"/>
<polyline points="433.68,454.7 436.66,454.69 445.48,454.63 460.35,454.56 475.24,454.47 487.48,454.36 497.43,454.21 505.75,454.02 512.91,453.77 519.21,453.47 524.87,453.1 530.04,452.66 534.84,452.15 539.35,451.57 543.63,450.91 547.74,450.17 551.72,449.35 555.59,448.45 559.38,447.47 563.11,446.41 566.8,445.28 570.46,444.08 574.1,442.8" fill="none" stroke="#8c8c28" stroke-width="0.8" stroke-linejoin="round" />
<path d="M433.68,452.78L435.44,455.98L431.92,455.98Z" fill="#1a2090"/>
<path d="M436.66,452.77L438.42,455.97L434.9,455.97Z" fill="#1a2090"/>
<path d="M445.48,452.71L447.24,455.91L443.72,455.91Z" fill="#1a2090"/>
<path d="M460.35,452.64L462.11,455.84L458.59,455.84Z" fill="#1a2090"/>
<path d="M475.24,452.55L477,455.75L473.48,455.75Z" fill="#1a2090"/>
<path d="M487.48,452.44L489.24,455.64L485.72,455.64Z" fill="#1a2090"/>
<path d="M497.43,452.29L499.19,455.49L495.67,455.49Z" fill="#1a2090"/>
<path d="M505.75,452.1L507.51,455.3L503.99,455.3Z" fill="#1a2090"/>
<path d="M512.91,451.85L514.67,455.05L511.15,455.05Z" fill="#1a2090"/>
<path d="M519.21,451.55L520.97,454.75L517.45,454.75Z" fill="#1a2090"/>
<path d="M524.87,451.18L526.63,454.38L523.11,454.38Z" fill="#1a2090"/>
<path d="M530.04,450.74L531.8,453.94L528.28,453.94Z" fill="#1a2090"/>
<path d="M534.84,450.23L536.6,453.43L533.08,453.43Z" fill="#1a2090"/>
<path d="M539.35,449.65L541.11,452.85L537.59,452.85Z" fill="#1a2090"/>
<path d="M543.63,448.99L545.39,452.19L541.87,452.19Z" fill="#1a2090"/>
<path d="M547.74,448.25L549.5,451.45L545.98,451.45Z" fill="#1a2090"/>
<path d="M551.72,447.43L553.48,450.63L549.96,450.63Z" fill="#1a2090"/>
<path d="M555.59,446.53L557.35,449.73L553.83,449.73Z" fill="#1a2090"/>
<path d="M559.38,445.55L561.14,448.75L557.62,448.75Z" fill="#1a2090"/>
<path d="M563.11,444.49L564.87,447.69L561.35,447.69Z" fill="#1a2090"/>
<path d="M566.8,443.36L568.56,446.56L565.04,446.56Z" fill="#1a2090"/>
<path d="M570.46,442.16L572.22,445.36L568.7,445.36Z" fill="#1a2090"/>
<path d="M574.1,440.88L575.86,444.08L572.34,444.08Z" fill="#1a2090"/>
<polyline points="437.74,454.7 438.71,454.69 448.56,454.64 465.96,454.59 483.95,454.53 498.77,454.46 510.68,454.36 520.48,454.24 528.75,454.07 535.89,453.87 542.2,453.63 547.89,453.33 553.1,452.99 557.95,452.59 562.53,452.14 566.91,451.63 571.12,451.07 575.23,450.44 579.25,449.76 583.22,449.03 587.18,448.24 591.15,447.41 595.14,446.53 599.19,445.62 603.29,444.68" fill="none" stroke="#ff5b1f" stroke-width="0.8" stroke-linejoin="round" />
<circle cx="437.74" cy="454.7" r="1.6" fill="#8020a0"/>
<circle cx="438.71" cy="454.69" r="1.6" fill="#8020a0"/>
<circle cx="448.56" cy="454.64" r="1.6" fill="#8020a0"/>
<circle cx="465.96" cy="454.59" r="1.6" fill="#8020a0"/>
<circle cx="483.95" cy="454.53" r="1.6" fill="#8020a0"/>
<circle cx="498.77" cy="454.46" r="1.6" fill="#8020a0"/>
<circle cx="510.68" cy="454.36" r="1.6" fill="#8020a0"/>
<circle cx="520.48" cy="454.24" r="1.6" fill="#8020a0"/>
<circle cx="528.75" cy="454.07" r="1.6" fill="#8020a0"/>
<circle cx="535.89" cy="453.87" r="1.6" fill="#8020a0"/>
<circle cx="542.2" cy="453.63" r="1.6" fill="#8020a0"/>
<circle cx="547.89" cy="453.33" r="1.6" fill="#8020a0"/>
<circle cx="553.1" cy="452.99" r="1.6" fill="#8020a0"/>
<circle cx="557.95" cy="452.59" r="1.6" fill="#8020a0"/>
<circle cx="562.53" cy="452.14" r="1.6" fill="#8020a0"/>
<circle cx="566.91" cy="451.63" r="1.6" fill="#8020a0"/>
<circle cx="571.12" cy="451.07" r="1.6" fill="#8020a0"/>
<circle cx="575.23" cy="450.44" r="1.6" fill="#8020a0"/>
<circle cx="579.25" cy="449.76" r="1.6" fill="#8020a0"/>
<circle cx="583.22" cy="449.03" r="1.6" fill="#8020a0"/>
<circle cx="587.18" cy="448.24" r="1.6" fill="#8020a0"/>
<circle cx="591.15" cy="447.41" r="1.6" fill="#8020a0"/>
<circle cx="595.14" cy="446.53" r="1.6" fill="#8020a0"/>
<circle cx="599.19" cy="445.62" r="1.6" fill="#8020a0"/>
<circle cx="603.29" cy="444.68" r="1.6" fill="#8020a0"/>
<polyline points="441.09,454.7 441.64,454.69 451.86,454.65 469.72,454.6 488.53,454.55 504.72,454.5 518.34,454.42 529.99,454.33 540.1,454.22 549,454.08 556.93,453.92 564.07,453.72 570.57,453.49 576.54,453.23 582.07,452.93 587.22,452.59 592.06,452.21 596.63,451.79 600.99,451.32 605.21,450.81 609.37,450.26 613.55,449.67 617.8,449.05 622.15,448.42 626.65,447.77" fill="none" stroke="#4a97e6" stroke-width="0.8" stroke-linejoin="round" />
<circle cx="441.09" cy="454.7" r="1.6" fill="#a02020"/>
<circle cx="441.64" cy="454.69" r="1.6" fill="#a02020"/>
<circle cx="451.86" cy="454.65" r="1.6" fill="#a02020"/>
<circle cx="469.72" cy="454.6" r="1.6" fill="#a02020"/>
<circle cx="488.53" cy="454.55" r="1.6" fill="#a02020"/>
<circle cx="504.72" cy="454.5" r="1.6" fill="#a02020"/>
<circle cx="518.34" cy="454.42" r="1.6" fill="#a02020"/>
<circle cx="529.99" cy="454.33" r="1.6" fill="#a02020"/>
<circle cx="540.1" cy="454.22" r="1.6" fill="#a02020"/>
<circle cx="549" cy="454.08" r="1.6" fill="#a02020"/>
<circle cx="556.93" cy="453.92" r="1.6" fill="#a02020"/>
<circle cx="564.07" cy="453.72" r="1.6" fill="#a02020"/>
<circle cx="570.57" cy="453.49" r="1.6" fill="#a02020"/>
<circle cx="576.54" cy="453.23" r="1.6" fill="#a02020"/>
<circle cx="582.07" cy="452.93" r="1.6" fill="#a02020"/>
<circle cx="587.22" cy="452.59" r="1.6" fill="#a02020"/>
<circle cx="592.06" cy="452.21" r="1.6" fill="#a02020"/>
<circle cx="596.63" cy="451.79" r="1.6" fill="#a02020"/>
<circle cx="600.99" cy="451.32" r="1.6" fill="#a02020"/>
<circle cx="605.21" cy="450.81" r="1.6" fill="#a02020"/>
<circle cx="609.37" cy="450.26" r="1.6" fill="#a02020"/>
<circle cx="613.55" cy="449.67" r="1.6" fill="#a02020"/>
<circle cx="617.8" cy="449.05" r="1.6" fill="#a02020"/>
<circle cx="622.15" cy="448.42" r="1.6" fill="#a02020"/>
<circle cx="626.65" cy="447.77" r="1.6" fill="#a02020"/>
<polyline points="443.51,454.7 443.96,454.69 455.44,454.66 473.35,454.61 491.9,454.57 508.13,454.52 522.07,454.45 534.23,454.37 544.93,454.27 554.45,454.15 562.97,454 570.66,453.84 577.64,453.64 584.01,453.42 589.85,453.16 595.23,452.87 600.2,452.54 604.82,452.16 609.13,451.74 613.3,451.28 617.45,450.79 621.68,450.27 626.1,449.73 630.76,449.18 635.75,448.64" fill="none" stroke="#4cbf3c" stroke-width="0.8" stroke-linejoin="round" />
<polyline points="444.72,454.7 446.55,454.69 458.49,454.66 476.71,454.62 495.53,454.58 512.07,454.53 526.41,454.47 539,454.4 550.18,454.31 560.2,454.21 569.24,454.08 577.46,453.94 584.97,453.77 591.86,453.58 598.23,453.37 604.12,453.12 609.6,452.84 614.7,452.53 619.52,452.19 624.21,451.82 628.97,451.42 633.93,451.01" fill="none" stroke="#3c3c3c" stroke-width="0.8" stroke-linejoin="round" />
<path d="M443.12,454.7H446.32M444.72,453.1V456.3" stroke="#20a0a0" stroke-width="0.6"/>
<path d="M444.95,454.69H448.15M446.55,453.09V456.29" stroke="#20a0a0" stroke-width="0.6"/>
<path d="M456.89,454.66H460.09M458.49,453.06V456.26" stroke="#20a0a0" stroke-width="0.6"/>
<path d="M475.11,454.62H478.31M476.71,453.02V456.22" stroke="#20a0a0" stroke-width="0.6"/>
<path d="M493.93,454.58H497.13M495.53,452.98V456.18" stroke="#20a0a0" stroke-width="0.6"/>
<path d="M510.47,454.53H513.67M512.07,452.93V456.13" stroke="#20a0a0" stroke-width="0.6"/>
<path d="M524.81,454.47H528.01M526.41,452.87V456.07" stroke="#20a0a0" stroke-width="0.6"/>
<path d="M537.4,454.4H540.6M539,452.8V456" stroke="#20a0a0" stroke-width="0.6"/>
<path d="M548.58,454.31H551.78M550.18,452.71V455.91" stroke="#20a0a0" stroke-width="0.6"/>
<path d="M558.6,454.21H561.8M560.2,452.61V455.81" stroke="#20a0a0" stroke-width="0.6"/>
<path d="M567.64,454.08H570.84M569.24,452.48V455.68" stroke="#20a0a0" stroke-width="0.6"/>
<path d="M575.86,453.94H579.06M577.46,452.34V455.54" stroke="#20a0a0" stroke-width="0.6"/>
<path d="M583.37,453.77H586.57M584.97,452.17V455.37" stroke="#20a0a0" stroke-width="0.6"/>
<path d="M590.26,453.58H593.46M591.86,451.98V455.18" stroke="#20a0a0" stroke-width="0.6"/>
<path d="M596.63,453.37H599.83M598.23,451.77V454.97" stroke="#20a0a0" stroke-width="0.6"/>
<path d="M602.52,453.12H605.72M604.12,451.52V454.72" stroke="#20a0a0" stroke-width="0.6"/>
<path d="M608,452.84H611.2M609.6,451.24V454.44" stroke="#20a0a0" stroke-width="0.6"/>
<path d="M613.1,452.53H616.3M614.7,450.93V454.13" stroke="#20a0a0" stroke-width="0.6"/>
<path d="M617.92,452.19H621.12M619.52,450.59V453.79" stroke="#20a0a0" stroke-width="0.6"/>
<path d="M622.61,451.82H625.81M624.21,450.22V453.42" stroke="#20a0a0" stroke-width="0.6"/>
<path d="M627.37,451.42H630.57M628.97,449.82V453.02" stroke="#20a0a0" stroke-width="0.6"/>
<path d="M632.33,451.01H635.53M633.93,449.41V452.61" stroke="#20a0a0" stroke-width="0.6"/>
<rect x="360.7" y="249.8" width="286.3" height="213.6" fill="none" stroke="#000" stroke-width="1.3"/>
<line x1="360.8" y1="463.4" x2="360.8" y2="459.9" stroke="#000" stroke-width="1" />
<line x1="360.8" y1="249.8" x2="360.8" y2="253.3" stroke="#000" stroke-width="1" />
<line x1="382.9" y1="463.4" x2="382.9" y2="461.4" stroke="#000" stroke-width="1" />
<line x1="382.9" y1="249.8" x2="382.9" y2="251.8" stroke="#000" stroke-width="1" />
<line x1="405" y1="463.4" x2="405" y2="459.9" stroke="#000" stroke-width="1" />
<line x1="405" y1="249.8" x2="405" y2="253.3" stroke="#000" stroke-width="1" />
<line x1="427.1" y1="463.4" x2="427.1" y2="461.4" stroke="#000" stroke-width="1" />
<line x1="427.1" y1="249.8" x2="427.1" y2="251.8" stroke="#000" stroke-width="1" />
<line x1="449.2" y1="463.4" x2="449.2" y2="459.9" stroke="#000" stroke-width="1" />
<line x1="449.2" y1="249.8" x2="449.2" y2="253.3" stroke="#000" stroke-width="1" />
<line x1="471.3" y1="463.4" x2="471.3" y2="461.4" stroke="#000" stroke-width="1" />
<line x1="471.3" y1="249.8" x2="471.3" y2="251.8" stroke="#000" stroke-width="1" />
<line x1="493.4" y1="463.4" x2="493.4" y2="459.9" stroke="#000" stroke-width="1" />
<line x1="493.4" y1="249.8" x2="493.4" y2="253.3" stroke="#000" stroke-width="1" />
<line x1="515.5" y1="463.4" x2="515.5" y2="461.4" stroke="#000" stroke-width="1" />
<line x1="515.5" y1="249.8" x2="515.5" y2="251.8" stroke="#000" stroke-width="1" />
<line x1="537.6" y1="463.4" x2="537.6" y2="459.9" stroke="#000" stroke-width="1" />
<line x1="537.6" y1="249.8" x2="537.6" y2="253.3" stroke="#000" stroke-width="1" />
<line x1="559.7" y1="463.4" x2="559.7" y2="461.4" stroke="#000" stroke-width="1" />
<line x1="559.7" y1="249.8" x2="559.7" y2="251.8" stroke="#000" stroke-width="1" />
<line x1="581.8" y1="463.4" x2="581.8" y2="459.9" stroke="#000" stroke-width="1" />
<line x1="581.8" y1="249.8" x2="581.8" y2="253.3" stroke="#000" stroke-width="1" />
<line x1="603.9" y1="463.4" x2="603.9" y2="461.4" stroke="#000" stroke-width="1" />
<line x1="603.9" y1="249.8" x2="603.9" y2="251.8" stroke="#000" stroke-width="1" />
<line x1="626" y1="463.4" x2="626" y2="459.9" stroke="#000" stroke-width="1" />
<line x1="626" y1="249.8" x2="626" y2="253.3" stroke="#000" stroke-width="1" />
<line x1="648.1" y1="463.4" x2="648.1" y2="461.4" stroke="#000" stroke-width="1" />
<line x1="648.1" y1="249.8" x2="648.1" y2="251.8" stroke="#000" stroke-width="1" />
<line x1="360.7" y1="454.7" x2="364.2" y2="454.7" stroke="#000" stroke-width="1" />
<line x1="647" y1="454.7" x2="643.5" y2="454.7" stroke="#000" stroke-width="1" />
<line x1="360.7" y1="434.18" x2="362.7" y2="434.18" stroke="#000" stroke-width="1" />
<line x1="647" y1="434.18" x2="645" y2="434.18" stroke="#000" stroke-width="1" />
<line x1="360.7" y1="413.65" x2="364.2" y2="413.65" stroke="#000" stroke-width="1" />
<line x1="647" y1="413.65" x2="643.5" y2="413.65" stroke="#000" stroke-width="1" />
<line x1="360.7" y1="393.12" x2="362.7" y2="393.12" stroke="#000" stroke-width="1" />
<line x1="647" y1="393.12" x2="645" y2="393.12" stroke="#000" stroke-width="1" />
<line x1="360.7" y1="372.6" x2="364.2" y2="372.6" stroke="#000" stroke-width="1" />
<line x1="647" y1="372.6" x2="643.5" y2="372.6" stroke="#000" stroke-width="1" />
<line x1="360.7" y1="352.07" x2="362.7" y2="352.07" stroke="#000" stroke-width="1" />
<line x1="647" y1="352.07" x2="645" y2="352.07" stroke="#000" stroke-width="1" />
<line x1="360.7" y1="331.55" x2="364.2" y2="331.55" stroke="#000" stroke-width="1" />
<line x1="647" y1="331.55" x2="643.5" y2="331.55" stroke="#000" stroke-width="1" />
<line x1="360.7" y1="311.02" x2="362.7" y2="311.02" stroke="#000" stroke-width="1" />
<line x1="647" y1="311.02" x2="645" y2="311.02" stroke="#000" stroke-width="1" />
<line x1="360.7" y1="290.5" x2="364.2" y2="290.5" stroke="#000" stroke-width="1" />
<line x1="647" y1="290.5" x2="643.5" y2="290.5" stroke="#000" stroke-width="1" />
<line x1="360.7" y1="269.98" x2="362.7" y2="269.98" stroke="#000" stroke-width="1" />
<line x1="647" y1="269.98" x2="645" y2="269.98" stroke="#000" stroke-width="1" />
<line x1="360.7" y1="249.45" x2="364.2" y2="249.45" stroke="#000" stroke-width="1" />
<line x1="647" y1="249.45" x2="643.5" y2="249.45" stroke="#000" stroke-width="1" />
<text x="360.8" y="474" font-family="'Liberation Sans',sans-serif" font-size="8.8" font-weight="bold" text-anchor="middle" fill="#111" >0</text>
<text x="405" y="474" font-family="'Liberation Sans',sans-serif" font-size="8.8" font-weight="bold" text-anchor="middle" fill="#111" >20</text>
<text x="449.2" y="474" font-family="'Liberation Sans',sans-serif" font-size="8.8" font-weight="bold" text-anchor="middle" fill="#111" >40</text>
<text x="493.4" y="474" font-family="'Liberation Sans',sans-serif" font-size="8.8" font-weight="bold" text-anchor="middle" fill="#111" >60</text>
<text x="537.6" y="474" font-family="'Liberation Sans',sans-serif" font-size="8.8" font-weight="bold" text-anchor="middle" fill="#111" >80</text>
<text x="581.8" y="474" font-family="'Liberation Sans',sans-serif" font-size="8.8" font-weight="bold" text-anchor="middle" fill="#111" >100</text>
<text x="626" y="474" font-family="'Liberation Sans',sans-serif" font-size="8.8" font-weight="bold" text-anchor="middle" fill="#111" >120</text>
<text x="356.5" y="457.8" font-family="'Liberation Sans',sans-serif" font-size="8.8" font-weight="bold" text-anchor="end" fill="#111" >0.0</text>
<text x="356.5" y="416.75" font-family="'Liberation Sans',sans-serif" font-size="8.8" font-weight="bold" text-anchor="end" fill="#111" >0.5</text>
<text x="356.5" y="375.7" font-family="'Liberation Sans',sans-serif" font-size="8.8" font-weight="bold" text-anchor="end" fill="#111" >1.0</text>
<text x="356.5" y="334.65" font-family="'Liberation Sans',sans-serif" font-size="8.8" font-weight="bold" text-anchor="end" fill="#111" >1.5</text>
<text x="356.5" y="293.6" font-family="'Liberation Sans',sans-serif" font-size="8.8" font-weight="bold" text-anchor="end" fill="#111" >2.0</text>
<text x="506.5" y="484.3" font-family="'Liberation Sans',sans-serif" font-size="10.8" font-weight="bold" text-anchor="middle" fill="#111" >H/M(mol Oe / emu)</text>
<text transform="translate(342.7,349.5) rotate(-90)" font-family="'Liberation Sans',sans-serif" font-size="11" font-weight="bold" text-anchor="middle" fill="#111">M<tspan dy="-4" font-size="7.6">4</tspan><tspan dy="4">(10</tspan><tspan dy="-4" font-size="7.6">12</tspan><tspan dy="4"> emu</tspan><tspan dy="-4" font-size="7.6">4</tspan><tspan dy="4">/mol</tspan><tspan dy="-4" font-size="7.6">4</tspan><tspan dy="4">)</tspan></text>
<line x1="590.2" y1="263.2" x2="606.2" y2="263.2" stroke="#2a2a2a" stroke-width="0.8" />
<circle cx="598.2" cy="263.2" r="1.3" fill="#000"/>
<text x="607.8" y="265.7" font-family="'Liberation Sans',sans-serif" font-size="7" font-weight="bold" text-anchor="start" fill="#111" >A&#160;1.8k</text>
<line x1="590.2" y1="271.9" x2="606.2" y2="271.9" stroke="#f52a2a" stroke-width="0.8" />
<circle cx="598.2" cy="271.9" r="1.3" fill="#f01010"/>
<text x="607.8" y="274.4" font-family="'Liberation Sans',sans-serif" font-size="7" font-weight="bold" text-anchor="start" fill="#111" >B&#160;10k</text>
<line x1="590.2" y1="280.6" x2="606.2" y2="280.6" stroke="#2f5fcf" stroke-width="0.8" />
<path d="M598.2,279.04L599.63,281.64L596.77,281.64Z" fill="#3cb43c"/>
<text x="607.8" y="283.1" font-family="'Liberation Sans',sans-serif" font-size="7" font-weight="bold" text-anchor="start" fill="#111" >C&#160;12k</text>
<line x1="590.2" y1="289.3" x2="606.2" y2="289.3" stroke="#1d9e5c" stroke-width="0.8" />
<path d="M598.2,290.86L599.63,288.26L596.77,288.26Z" fill="#1a2a90"/>
<text x="607.8" y="291.8" font-family="'Liberation Sans',sans-serif" font-size="7" font-weight="bold" text-anchor="start" fill="#111" >D&#160;14k</text>
<line x1="590.2" y1="298" x2="606.2" y2="298" stroke="#a45fd2" stroke-width="0.8" />
<path d="M598.2,296.31L599.5,298L598.2,299.69L596.9,298Z" fill="#40c8e8"/>
<text x="607.8" y="300.5" font-family="'Liberation Sans',sans-serif" font-size="7" font-weight="bold" text-anchor="start" fill="#111" >E&#160;16k</text>
<line x1="590.2" y1="306.7" x2="606.2" y2="306.7" stroke="#d39420" stroke-width="0.8" />
<path d="M598.2,305.01L599.5,306.7L598.2,308.39L596.9,306.7Z" fill="#c020c0"/>
<text x="607.8" y="309.2" font-family="'Liberation Sans',sans-serif" font-size="7" font-weight="bold" text-anchor="start" fill="#111" >F&#160;18k</text>
<line x1="590.2" y1="315.4" x2="606.2" y2="315.4" stroke="#30c2d6" stroke-width="0.8" />
<path d="M598.2,313.71L599.5,315.4L598.2,317.09L596.9,315.4Z" fill="#f0f020"/>
<text x="607.8" y="317.9" font-family="'Liberation Sans',sans-serif" font-size="7" font-weight="bold" text-anchor="start" fill="#111" >G&#160;20k</text>
<line x1="590.2" y1="324.1" x2="606.2" y2="324.1" stroke="#6b2b2e" stroke-width="0.8" />
<circle cx="598.2" cy="324.1" r="1.3" fill="#808020"/>
<text x="607.8" y="326.6" font-family="'Liberation Sans',sans-serif" font-size="7" font-weight="bold" text-anchor="start" fill="#111" >H&#160;30k</text>
<line x1="590.2" y1="332.8" x2="606.2" y2="332.8" stroke="#8c8c28" stroke-width="0.8" />
<path d="M598.2,331.24L599.63,333.84L596.77,333.84Z" fill="#1a2090"/>
<text x="607.8" y="335.3" font-family="'Liberation Sans',sans-serif" font-size="7" font-weight="bold" text-anchor="start" fill="#111" >&#160;I&#160;40k</text>
<line x1="590.2" y1="341.5" x2="606.2" y2="341.5" stroke="#ff5b1f" stroke-width="0.8" />
<circle cx="598.2" cy="341.5" r="1.3" fill="#8020a0"/>
<text x="607.8" y="344" font-family="'Liberation Sans',sans-serif" font-size="7" font-weight="bold" text-anchor="start" fill="#111" >J&#160;45k</text>
<line x1="590.2" y1="350.2" x2="606.2" y2="350.2" stroke="#4a97e6" stroke-width="0.8" />
<circle cx="598.2" cy="350.2" r="1.3" fill="#a02020"/>
<text x="607.8" y="352.7" font-family="'Liberation Sans',sans-serif" font-size="7" font-weight="bold" text-anchor="start" fill="#111" >K&#160;50k</text>
<line x1="590.2" y1="358.9" x2="606.2" y2="358.9" stroke="#4cbf3c" stroke-width="0.8" />
<text x="607.8" y="361.4" font-family="'Liberation Sans',sans-serif" font-size="7" font-weight="bold" text-anchor="start" fill="#111" >L&#160;52k</text>
<line x1="590.2" y1="367.6" x2="606.2" y2="367.6" stroke="#3c3c3c" stroke-width="0.8" />
<path d="M596.9,367.6H599.5M598.2,366.3V368.9" stroke="#20a0a0" stroke-width="0.6"/>
<text x="607.8" y="370.1" font-family="'Liberation Sans',sans-serif" font-size="7" font-weight="bold" text-anchor="start" fill="#111" >M&#160;54K</text>
<text x="483" y="266.4" font-family="'Liberation Serif',serif" font-size="7" font-weight="normal" text-anchor="middle" fill="#222" >A</text>
<text x="491.5" y="321.8" font-family="'Liberation Serif',serif" font-size="7" font-weight="normal" text-anchor="middle" fill="#222" >B</text>
<text x="495.7" y="337.2" font-family="'Liberation Serif',serif" font-size="7" font-weight="normal" text-anchor="middle" fill="#222" >C</text>
<text x="500.1" y="350.8" font-family="'Liberation Serif',serif" font-size="7" font-weight="normal" text-anchor="middle" fill="#222" >D</text>
<text x="504.4" y="363.1" font-family="'Liberation Serif',serif" font-size="7" font-weight="normal" text-anchor="middle" fill="#222" >E</text>
<text x="508.8" y="373.8" font-family="'Liberation Serif',serif" font-size="7" font-weight="normal" text-anchor="middle" fill="#222" >F</text>
<text x="516" y="384.2" font-family="'Liberation Serif',serif" font-size="7" font-weight="normal" text-anchor="middle" fill="#222" >G</text>
<text x="546.5" y="421.4" font-family="'Liberation Serif',serif" font-size="7" font-weight="normal" text-anchor="middle" fill="#222" >H</text>
<text x="576.2" y="442.8" font-family="'Liberation Serif',serif" font-size="7" font-weight="normal" text-anchor="middle" fill="#222" >I</text>
<text x="606.8" y="444.9" font-family="'Liberation Serif',serif" font-size="7" font-weight="normal" text-anchor="middle" fill="#222" >J</text>
<text x="629.8" y="447.5" font-family="'Liberation Serif',serif" font-size="7" font-weight="normal" text-anchor="middle" fill="#222" >K</text>
<text x="639.8" y="450" font-family="'Liberation Serif',serif" font-size="7" font-weight="normal" text-anchor="middle" fill="#222" >L</text>
<text x="635.5" y="459" font-family="'Liberation Serif',serif" font-size="7" font-weight="normal" text-anchor="middle" fill="#222" >M</text>
<text transform="translate(331,264.5) scale(0.965,1)" font-family="'Liberation Serif',serif" font-size="23" font-weight="normal" fill="#000" stroke="#000" stroke-width="0.55">(d)</text>
</svg>
</body></html>
